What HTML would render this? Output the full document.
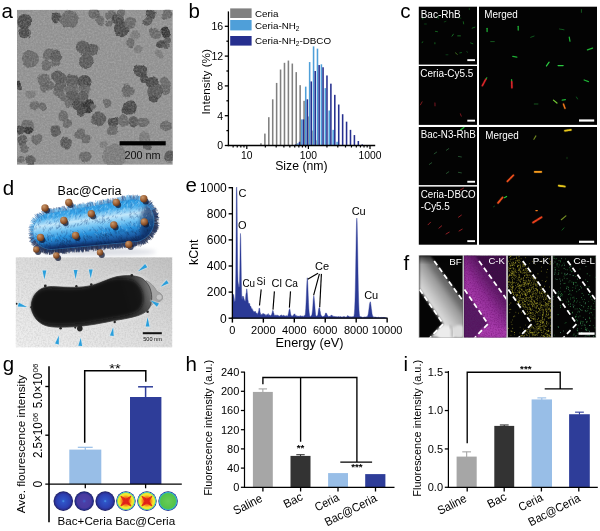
<!DOCTYPE html>
<html lang="en"><head><meta charset="utf-8"><title>Figure</title>
<style>html,body{margin:0;padding:0;background:#fff;overflow:hidden}svg{display:block}text{font-family:"Liberation Sans", Arial, Helvetica, sans-serif;}</style></head>
<body>
<svg width="600" height="531" viewBox="0 0 600 531">
<defs>
<clipPath id="clipA"><rect x="17.0" y="9.8" width="155.8" height="155.0"/></clipPath>
<filter id="blobA" x="-5%" y="-5%" width="110%" height="110%"><feTurbulence type="fractalNoise" baseFrequency="0.09" numOctaves="2" seed="4" result="t"/><feDisplacementMap in="SourceGraphic" in2="t" scale="5" xChannelSelector="R" yChannelSelector="G"/><feGaussianBlur stdDeviation="0.7"/></filter>
<filter id="noiseA" x="0" y="0" width="100%" height="100%"><feTurbulence type="fractalNoise" baseFrequency="0.55" numOctaves="2" seed="7"/><feColorMatrix type="matrix" values="0 0 0 0 0.5  0 0 0 0 0.5  0 0 0 0 0.5  1.6 0 0 0 -0.55"/></filter>
<filter id="noiseA2" x="0" y="0" width="100%" height="100%"><feTurbulence type="fractalNoise" baseFrequency="0.55" numOctaves="2" seed="11"/><feColorMatrix type="matrix" values="0 0 0 0 0.95  0 0 0 0 0.95  0 0 0 0 0.95  1.6 0 0 0 -0.6"/></filter>
<filter id="glowC" x="-20%" y="-20%" width="140%" height="140%"><feGaussianBlur stdDeviation="0.45"/></filter>
<linearGradient id="bodyD" gradientUnits="userSpaceOnUse" x1="89.2" y1="205" x2="94.8" y2="247"><stop offset="0" stop-color="#2a98e0"/><stop offset="0.16" stop-color="#3ea8ea"/><stop offset="0.34" stop-color="#c4e8fb"/><stop offset="0.5" stop-color="#74c4f3"/><stop offset="0.66" stop-color="#2a94de"/><stop offset="0.84" stop-color="#1c5fa8"/><stop offset="1" stop-color="#0c2050"/></linearGradient>
<radialGradient id="ballD" cx="0.35" cy="0.3" r="0.75"><stop offset="0" stop-color="#c9996c"/><stop offset="0.5" stop-color="#a2663a"/><stop offset="1" stop-color="#5e3218"/></radialGradient>
<filter id="softD" x="-10%" y="-10%" width="120%" height="120%"><feGaussianBlur stdDeviation="0.5"/></filter>
<filter id="shadD" x="-10%" y="-30%" width="120%" height="160%"><feGaussianBlur stdDeviation="2.2"/></filter>
<clipPath id="clipShad"><rect x="0" y="190" width="200" height="67.5"/></clipPath>
<clipPath id="clipBody"><path d="M153.80 220.60 L153.77 221.69 L153.69 222.77 L153.54 223.85 L153.35 224.92 L153.09 225.98 L152.78 227.03 L152.42 228.05 L152.00 229.06 L151.53 230.04 L151.01 231.00 L150.44 231.93 L149.83 232.83 L149.16 233.69 L148.46 234.52 L147.71 235.31 L146.92 236.06 L146.09 236.76 L145.23 237.43 L144.33 238.04 L143.40 238.61 L142.44 239.13 L141.46 239.60 L140.45 240.02 L139.43 240.38 L138.38 240.69 L137.32 240.95 L136.25 241.14 L135.17 241.29 L51.92 248.88 L51.00 248.90 L50.08 248.88 L49.16 248.80 L48.25 248.68 L47.34 248.52 L46.44 248.30 L45.56 248.04 L44.69 247.73 L43.84 247.38 L43.01 246.98 L42.20 246.54 L41.41 246.06 L40.65 245.54 L39.92 244.98 L39.22 244.38 L38.55 243.75 L37.92 243.08 L37.32 242.38 L36.76 241.65 L36.24 240.89 L35.76 240.10 L35.32 239.29 L34.92 238.46 L34.57 237.61 L34.26 236.74 L34.00 235.86 L33.78 234.96 L33.62 234.05 L33.50 233.14 L33.42 232.22 L33.40 231.30 L33.42 230.38 L33.50 229.46 L33.62 228.55 L33.78 227.64 L34.00 226.74 L34.26 225.86 L34.57 224.99 L34.92 224.14 L35.32 223.31 L35.76 222.50 L36.24 221.71 L36.76 220.95 L37.32 220.22 L37.92 219.52 L38.55 218.85 L39.22 218.22 L39.92 217.62 L40.65 217.06 L41.41 216.54 L42.20 216.06 L43.01 215.62 L43.84 215.22 L44.69 214.87 L45.56 214.56 L46.44 214.30 L47.34 214.08 L129.75 200.06 L130.83 199.91 L131.91 199.83 L133.00 199.80 L134.09 199.83 L135.17 199.91 L136.25 200.06 L137.32 200.25 L138.38 200.51 L139.43 200.82 L140.45 201.18 L141.46 201.60 L142.44 202.07 L143.40 202.59 L144.33 203.16 L145.23 203.77 L146.09 204.44 L146.92 205.14 L147.71 205.89 L148.46 206.68 L149.16 207.51 L149.83 208.37 L150.44 209.27 L151.01 210.20 L151.53 211.16 L152.00 212.14 L152.42 213.15 L152.78 214.17 L153.09 215.22 L153.35 216.28 L153.54 217.35 L153.69 218.43 L153.77 219.51 Z"/></clipPath>
<clipPath id="clipD2"><rect x="15.6" y="257.2" width="156.8" height="90.40000000000003"/></clipPath>
<linearGradient id="bgD2" x1="0" y1="1" x2="1" y2="0"><stop offset="0" stop-color="#f0f0f0"/><stop offset="0.5" stop-color="#dedede"/><stop offset="1" stop-color="#c2c2c2"/></linearGradient>
<filter id="blurD2" x="-5%" y="-10%" width="110%" height="120%"><feGaussianBlur stdDeviation="0.65"/></filter>
<filter id="blurD4" x="-5%" y="-10%" width="110%" height="120%"><feGaussianBlur stdDeviation="2.0"/></filter>
<filter id="blurD3" x="-20%" y="-20%" width="140%" height="140%"><feGaussianBlur stdDeviation="1.6"/></filter>
<filter id="noiseD" x="0" y="0" width="100%" height="100%"><feTurbulence type="fractalNoise" baseFrequency="0.6" numOctaves="2" seed="3"/><feColorMatrix type="matrix" values="0 0 0 0 0.3  0 0 0 0 0.3  0 0 0 0 0.3  1.5 0 0 0 -0.55"/></filter>
<radialGradient id="bacD2" cx="0.4" cy="0.5" r="0.7"><stop offset="0" stop-color="#131313"/><stop offset="0.7" stop-color="#1a1a1a"/><stop offset="1" stop-color="#242424"/></radialGradient>
<linearGradient id="bacD3" gradientUnits="userSpaceOnUse" x1="124" y1="300" x2="153" y2="292"><stop offset="0" stop-color="#2b2b2b"/><stop offset="0.45" stop-color="#383838"/><stop offset="0.75" stop-color="#5a5a5a"/><stop offset="1" stop-color="#808080"/></linearGradient>
<filter id="blurF" x="-10%" y="-10%" width="120%" height="120%"><feGaussianBlur stdDeviation="1.3"/></filter>
<filter id="blurF2" x="-10%" y="-10%" width="120%" height="120%"><feGaussianBlur stdDeviation="2.2"/></filter>
<filter id="noiseF" x="0" y="0" width="100%" height="100%"><feTurbulence type="fractalNoise" baseFrequency="0.7" numOctaves="2" seed="21"/><feColorMatrix type="matrix" values="0 0 0 0 0.1  0 0 0 0 0  0 0 0 0 0.1  1.8 0 0 0 -0.75"/></filter>
<linearGradient id="bandBF" gradientUnits="userSpaceOnUse" x1="427.5" y1="303" x2="448.5" y2="288"><stop offset="0" stop-color="#e2e2e2"/><stop offset="0.35" stop-color="#c4c4c4"/><stop offset="0.75" stop-color="#9a9a9a"/><stop offset="1" stop-color="#6a6a6a"/></linearGradient>
<linearGradient id="bandCK" gradientUnits="userSpaceOnUse" x1="472.3" y1="303" x2="493.3" y2="288"><stop offset="0" stop-color="#a83cac"/><stop offset="0.5" stop-color="#94309a"/><stop offset="1" stop-color="#641e6c"/></linearGradient>
<clipPath id="clipF0"><rect x="419.2" y="255.5" width="43.50" height="82.0"/></clipPath>
<clipPath id="clipF1"><rect x="464.0" y="255.5" width="42.30" height="82.0"/></clipPath>
<clipPath id="clipF2"><rect x="507.8" y="255.5" width="43.20" height="82.0"/></clipPath>
<clipPath id="clipF3"><rect x="552.6" y="255.5" width="43.20" height="82.0"/></clipPath>
<linearGradient id="vigF" x1="0" y1="0" x2="0" y2="1"><stop offset="0" stop-color="#000" stop-opacity="0.55"/><stop offset="1" stop-color="#000" stop-opacity="0"/></linearGradient>
<radialGradient id="wellB"><stop offset="0" stop-color="#4a9be8"/><stop offset="0.16" stop-color="#2f55c8"/><stop offset="0.7" stop-color="#2c3eb0"/><stop offset="0.86" stop-color="#2a2f90"/><stop offset="1" stop-color="#181c5a"/></radialGradient>
<radialGradient id="wellP"><stop offset="0" stop-color="#3f63c8"/><stop offset="0.2" stop-color="#4a3fa8"/><stop offset="0.7" stop-color="#4a3a9e"/><stop offset="0.86" stop-color="#2a2f90"/><stop offset="1" stop-color="#181c5a"/></radialGradient>
<radialGradient id="wellR"><stop offset="0" stop-color="#e8281a"/><stop offset="0.3" stop-color="#f0501c"/><stop offset="0.5" stop-color="#f7a81e"/><stop offset="0.64" stop-color="#f7e42a"/><stop offset="0.78" stop-color="#e8e83a"/><stop offset="0.86" stop-color="#7fd85a"/><stop offset="0.91" stop-color="#3fc0e0"/><stop offset="0.95" stop-color="#2444b0"/><stop offset="1" stop-color="#141a55"/></radialGradient>
<radialGradient id="wellG"><stop offset="0" stop-color="#66cc58"/><stop offset="0.74" stop-color="#55c248"/><stop offset="0.84" stop-color="#3fc088"/><stop offset="0.9" stop-color="#2fa8d8"/><stop offset="0.95" stop-color="#2444b0"/><stop offset="1" stop-color="#141a55"/></radialGradient>
</defs>
<g clip-path="url(#clipA)">
<rect x="17.00" y="9.80" width="155.80" height="155.00" fill="#8f8f8f" />
<g filter="url(#blobA)">
<circle cx="24.30" cy="21.10" r="7.00" fill="#404040" opacity="0.92"/>
<circle cx="24.30" cy="32.70" r="6.50" fill="#404040" opacity="0.92"/>
<circle cx="55.90" cy="18.00" r="5.40" fill="#404040" opacity="0.92"/>
<circle cx="69.00" cy="19.60" r="9.30" fill="#5e5e5e" opacity="0.85"/>
<circle cx="93.80" cy="13.40" r="5.40" fill="#5e5e5e" opacity="0.85"/>
<circle cx="82.90" cy="47.40" r="7.00" fill="#505050" opacity="0.9"/>
<circle cx="92.20" cy="48.90" r="6.20" fill="#505050" opacity="0.9"/>
<circle cx="86.80" cy="60.50" r="7.70" fill="#505050" opacity="0.9"/>
<circle cx="30.40" cy="59.00" r="8.50" fill="#5e5e5e" opacity="0.85"/>
<circle cx="48.20" cy="53.60" r="5.40" fill="#5e5e5e" opacity="0.85"/>
<circle cx="55.90" cy="55.90" r="5.40" fill="#505050" opacity="0.9"/>
<circle cx="46.70" cy="65.10" r="5.90" fill="#5e5e5e" opacity="0.85"/>
<circle cx="55.90" cy="62.00" r="4.60" fill="#5e5e5e" opacity="0.85"/>
<circle cx="43.60" cy="79.80" r="7.00" fill="#5e5e5e" opacity="0.85"/>
<circle cx="59.00" cy="77.50" r="7.00" fill="#505050" opacity="0.9"/>
<circle cx="72.10" cy="80.60" r="7.00" fill="#505050" opacity="0.9"/>
<circle cx="84.50" cy="82.10" r="7.00" fill="#404040" opacity="0.92"/>
<circle cx="18.90" cy="83.70" r="3.00" fill="#2c2c2c" opacity="0.95"/>
<circle cx="60.00" cy="86.00" r="6.00" fill="#505050" opacity="0.9"/>
<circle cx="49.00" cy="87.00" r="4.60" fill="#5e5e5e" opacity="0.85"/>
<circle cx="96.10" cy="14.20" r="3.90" fill="#5e5e5e" opacity="0.85"/>
<circle cx="100.70" cy="20.40" r="4.60" fill="#5e5e5e" opacity="0.85"/>
<circle cx="110.80" cy="14.90" r="4.60" fill="#5e5e5e" opacity="0.85"/>
<circle cx="109.20" cy="23.40" r="3.10" fill="#5e5e5e" opacity="0.85"/>
<circle cx="117.70" cy="19.60" r="6.20" fill="#404040" opacity="0.92"/>
<circle cx="121.60" cy="29.60" r="7.70" fill="#404040" opacity="0.92"/>
<circle cx="130.10" cy="23.40" r="5.40" fill="#5e5e5e" opacity="0.85"/>
<circle cx="120.80" cy="13.40" r="4.60" fill="#5e5e5e" opacity="0.85"/>
<circle cx="134.70" cy="35.00" r="4.60" fill="#727272" opacity="0.8"/>
<circle cx="130.10" cy="42.70" r="4.60" fill="#5e5e5e" opacity="0.85"/>
<circle cx="137.80" cy="48.90" r="3.90" fill="#727272" opacity="0.8"/>
<circle cx="150.10" cy="14.20" r="5.40" fill="#404040" opacity="0.92"/>
<circle cx="147.00" cy="21.10" r="4.60" fill="#505050" opacity="0.9"/>
<circle cx="167.10" cy="14.20" r="5.40" fill="#5e5e5e" opacity="0.85"/>
<circle cx="154.80" cy="33.50" r="5.40" fill="#5e5e5e" opacity="0.85"/>
<circle cx="165.60" cy="31.90" r="5.40" fill="#2c2c2c" opacity="0.95"/>
<circle cx="161.00" cy="43.50" r="4.60" fill="#404040" opacity="0.92"/>
<circle cx="167.10" cy="39.70" r="3.90" fill="#505050" opacity="0.9"/>
<circle cx="166.30" cy="46.60" r="3.40" fill="#505050" opacity="0.9"/>
<circle cx="159.40" cy="53.60" r="3.90" fill="#727272" opacity="0.8"/>
<circle cx="140.10" cy="71.30" r="7.00" fill="#404040" opacity="0.92"/>
<circle cx="144.00" cy="78.30" r="4.60" fill="#404040" opacity="0.92"/>
<circle cx="151.70" cy="82.10" r="6.20" fill="#404040" opacity="0.92"/>
<circle cx="165.60" cy="83.70" r="6.20" fill="#5e5e5e" opacity="0.85"/>
<circle cx="127.70" cy="87.50" r="3.90" fill="#5e5e5e" opacity="0.85"/>
<circle cx="18.90" cy="88.10" r="3.10" fill="#404040" opacity="0.92"/>
<circle cx="44.30" cy="87.30" r="5.40" fill="#5e5e5e" opacity="0.85"/>
<circle cx="59.80" cy="89.60" r="6.20" fill="#5e5e5e" opacity="0.85"/>
<circle cx="72.10" cy="88.90" r="6.20" fill="#5e5e5e" opacity="0.85"/>
<circle cx="84.50" cy="89.60" r="6.20" fill="#5e5e5e" opacity="0.85"/>
<circle cx="30.40" cy="94.30" r="4.30" fill="#727272" opacity="0.8"/>
<circle cx="35.10" cy="105.80" r="4.60" fill="#5e5e5e" opacity="0.85"/>
<circle cx="42.80" cy="106.60" r="4.30" fill="#5e5e5e" opacity="0.85"/>
<circle cx="68.30" cy="103.50" r="4.60" fill="#5e5e5e" opacity="0.85"/>
<circle cx="78.30" cy="104.30" r="6.20" fill="#404040" opacity="0.92"/>
<circle cx="87.60" cy="105.80" r="6.50" fill="#2c2c2c" opacity="0.95"/>
<circle cx="81.40" cy="111.30" r="4.60" fill="#404040" opacity="0.92"/>
<circle cx="62.90" cy="115.90" r="5.40" fill="#5e5e5e" opacity="0.85"/>
<circle cx="67.50" cy="123.60" r="4.60" fill="#5e5e5e" opacity="0.85"/>
<circle cx="55.90" cy="130.60" r="5.40" fill="#505050" opacity="0.9"/>
<circle cx="94.50" cy="120.50" r="3.90" fill="#5e5e5e" opacity="0.85"/>
<circle cx="27.40" cy="125.10" r="6.20" fill="#5e5e5e" opacity="0.85"/>
<circle cx="28.10" cy="130.60" r="4.60" fill="#2c2c2c" opacity="0.95"/>
<circle cx="21.20" cy="129.80" r="4.60" fill="#404040" opacity="0.92"/>
<circle cx="21.90" cy="140.60" r="5.40" fill="#505050" opacity="0.9"/>
<circle cx="36.60" cy="139.00" r="5.40" fill="#5e5e5e" opacity="0.85"/>
<circle cx="24.30" cy="148.30" r="4.60" fill="#5e5e5e" opacity="0.85"/>
<circle cx="79.90" cy="133.60" r="5.40" fill="#5e5e5e" opacity="0.85"/>
<circle cx="86.00" cy="139.00" r="4.60" fill="#5e5e5e" opacity="0.85"/>
<circle cx="66.00" cy="142.90" r="5.90" fill="#505050" opacity="0.9"/>
<circle cx="85.30" cy="156.80" r="6.20" fill="#5e5e5e" opacity="0.85"/>
<circle cx="30.40" cy="160.70" r="5.40" fill="#505050" opacity="0.9"/>
<circle cx="21.20" cy="159.10" r="3.00" fill="#5e5e5e" opacity="0.85"/>
<circle cx="72.00" cy="96.00" r="5.50" fill="#505050" opacity="0.9"/>
<circle cx="82.00" cy="96.50" r="5.50" fill="#505050" opacity="0.9"/>
<circle cx="63.00" cy="97.00" r="4.00" fill="#5e5e5e" opacity="0.85"/>
<circle cx="169.50" cy="157.00" r="5.50" fill="#505050" opacity="0.9"/>
<circle cx="127.70" cy="91.20" r="6.20" fill="#5e5e5e" opacity="0.85"/>
<circle cx="154.80" cy="92.00" r="7.70" fill="#505050" opacity="0.9"/>
<circle cx="153.20" cy="98.90" r="4.60" fill="#404040" opacity="0.92"/>
<circle cx="165.60" cy="89.60" r="4.60" fill="#5e5e5e" opacity="0.85"/>
<circle cx="106.90" cy="103.50" r="4.60" fill="#5e5e5e" opacity="0.85"/>
<circle cx="130.80" cy="107.40" r="7.00" fill="#404040" opacity="0.92"/>
<circle cx="126.20" cy="110.50" r="4.60" fill="#404040" opacity="0.92"/>
<circle cx="99.20" cy="118.20" r="7.00" fill="#505050" opacity="0.9"/>
<circle cx="113.10" cy="122.10" r="5.40" fill="#404040" opacity="0.92"/>
<circle cx="123.10" cy="120.50" r="5.40" fill="#5e5e5e" opacity="0.85"/>
<circle cx="133.90" cy="121.30" r="5.40" fill="#505050" opacity="0.9"/>
<circle cx="143.20" cy="122.80" r="5.40" fill="#5e5e5e" opacity="0.85"/>
<circle cx="113.10" cy="130.60" r="5.40" fill="#5e5e5e" opacity="0.85"/>
<circle cx="166.30" cy="125.90" r="5.40" fill="#5e5e5e" opacity="0.85"/>
<circle cx="144.00" cy="137.50" r="6.20" fill="#727272" opacity="0.8"/>
<circle cx="147.80" cy="146.00" r="3.90" fill="#505050" opacity="0.9"/>
<circle cx="103.80" cy="144.50" r="4.30" fill="#727272" opacity="0.8"/>
<circle cx="114.60" cy="156.00" r="11.60" fill="#727272" opacity="0.8"/>
<circle cx="169.40" cy="154.50" r="3.90" fill="#505050" opacity="0.9"/>
<circle cx="93.00" cy="107.40" r="2.30" fill="#5e5e5e" opacity="0.85"/>
</g>
<rect x="17.00" y="9.80" width="155.80" height="155.00" fill="#000" filter="url(#noiseA)" opacity="0.3"/>
<rect x="17.00" y="9.80" width="155.80" height="155.00" fill="#fff" filter="url(#noiseA2)" opacity="0.2"/>
</g>
<rect x="119.60" y="141.20" width="46.10" height="4.20" fill="#000" />
<text x="124.40" y="158.90" font-size="10.5" textLength="36.30" lengthAdjust="spacingAndGlyphs" fill="#111">200 nm</text>
<text x="1.60" y="18.00" font-size="20.5">a</text>
<rect x="260.18" y="143.26" width="1.55" height="2.24" fill="#808080" />
<rect x="264.10" y="133.58" width="1.55" height="11.92" fill="#808080" />
<rect x="268.02" y="117.19" width="1.55" height="28.31" fill="#808080" />
<rect x="271.94" y="99.31" width="1.55" height="46.19" fill="#808080" />
<rect x="275.86" y="82.92" width="1.55" height="62.58" fill="#808080" />
<rect x="279.78" y="69.51" width="1.55" height="75.99" fill="#808080" />
<rect x="283.70" y="62.81" width="1.55" height="82.69" fill="#808080" />
<rect x="287.62" y="60.57" width="1.55" height="84.93" fill="#808080" />
<rect x="291.54" y="63.55" width="1.55" height="81.95" fill="#808080" />
<rect x="295.46" y="72.12" width="1.55" height="73.38" fill="#808080" />
<rect x="299.38" y="85.16" width="1.55" height="60.34" fill="#808080" />
<rect x="303.30" y="100.80" width="1.55" height="44.70" fill="#808080" />
<rect x="307.22" y="116.44" width="1.55" height="29.06" fill="#808080" />
<rect x="311.14" y="130.60" width="1.55" height="14.90" fill="#808080" />
<rect x="315.05" y="140.28" width="1.55" height="5.22" fill="#808080" />
<rect x="297.11" y="143.26" width="1.55" height="2.24" fill="#4f9fd9" />
<rect x="301.03" y="119.42" width="1.55" height="26.08" fill="#4f9fd9" />
<rect x="304.95" y="86.64" width="1.55" height="58.86" fill="#4f9fd9" />
<rect x="308.87" y="62.06" width="1.55" height="83.44" fill="#4f9fd9" />
<rect x="312.79" y="46.41" width="1.55" height="99.09" fill="#4f9fd9" />
<rect x="316.70" y="48.65" width="1.55" height="96.85" fill="#4f9fd9" />
<rect x="320.62" y="64.30" width="1.55" height="81.20" fill="#4f9fd9" />
<rect x="324.54" y="88.13" width="1.55" height="57.37" fill="#4f9fd9" />
<rect x="328.46" y="110.48" width="1.55" height="35.02" fill="#4f9fd9" />
<rect x="332.38" y="129.85" width="1.55" height="15.65" fill="#4f9fd9" />
<rect x="336.30" y="141.78" width="1.55" height="3.72" fill="#4f9fd9" />
<rect x="294.84" y="144.38" width="1.55" height="1.12" fill="#262f8f" />
<rect x="298.76" y="141.78" width="1.55" height="3.72" fill="#262f8f" />
<rect x="302.68" y="119.42" width="1.55" height="26.08" fill="#262f8f" />
<rect x="306.60" y="99.31" width="1.55" height="46.19" fill="#262f8f" />
<rect x="310.52" y="81.43" width="1.55" height="64.07" fill="#262f8f" />
<rect x="314.44" y="71.00" width="1.55" height="74.50" fill="#262f8f" />
<rect x="318.35" y="65.04" width="1.55" height="80.46" fill="#262f8f" />
<rect x="322.27" y="67.27" width="1.55" height="78.23" fill="#262f8f" />
<rect x="326.19" y="75.47" width="1.55" height="70.03" fill="#262f8f" />
<rect x="330.11" y="83.66" width="1.55" height="61.84" fill="#262f8f" />
<rect x="334.03" y="94.84" width="1.55" height="50.66" fill="#262f8f" />
<rect x="337.95" y="104.53" width="1.55" height="40.97" fill="#262f8f" />
<rect x="341.87" y="114.21" width="1.55" height="31.29" fill="#262f8f" />
<rect x="345.79" y="121.66" width="1.55" height="23.84" fill="#262f8f" />
<rect x="349.71" y="129.85" width="1.55" height="15.65" fill="#262f8f" />
<rect x="353.63" y="135.07" width="1.55" height="10.43" fill="#262f8f" />
<rect x="357.55" y="141.03" width="1.55" height="4.47" fill="#262f8f" />
<rect x="361.47" y="144.38" width="1.55" height="1.12" fill="#262f8f" />
<line x1="228.40" y1="11.40" x2="228.40" y2="146.15" stroke="#000" stroke-width="1.3" />
<line x1="227.75" y1="145.50" x2="375.20" y2="145.50" stroke="#000" stroke-width="1.3" />
<line x1="224.80" y1="145.50" x2="228.40" y2="145.50" stroke="#000" stroke-width="1.3" />
<line x1="224.80" y1="115.70" x2="228.40" y2="115.70" stroke="#000" stroke-width="1.3" />
<line x1="224.80" y1="85.90" x2="228.40" y2="85.90" stroke="#000" stroke-width="1.3" />
<line x1="224.80" y1="56.10" x2="228.40" y2="56.10" stroke="#000" stroke-width="1.3" />
<line x1="224.80" y1="26.30" x2="228.40" y2="26.30" stroke="#000" stroke-width="1.3" />
<line x1="226.40" y1="130.60" x2="228.40" y2="130.60" stroke="#000" stroke-width="1.3" />
<line x1="226.40" y1="100.80" x2="228.40" y2="100.80" stroke="#000" stroke-width="1.3" />
<line x1="226.40" y1="71.00" x2="228.40" y2="71.00" stroke="#000" stroke-width="1.3" />
<line x1="226.40" y1="41.20" x2="228.40" y2="41.20" stroke="#000" stroke-width="1.3" />
<text x="223.20" y="149.30" font-size="10.5" text-anchor="end">0</text>
<text x="223.20" y="119.50" font-size="10.5" text-anchor="end">4</text>
<text x="223.20" y="89.70" font-size="10.5" text-anchor="end">8</text>
<text x="223.20" y="59.90" font-size="10.5" text-anchor="end">12</text>
<text x="223.20" y="30.10" font-size="10.5" text-anchor="end">16</text>
<line x1="233.13" y1="145.50" x2="233.13" y2="147.50" stroke="#000" stroke-width="1.2" />
<line x1="237.26" y1="145.50" x2="237.26" y2="147.50" stroke="#000" stroke-width="1.2" />
<line x1="240.83" y1="145.50" x2="240.83" y2="147.50" stroke="#000" stroke-width="1.2" />
<line x1="243.98" y1="145.50" x2="243.98" y2="147.50" stroke="#000" stroke-width="1.2" />
<line x1="246.80" y1="145.50" x2="246.80" y2="149.10" stroke="#000" stroke-width="1.2" />
<line x1="265.34" y1="145.50" x2="265.34" y2="147.50" stroke="#000" stroke-width="1.2" />
<line x1="276.19" y1="145.50" x2="276.19" y2="147.50" stroke="#000" stroke-width="1.2" />
<line x1="283.89" y1="145.50" x2="283.89" y2="147.50" stroke="#000" stroke-width="1.2" />
<line x1="289.86" y1="145.50" x2="289.86" y2="147.50" stroke="#000" stroke-width="1.2" />
<line x1="294.73" y1="145.50" x2="294.73" y2="147.50" stroke="#000" stroke-width="1.2" />
<line x1="298.86" y1="145.50" x2="298.86" y2="147.50" stroke="#000" stroke-width="1.2" />
<line x1="302.43" y1="145.50" x2="302.43" y2="147.50" stroke="#000" stroke-width="1.2" />
<line x1="305.58" y1="145.50" x2="305.58" y2="147.50" stroke="#000" stroke-width="1.2" />
<line x1="308.40" y1="145.50" x2="308.40" y2="149.10" stroke="#000" stroke-width="1.2" />
<line x1="326.94" y1="145.50" x2="326.94" y2="147.50" stroke="#000" stroke-width="1.2" />
<line x1="337.79" y1="145.50" x2="337.79" y2="147.50" stroke="#000" stroke-width="1.2" />
<line x1="345.49" y1="145.50" x2="345.49" y2="147.50" stroke="#000" stroke-width="1.2" />
<line x1="351.46" y1="145.50" x2="351.46" y2="147.50" stroke="#000" stroke-width="1.2" />
<line x1="356.33" y1="145.50" x2="356.33" y2="147.50" stroke="#000" stroke-width="1.2" />
<line x1="360.46" y1="145.50" x2="360.46" y2="147.50" stroke="#000" stroke-width="1.2" />
<line x1="364.03" y1="145.50" x2="364.03" y2="147.50" stroke="#000" stroke-width="1.2" />
<line x1="367.18" y1="145.50" x2="367.18" y2="147.50" stroke="#000" stroke-width="1.2" />
<line x1="370.00" y1="145.50" x2="370.00" y2="149.10" stroke="#000" stroke-width="1.2" />
<text x="246.80" y="159.20" font-size="10.3" text-anchor="middle">10</text>
<text x="308.40" y="159.20" font-size="10.3" text-anchor="middle">100</text>
<text x="370.00" y="159.20" font-size="10.3" text-anchor="middle">1000</text>
<text x="301.40" y="169.60" font-size="12" text-anchor="middle" textLength="52.40" lengthAdjust="spacingAndGlyphs">Size (nm)</text>
<text x="209.60" y="81.70" font-size="11.3" text-anchor="middle" textLength="65.40" lengthAdjust="spacingAndGlyphs" transform="rotate(-90 209.60 81.70)">Intensity (%)</text>
<rect x="230.20" y="8.40" width="21.40" height="9.60" fill="#808080" />
<rect x="230.20" y="20.00" width="21.40" height="10.40" fill="#4f9fd9" />
<rect x="230.20" y="36.00" width="21.40" height="9.60" fill="#262f8f" />
<text x="255.00" y="16.60" font-size="9.8">Ceria</text>
<text x="255.00" y="28.70" font-size="9.8">Ceria-NH<tspan font-size="6.6" dy="2.3">2</tspan></text>
<text x="255.00" y="43.80" font-size="9.8">Ceria-NH<tspan font-size="6.6" dy="2.3">2</tspan><tspan dy="-2.3">-DBCO</tspan></text>
<text x="188.60" y="18.00" font-size="20.5">b</text>
<rect x="418.80" y="6.70" width="58.20" height="57.90" fill="#030303" />
<rect x="418.80" y="66.00" width="58.20" height="58.90" fill="#030303" />
<rect x="418.80" y="127.00" width="58.20" height="58.10" fill="#030303" />
<rect x="418.80" y="186.60" width="58.20" height="58.10" fill="#030303" />
<rect x="479.00" y="6.70" width="118.00" height="118.20" fill="#030303" />
<rect x="479.00" y="127.00" width="118.00" height="117.70" fill="#030303" />
<g filter="url(#glowC)">
<line x1="487.10" y1="28.29" x2="487.10" y2="31.51" stroke="#22c43a" stroke-width="1.25" stroke-linecap="round" opacity="0.9"/>
<line x1="518.20" y1="26.36" x2="518.20" y2="30.04" stroke="#22c43a" stroke-width="1.25" stroke-linecap="round" opacity="0.9"/>
<line x1="490.66" y1="41.60" x2="494.34" y2="41.60" stroke="#1a7a2a" stroke-width="1.0" stroke-linecap="round" opacity="0.7"/>
<line x1="530.67" y1="37.33" x2="534.13" y2="36.07" stroke="#1a7a2a" stroke-width="1.0" stroke-linecap="round" opacity="0.7"/>
<line x1="559.53" y1="29.00" x2="564.07" y2="29.80" stroke="#1a7a2a" stroke-width="1.0" stroke-linecap="round" opacity="0.7"/>
<line x1="569.24" y1="37.16" x2="569.96" y2="41.24" stroke="#22c43a" stroke-width="1.25" stroke-linecap="round" opacity="0.9"/>
<line x1="581.40" y1="9.62" x2="581.40" y2="12.38" stroke="#1a7a2a" stroke-width="1.0" stroke-linecap="round" opacity="0.7"/>
<line x1="587.41" y1="49.94" x2="592.59" y2="48.06" stroke="#22c43a" stroke-width="1.25" stroke-linecap="round" opacity="0.9"/>
<line x1="512.76" y1="56.44" x2="516.84" y2="57.16" stroke="#22c43a" stroke-width="1.25" stroke-linecap="round" opacity="0.9"/>
<line x1="546.48" y1="65.98" x2="549.12" y2="62.22" stroke="#30e048" stroke-width="1.25" stroke-linecap="round" opacity="0.9"/>
<line x1="558.07" y1="65.60" x2="563.13" y2="65.60" stroke="#30e048" stroke-width="1.25" stroke-linecap="round" opacity="0.9"/>
<line x1="584.14" y1="80.01" x2="588.46" y2="81.59" stroke="#22c43a" stroke-width="1.25" stroke-linecap="round" opacity="0.9"/>
<line x1="534.26" y1="104.00" x2="537.94" y2="104.00" stroke="#1a7a2a" stroke-width="1.0" stroke-linecap="round" opacity="0.7"/>
<line x1="553.44" y1="100.12" x2="556.96" y2="103.08" stroke="#7fe03a" stroke-width="1.25" stroke-linecap="round" opacity="0.9"/>
<line x1="562.21" y1="100.18" x2="565.39" y2="99.62" stroke="#22c43a" stroke-width="1.25" stroke-linecap="round" opacity="0.9"/>
<line x1="576.42" y1="97.00" x2="577.58" y2="99.00" stroke="#1a7a2a" stroke-width="1.0" stroke-linecap="round" opacity="0.7"/>
<line x1="485.84" y1="79.40" x2="486.76" y2="77.80" stroke="#22c43a" stroke-width="1.25" stroke-linecap="round" opacity="0.9"/>
<line x1="511.60" y1="79.68" x2="511.60" y2="81.52" stroke="#22c43a" stroke-width="1.25" stroke-linecap="round" opacity="0.9"/>
<line x1="482.36" y1="85.69" x2="485.64" y2="79.51" stroke="#d8262a" stroke-width="2.70" stroke-linecap="round" opacity="0.20"/>
<line x1="482.36" y1="85.69" x2="483.77" y2="83.03" stroke="#d8262a" stroke-width="1.5" stroke-linecap="round" opacity="1.0"/>
<line x1="484.23" y1="82.17" x2="485.64" y2="79.51" stroke="#d8262a" stroke-width="1.5" stroke-linecap="round" opacity="1.0"/>
<line x1="482.36" y1="85.69" x2="485.64" y2="79.51" stroke="#d8262a" stroke-width="0.90" opacity="0.70"/>
<line x1="511.70" y1="81.80" x2="511.90" y2="87.80" stroke="#d8262a" stroke-width="2.70" stroke-linecap="round" opacity="0.20"/>
<line x1="511.70" y1="81.80" x2="511.79" y2="84.38" stroke="#d8262a" stroke-width="1.5" stroke-linecap="round" opacity="1.0"/>
<line x1="511.81" y1="85.22" x2="511.90" y2="87.80" stroke="#d8262a" stroke-width="1.5" stroke-linecap="round" opacity="1.0"/>
<line x1="511.70" y1="81.80" x2="511.90" y2="87.80" stroke="#d8262a" stroke-width="0.90" opacity="0.70"/>
<line x1="563.43" y1="104.09" x2="564.97" y2="108.31" stroke="#f0781e" stroke-width="2.50" stroke-linecap="round" opacity="0.20"/>
<line x1="563.43" y1="104.09" x2="564.09" y2="105.90" stroke="#f0781e" stroke-width="1.3" stroke-linecap="round" opacity="1.0"/>
<line x1="564.31" y1="106.50" x2="564.97" y2="108.31" stroke="#f0781e" stroke-width="1.3" stroke-linecap="round" opacity="1.0"/>
<line x1="563.43" y1="104.09" x2="564.97" y2="108.31" stroke="#f0781e" stroke-width="0.78" opacity="0.70"/>
<line x1="422.80" y1="17.38" x2="422.80" y2="19.11" stroke="#22c43a" stroke-width="0.85" stroke-linecap="round" opacity="0.55"/>
<line x1="438.13" y1="16.42" x2="438.13" y2="18.39" stroke="#22c43a" stroke-width="0.85" stroke-linecap="round" opacity="0.55"/>
<line x1="424.47" y1="24.01" x2="426.44" y2="24.01" stroke="#1a7a2a" stroke-width="0.85" stroke-linecap="round" opacity="0.55"/>
<line x1="444.21" y1="21.94" x2="446.06" y2="21.26" stroke="#1a7a2a" stroke-width="0.85" stroke-linecap="round" opacity="0.55"/>
<line x1="458.42" y1="17.78" x2="460.85" y2="18.21" stroke="#1a7a2a" stroke-width="0.85" stroke-linecap="round" opacity="0.55"/>
<line x1="463.29" y1="21.74" x2="463.68" y2="23.92" stroke="#22c43a" stroke-width="0.85" stroke-linecap="round" opacity="0.55"/>
<line x1="469.31" y1="8.18" x2="469.31" y2="9.66" stroke="#1a7a2a" stroke-width="0.85" stroke-linecap="round" opacity="0.55"/>
<line x1="472.16" y1="28.17" x2="474.94" y2="27.16" stroke="#22c43a" stroke-width="0.85" stroke-linecap="round" opacity="0.55"/>
<line x1="435.36" y1="31.32" x2="437.55" y2="31.70" stroke="#22c43a" stroke-width="0.85" stroke-linecap="round" opacity="0.55"/>
<line x1="452.03" y1="36.12" x2="453.44" y2="34.10" stroke="#30e048" stroke-width="0.85" stroke-linecap="round" opacity="0.55"/>
<line x1="457.69" y1="35.85" x2="460.40" y2="35.85" stroke="#30e048" stroke-width="0.85" stroke-linecap="round" opacity="0.55"/>
<line x1="470.56" y1="42.93" x2="472.88" y2="43.77" stroke="#22c43a" stroke-width="0.85" stroke-linecap="round" opacity="0.55"/>
<line x1="445.98" y1="54.79" x2="447.95" y2="54.79" stroke="#1a7a2a" stroke-width="0.85" stroke-linecap="round" opacity="0.55"/>
<line x1="455.44" y1="52.82" x2="457.33" y2="54.40" stroke="#7fe03a" stroke-width="0.85" stroke-linecap="round" opacity="0.55"/>
<line x1="459.78" y1="52.92" x2="461.48" y2="52.62" stroke="#22c43a" stroke-width="0.85" stroke-linecap="round" opacity="0.55"/>
<line x1="466.83" y1="51.30" x2="467.44" y2="52.37" stroke="#1a7a2a" stroke-width="0.85" stroke-linecap="round" opacity="0.55"/>
<line x1="422.10" y1="42.78" x2="422.70" y2="41.74" stroke="#22c43a" stroke-width="0.85" stroke-linecap="round" opacity="0.55"/>
<line x1="434.88" y1="42.65" x2="434.88" y2="43.85" stroke="#22c43a" stroke-width="0.85" stroke-linecap="round" opacity="0.55"/>
<line x1="420.44" y1="104.88" x2="422.09" y2="101.79" stroke="#8a1c22" stroke-width="0.9" stroke-linecap="round" opacity="1.0"/>
<line x1="434.93" y1="102.92" x2="435.03" y2="105.92" stroke="#8a1c22" stroke-width="0.9" stroke-linecap="round" opacity="1.0"/>
<line x1="460.39" y1="113.80" x2="461.25" y2="116.15" stroke="#8a1c22" stroke-width="0.9" stroke-linecap="round" opacity="1.0"/>
<line x1="564.93" y1="130.72" x2="570.87" y2="129.88" stroke="#e8c81e" stroke-width="2.90" stroke-linecap="round" opacity="0.20"/>
<line x1="564.93" y1="130.72" x2="567.48" y2="130.36" stroke="#e8c81e" stroke-width="1.7" stroke-linecap="round" opacity="1.0"/>
<line x1="568.32" y1="130.24" x2="570.87" y2="129.88" stroke="#e8c81e" stroke-width="1.7" stroke-linecap="round" opacity="1.0"/>
<line x1="564.93" y1="130.72" x2="570.87" y2="129.88" stroke="#e8c81e" stroke-width="1.02" opacity="0.70"/>
<line x1="533.90" y1="139.33" x2="535.90" y2="135.87" stroke="#8aa82a" stroke-width="1.1" stroke-linecap="round" opacity="0.8"/>
<line x1="534.75" y1="171.90" x2="541.25" y2="171.90" stroke="#f59a1e" stroke-width="2.80" stroke-linecap="round" opacity="0.20"/>
<line x1="534.75" y1="171.90" x2="537.54" y2="171.90" stroke="#f59a1e" stroke-width="1.6" stroke-linecap="round" opacity="1.0"/>
<line x1="538.46" y1="171.90" x2="541.25" y2="171.90" stroke="#f59a1e" stroke-width="1.6" stroke-linecap="round" opacity="1.0"/>
<line x1="534.75" y1="171.90" x2="541.25" y2="171.90" stroke="#f59a1e" stroke-width="0.96" opacity="0.70"/>
<line x1="507.39" y1="181.31" x2="513.41" y2="175.29" stroke="#f0501e" stroke-width="2.80" stroke-linecap="round" opacity="0.20"/>
<line x1="507.39" y1="181.31" x2="509.98" y2="178.72" stroke="#f0501e" stroke-width="1.6" stroke-linecap="round" opacity="1.0"/>
<line x1="510.82" y1="177.88" x2="513.41" y2="175.29" stroke="#f0501e" stroke-width="1.6" stroke-linecap="round" opacity="1.0"/>
<line x1="507.39" y1="181.31" x2="513.41" y2="175.29" stroke="#f0501e" stroke-width="0.96" opacity="0.70"/>
<line x1="558.83" y1="185.68" x2="564.77" y2="186.52" stroke="#e8c81e" stroke-width="2.90" stroke-linecap="round" opacity="0.20"/>
<line x1="558.83" y1="185.68" x2="561.38" y2="186.04" stroke="#e8c81e" stroke-width="1.7" stroke-linecap="round" opacity="1.0"/>
<line x1="562.22" y1="186.16" x2="564.77" y2="186.52" stroke="#e8c81e" stroke-width="1.7" stroke-linecap="round" opacity="1.0"/>
<line x1="558.83" y1="185.68" x2="564.77" y2="186.52" stroke="#e8c81e" stroke-width="1.02" opacity="0.70"/>
<line x1="498.05" y1="202.88" x2="502.55" y2="197.52" stroke="#f0501e" stroke-width="2.90" stroke-linecap="round" opacity="0.20"/>
<line x1="498.05" y1="202.88" x2="499.99" y2="200.58" stroke="#f0501e" stroke-width="1.7" stroke-linecap="round" opacity="1.0"/>
<line x1="500.61" y1="199.82" x2="502.55" y2="197.52" stroke="#f0501e" stroke-width="1.7" stroke-linecap="round" opacity="1.0"/>
<line x1="498.05" y1="202.88" x2="502.55" y2="197.52" stroke="#f0501e" stroke-width="1.02" opacity="0.70"/>
<line x1="504.42" y1="197.72" x2="506.58" y2="196.47" stroke="#22c43a" stroke-width="1.2" stroke-linecap="round" opacity="1.0"/>
<line x1="533.06" y1="222.55" x2="541.54" y2="217.25" stroke="#e8401e" stroke-width="2.90" stroke-linecap="round" opacity="0.20"/>
<line x1="533.06" y1="222.55" x2="536.71" y2="220.27" stroke="#e8401e" stroke-width="1.7" stroke-linecap="round" opacity="1.0"/>
<line x1="537.89" y1="219.53" x2="541.54" y2="217.25" stroke="#e8401e" stroke-width="1.7" stroke-linecap="round" opacity="1.0"/>
<line x1="533.06" y1="222.55" x2="541.54" y2="217.25" stroke="#e8401e" stroke-width="1.02" opacity="0.70"/>
<line x1="561.30" y1="219.73" x2="565.90" y2="215.87" stroke="#8aa82a" stroke-width="1.2" stroke-linecap="round" opacity="0.85"/>
<line x1="535.85" y1="210.60" x2="537.35" y2="210.60" stroke="#f0781e" stroke-width="1.1" stroke-linecap="round" opacity="1.0"/>
<line x1="562.04" y1="230.15" x2="563.96" y2="227.85" stroke="#1a7a2a" stroke-width="0.9" stroke-linecap="round" opacity="0.8"/>
<line x1="493.52" y1="207.07" x2="494.48" y2="205.93" stroke="#1a7a2a" stroke-width="0.9" stroke-linecap="round" opacity="0.8"/>
<line x1="567.00" y1="157.25" x2="567.00" y2="158.75" stroke="#1a7a2a" stroke-width="0.8" stroke-linecap="round" opacity="0.6"/>
<line x1="460.66" y1="129.75" x2="463.94" y2="127.45" stroke="#22c43a" stroke-width="1.1" stroke-linecap="round" opacity="1.0"/>
<line x1="434.17" y1="153.86" x2="436.63" y2="152.14" stroke="#3f8f52" stroke-width="0.85" stroke-linecap="round" opacity="0.65"/>
<line x1="446.37" y1="150.26" x2="448.83" y2="148.54" stroke="#3f8f52" stroke-width="0.85" stroke-linecap="round" opacity="0.65"/>
<line x1="458.42" y1="156.44" x2="461.38" y2="156.96" stroke="#3f8f52" stroke-width="0.85" stroke-linecap="round" opacity="0.65"/>
<line x1="429.27" y1="164.46" x2="431.73" y2="162.74" stroke="#3f8f52" stroke-width="0.85" stroke-linecap="round" opacity="0.65"/>
<line x1="446.37" y1="173.46" x2="448.83" y2="171.74" stroke="#3f8f52" stroke-width="0.85" stroke-linecap="round" opacity="0.65"/>
<line x1="458.42" y1="172.34" x2="461.38" y2="172.86" stroke="#3f8f52" stroke-width="0.85" stroke-linecap="round" opacity="0.65"/>
<line x1="458.43" y1="217.23" x2="461.37" y2="215.17" stroke="#c02830" stroke-width="1.0" stroke-linecap="round" opacity="0.75"/>
<line x1="428.03" y1="224.77" x2="430.57" y2="222.23" stroke="#c02830" stroke-width="1.0" stroke-linecap="round" opacity="0.75"/>
<line x1="438.92" y1="228.16" x2="441.68" y2="225.84" stroke="#c02830" stroke-width="1.0" stroke-linecap="round" opacity="0.75"/>
<line x1="446.04" y1="234.00" x2="449.16" y2="232.20" stroke="#c02830" stroke-width="1.0" stroke-linecap="round" opacity="0.75"/>
<line x1="459.04" y1="231.00" x2="462.16" y2="229.20" stroke="#c02830" stroke-width="1.0" stroke-linecap="round" opacity="0.75"/>
<line x1="460.44" y1="189.90" x2="463.56" y2="188.10" stroke="#c02830" stroke-width="1.0" stroke-linecap="round" opacity="0.75"/>
</g>
<rect x="467.30" y="59.20" width="7.70" height="1.90" fill="#fff" />
<rect x="467.30" y="119.70" width="7.70" height="1.90" fill="#fff" />
<rect x="467.30" y="180.80" width="7.70" height="1.90" fill="#fff" />
<rect x="467.30" y="240.20" width="7.70" height="1.90" fill="#fff" />
<rect x="579.00" y="119.40" width="15.20" height="2.20" fill="#fff" />
<rect x="579.00" y="240.70" width="15.20" height="2.20" fill="#fff" />
<text x="420.70" y="17.50" font-size="10.4" textLength="40.00" lengthAdjust="spacingAndGlyphs" fill="#fff">Bac-RhB</text>
<text x="420.30" y="76.70" font-size="10.4" textLength="53.00" lengthAdjust="spacingAndGlyphs" fill="#fff">Ceria-Cy5.5</text>
<text x="420.70" y="137.70" font-size="10.4" textLength="55.00" lengthAdjust="spacingAndGlyphs" fill="#fff">Bac-N3-RhB</text>
<text x="420.70" y="197.70" font-size="10.4" textLength="54.90" lengthAdjust="spacingAndGlyphs" fill="#fff">Ceria-DBCO</text>
<text x="420.70" y="210.00" font-size="10.4" textLength="29.20" lengthAdjust="spacingAndGlyphs" fill="#fff">-Cy5.5</text>
<text x="484.20" y="17.70" font-size="10.4" textLength="33.50" lengthAdjust="spacingAndGlyphs" fill="#fff">Merged</text>
<text x="485.20" y="139.20" font-size="10.4" textLength="33.50" lengthAdjust="spacingAndGlyphs" fill="#fff">Merged</text>
<text x="400.20" y="17.70" font-size="20.5">c</text>
<g clip-path="url(#clipD2)">
<rect x="15.60" y="257.20" width="156.80" height="90.40" fill="url(#bgD2)" />
<rect x="15.60" y="257.20" width="156.80" height="90.40" fill="#000" filter="url(#noiseD)" opacity="0.32"/>
<path d="M31.3 307 C31.3 303 32.3 299 34 296 C36 292.5 39 290 42 288.5 C45 287.2 48.5 286.6 52.5 286.6 C60 286.9 68 287.6 75.2 287.4 C81 287.2 87 286.6 92.2 285.4 C97 284.2 102 282 106.3 280.3 C111 278.3 116 276.6 120.5 276.1 C125 275.5 130 275.4 134.6 276.1 C139 276.8 142.5 278 144.6 280.3 C147.5 283.5 149.4 286 150.2 288.8 C151.5 292.5 152 296.5 151.6 300.2 C151.2 304 149.8 307.5 147.4 310.1 C145 312.8 141.5 314.5 137.5 315.7 C131 317.7 124 319 117.6 320 C110 321.3 102 323 95 324.2 C86 325.7 76 326.8 66.7 327.1 C60 327.3 53 327.3 48 326.2 C43.5 325.2 40 323 37.5 320.5 C35 318 33.2 314.5 32.2 311.5 C31.6 309.8 31.3 308.5 31.3 307 Z" fill="#e4e4e4" stroke="#e4e4e4" stroke-width="5" filter="url(#blurD3)" opacity="0.6"/>
<path d="M146 280.5 C151 282.5 155 287.5 157 291.5 C160 292.3 163 295 162.6 298 C162.2 301.2 158 302.2 154 303.2 C151.5 304.2 149.5 308 147 312 Z" fill="#a4a4a4" stroke="#8a8a8a" stroke-width="0.7" filter="url(#softD)"/>
<circle cx="159.2" cy="297.2" r="3.1" fill="#c4c4c4" stroke="#8e8e8e" stroke-width="0.6" filter="url(#softD)"/>
<path d="M31.3 307 C31.3 303 32.3 299 34 296 C36 292.5 39 290 42 288.5 C45 287.2 48.5 286.6 52.5 286.6 C60 286.9 68 287.6 75.2 287.4 C81 287.2 87 286.6 92.2 285.4 C97 284.2 102 282 106.3 280.3 C111 278.3 116 276.6 120.5 276.1 C125 275.5 130 275.4 134.6 276.1 C139 276.8 142.5 278 144.6 280.3 C147.5 283.5 149.4 286 150.2 288.8 C151.5 292.5 152 296.5 151.6 300.2 C151.2 304 149.8 307.5 147.4 310.1 C145 312.8 141.5 314.5 137.5 315.7 C131 317.7 124 319 117.6 320 C110 321.3 102 323 95 324.2 C86 325.7 76 326.8 66.7 327.1 C60 327.3 53 327.3 48 326.2 C43.5 325.2 40 323 37.5 320.5 C35 318 33.2 314.5 32.2 311.5 C31.6 309.8 31.3 308.5 31.3 307 Z" fill="url(#bacD3)" stroke="#3c3c3c" stroke-width="0.8" filter="url(#blurD2)"/>
<path d="M31.3 307 C31.3 303 32.3 299 34 296 C36 292.5 39 290 42 288.5 C45 287.2 48.5 286.6 52.5 286.6 C60 286.9 68 287.6 75.2 287.4 C81 287.2 87 286.6 92.2 285.4 C97 284.2 102 282 106.3 280.3 C111 278.3 116 276.6 120.5 276.1 C125 275.5 130 275.4 134.6 276.1 C139 276.8 142.5 278 144.6 280.3 C147.5 283.5 149.4 286 150.2 288.8 C151.5 292.5 152 296.5 151.6 300.2 C151.2 304 149.8 307.5 147.4 310.1 C145 312.8 141.5 314.5 137.5 315.7 C131 317.7 124 319 117.6 320 C110 321.3 102 323 95 324.2 C86 325.7 76 326.8 66.7 327.1 C60 327.3 53 327.3 48 326.2 C43.5 325.2 40 323 37.5 320.5 C35 318 33.2 314.5 32.2 311.5 C31.6 309.8 31.3 308.5 31.3 307 Z" fill="#101010" opacity="0.8" filter="url(#blurD4)" transform="translate(91 302) scale(0.93 0.88) translate(-95.5 -302)"/>
<circle cx="45.30" cy="286.00" r="1.40" fill="#262626" filter="url(#softD)"/>
<circle cx="76.40" cy="286.30" r="1.20" fill="#262626" filter="url(#softD)"/>
<circle cx="91.30" cy="284.60" r="1.30" fill="#262626" filter="url(#softD)"/>
<circle cx="131.80" cy="275.40" r="1.40" fill="#262626" filter="url(#softD)"/>
<circle cx="79.80" cy="328.60" r="2.80" fill="#262626" filter="url(#softD)"/>
<circle cx="60.60" cy="328.20" r="1.30" fill="#262626" filter="url(#softD)"/>
<circle cx="75.30" cy="327.60" r="1.10" fill="#262626" filter="url(#softD)"/>
<circle cx="114.70" cy="322.00" r="1.20" fill="#262626" filter="url(#softD)"/>
<circle cx="147.60" cy="311.80" r="1.30" fill="#262626" filter="url(#softD)"/>
<circle cx="16.60" cy="303.80" r="1.00" fill="#262626" filter="url(#softD)"/>
<circle cx="31.60" cy="307.20" r="1.20" fill="#262626" filter="url(#softD)"/>
<circle cx="80.50" cy="325.80" r="1.60" fill="#262626" filter="url(#softD)"/>
</g>
<path d="M4.40 0 L-4.40 -1.90 L-4.40 1.90 Z" fill="#d8ecf6" stroke="#d8ecf6" stroke-width="1.6" opacity="0.55" filter="url(#softD)" transform="translate(44.4 274.9) rotate(90)"/>
<path d="M4.40 0 L-4.40 -1.90 L-4.40 1.90 Z" fill="#2a9fdc" transform="translate(44.4 274.9) rotate(90)"/>
<path d="M4.40 0 L-4.40 -1.90 L-4.40 1.90 Z" fill="#d8ecf6" stroke="#d8ecf6" stroke-width="1.6" opacity="0.55" filter="url(#softD)" transform="translate(75.6 274.5) rotate(90)"/>
<path d="M4.40 0 L-4.40 -1.90 L-4.40 1.90 Z" fill="#2a9fdc" transform="translate(75.6 274.5) rotate(90)"/>
<path d="M4.40 0 L-4.40 -1.90 L-4.40 1.90 Z" fill="#d8ecf6" stroke="#d8ecf6" stroke-width="1.6" opacity="0.55" filter="url(#softD)" transform="translate(90.7 273.8) rotate(90)"/>
<path d="M4.40 0 L-4.40 -1.90 L-4.40 1.90 Z" fill="#2a9fdc" transform="translate(90.7 273.8) rotate(90)"/>
<path d="M4.95 0 L-4.95 -1.90 L-4.95 1.90 Z" fill="#d8ecf6" stroke="#d8ecf6" stroke-width="1.6" opacity="0.55" filter="url(#softD)" transform="translate(142.1 268.4) rotate(145.5)"/>
<path d="M4.95 0 L-4.95 -1.90 L-4.95 1.90 Z" fill="#2a9fdc" transform="translate(142.1 268.4) rotate(145.5)"/>
<path d="M4.35 0 L-4.35 -1.90 L-4.35 1.90 Z" fill="#d8ecf6" stroke="#d8ecf6" stroke-width="1.6" opacity="0.55" filter="url(#softD)" transform="translate(164.1 284.2) rotate(144.5)"/>
<path d="M4.35 0 L-4.35 -1.90 L-4.35 1.90 Z" fill="#2a9fdc" transform="translate(164.1 284.2) rotate(144.5)"/>
<path d="M4.35 0 L-4.35 -1.90 L-4.35 1.90 Z" fill="#d8ecf6" stroke="#d8ecf6" stroke-width="1.6" opacity="0.55" filter="url(#softD)" transform="translate(154.3 302.8) rotate(213)"/>
<path d="M4.35 0 L-4.35 -1.90 L-4.35 1.90 Z" fill="#2a9fdc" transform="translate(154.3 302.8) rotate(213)"/>
<path d="M4.50 0 L-4.50 -1.90 L-4.50 1.90 Z" fill="#d8ecf6" stroke="#d8ecf6" stroke-width="1.6" opacity="0.55" filter="url(#softD)" transform="translate(147.6 322.1) rotate(-90)"/>
<path d="M4.50 0 L-4.50 -1.90 L-4.50 1.90 Z" fill="#2a9fdc" transform="translate(147.6 322.1) rotate(-90)"/>
<path d="M4.15 0 L-4.15 -1.90 L-4.15 1.90 Z" fill="#d8ecf6" stroke="#d8ecf6" stroke-width="1.6" opacity="0.55" filter="url(#softD)" transform="translate(112.5 331.7) rotate(-81)"/>
<path d="M4.15 0 L-4.15 -1.90 L-4.15 1.90 Z" fill="#2a9fdc" transform="translate(112.5 331.7) rotate(-81)"/>
<path d="M4.00 0 L-4.00 -1.90 L-4.00 1.90 Z" fill="#d8ecf6" stroke="#d8ecf6" stroke-width="1.6" opacity="0.55" filter="url(#softD)" transform="translate(80.5 341.9) rotate(-86)"/>
<path d="M4.00 0 L-4.00 -1.90 L-4.00 1.90 Z" fill="#2a9fdc" transform="translate(80.5 341.9) rotate(-86)"/>
<path d="M4.20 0 L-4.20 -1.90 L-4.20 1.90 Z" fill="#d8ecf6" stroke="#d8ecf6" stroke-width="1.6" opacity="0.55" filter="url(#softD)" transform="translate(57.9 339.9) rotate(-77.5)"/>
<path d="M4.20 0 L-4.20 -1.90 L-4.20 1.90 Z" fill="#2a9fdc" transform="translate(57.9 339.9) rotate(-77.5)"/>
<path d="M4.50 0 L-4.50 -1.90 L-4.50 1.90 Z" fill="#d8ecf6" stroke="#d8ecf6" stroke-width="1.6" opacity="0.55" filter="url(#softD)" transform="translate(22.7 305.9) rotate(15.5)"/>
<path d="M4.50 0 L-4.50 -1.90 L-4.50 1.90 Z" fill="#2a9fdc" transform="translate(22.7 305.9) rotate(15.5)"/>
<rect x="142.80" y="332.20" width="19.00" height="2.00" fill="#111" />
<text x="143.20" y="341.10" font-size="5.6" textLength="18.60" lengthAdjust="spacingAndGlyphs" fill="#111">500 nm</text>
<g clip-path="url(#clipShad)"><ellipse cx="98" cy="252" rx="58" ry="4" fill="#8a93a8" opacity="0.3" filter="url(#shadD)"/></g>
<g opacity="0.92" fill="none" stroke-width="0.5">
<path stroke="#0c1430" d="M103.6 242.7L102.7 247.0M47.6 247.0L47.6 253.9M63.5 246.3L63.8 251.3M134.6 239.8L133.7 245.9M149.9 229.9L156.6 230.9M97.8 243.2L96.8 248.7M117.3 241.4L119.3 245.7M66.3 246.1L65.7 251.8M84.8 244.4L84.7 248.1M81.3 244.7L79.9 249.7M125.3 240.7L124.0 246.2M44.1 245.8L41.1 252.2M93.9 243.6L93.2 247.0M95.4 243.4L96.9 247.5M43.5 245.6L41.1 249.5M90.4 243.9L91.9 249.1M82.8 244.6L82.2 251.4M57.6 246.9L58.9 252.8M121.3 241.0L122.0 245.0M150.3 229.1L156.7 231.2M75.3 245.2L76.8 248.5M142.2 237.6L142.8 242.3M147.8 232.9L152.3 234.6M132.4 240.0L134.2 244.2M148.2 232.4L151.9 234.5M147.8 233.0L151.1 235.2M86.5 244.2L86.7 248.4M75.0 245.3L75.8 248.8M106.5 242.4L108.4 246.4M98.6 243.1L99.8 246.4M97.3 243.2L97.6 250.2M142.2 237.6L147.4 241.9M79.3 244.9L79.3 249.4M152.3 221.0L157.9 219.3M122.1 241.0L124.4 246.1M61.3 246.5L63.5 252.5M58.5 246.8L58.6 250.7M127.6 240.5L128.2 243.9M109.7 242.1L111.4 246.5M43.3 245.5L40.2 248.2M46.0 246.6L44.7 250.9M152.3 221.2L157.8 222.7M142.5 237.4L147.0 241.1M133.8 239.9L134.9 245.6M132.1 240.1L133.4 246.6M130.0 240.3L131.8 244.1M54.7 247.1L56.3 252.6M48.5 247.2L47.7 252.1M131.1 240.2L132.8 246.1M139.8 238.7L142.7 242.3M125.9 240.6L125.6 245.9M45.0 246.2L42.5 252.3M55.9 247.0L55.4 252.7M136.8 239.5L135.9 246.0M145.2 235.6L149.4 240.0M140.9 238.2L143.5 244.8M132.7 240.0L133.2 244.6M56.6 247.0L55.2 252.4M147.3 233.6L152.5 238.0M84.4 244.4L86.2 250.3M152.3 220.9L159.1 219.9M55.7 247.0L57.5 252.5M116.3 241.5L114.7 247.9M89.4 244.0L90.4 247.6M110.7 242.0L109.7 247.3M74.0 245.4L73.1 251.8M149.4 230.8L153.9 233.6M143.8 236.6L148.0 240.7M82.2 244.6L83.0 248.4M135.7 239.7L135.2 244.3M138.4 239.1L138.3 244.4M134.6 239.8L135.6 243.1M144.6 236.1L146.6 239.3M43.4 245.5L41.6 249.4M124.2 240.8L124.6 247.2M51.0 247.4L50.6 251.8M107.0 242.4L104.8 248.6M103.2 242.7L105.6 248.0M88.5 244.0L89.1 248.1M96.1 243.3L94.6 248.7M152.2 222.5L157.2 224.0M137.0 239.5L139.8 243.9M91.7 243.8L92.1 248.0M143.6 236.7L145.8 241.4M52.8 247.3L53.8 252.7M71.9 245.6L72.3 249.4M83.5 244.5L83.0 250.2M98.7 243.1L99.9 246.5M47.5 247.0L45.4 253.7M123.8 240.8L122.9 244.8M143.3 237.0L145.5 242.0M124.6 240.7L126.6 247.2M59.4 246.7L58.8 252.9M60.6 246.6L60.0 253.2M59.9 246.7L62.4 251.4M46.3 246.7L43.8 253.0M110.5 242.0L111.8 247.8M43.9 245.8L42.1 250.7M43.6 245.6L42.4 251.9M58.3 246.8L59.4 253.0M116.4 241.5L117.9 244.9M79.1 244.9L78.7 249.7M145.7 235.2L151.1 238.8M152.3 219.3L158.5 219.5M118.9 241.3L118.5 247.0M122.1 241.0L121.9 247.4M152.1 223.2L156.4 224.5M123.8 240.8L121.6 247.2M141.4 238.0L144.6 243.0M131.8 240.1L131.0 244.3M97.9 243.2L98.2 250.3M100.8 242.9L100.9 246.8M146.7 234.2L148.5 237.5M106.4 242.4L108.4 248.0M91.2 243.8L92.3 250.0M111.0 242.0L112.8 246.1M113.7 241.7L113.9 247.4M103.0 242.7L104.8 249.0M71.3 245.6L70.3 250.2M72.8 245.5L72.4 249.5M116.1 241.5L118.0 248.3M151.0 227.5L154.1 230.0M151.5 226.2L155.0 227.3M152.2 222.5L155.7 224.0M63.5 246.3L62.4 250.8M145.3 235.5L146.9 239.8M52.5 247.3L52.4 251.1M148.5 232.1L154.7 234.5M151.9 224.4L157.5 225.4M114.2 241.7L115.7 247.9M128.7 240.4L128.6 244.9M150.6 228.5L156.1 231.9M47.7 247.0L45.3 251.5M94.6 243.5L94.1 247.0M110.7 242.0L109.9 245.5M88.8 244.0L90.7 248.6M79.8 244.8L82.4 250.1M45.8 246.5L45.1 251.8M105.1 242.5L104.1 249.3M131.0 240.2L130.8 244.7M52.4 247.3L52.0 251.7M106.3 242.4L105.4 247.6M134.5 239.8L134.6 246.6M125.5 240.7L126.9 244.3M41.9 244.6L37.5 249.6M148.4 232.2L152.2 237.4M108.8 242.2L110.0 245.7M125.6 240.7L126.0 247.2M53.6 247.2L53.8 251.8M134.2 239.9L134.7 244.4M42.0 244.7L39.2 249.8M105.5 242.5L107.2 246.4M87.9 244.1L87.4 247.7M55.4 247.1L55.4 252.9M97.0 243.3L99.2 249.6M57.3 246.9L59.0 250.9M141.4 238.0L144.8 242.0M78.2 245.0L77.9 249.1M92.3 243.7L90.9 250.1M147.3 233.5L152.1 235.9M48.7 247.2L45.7 252.8M121.6 241.0L120.5 245.0M76.9 245.1L76.1 250.4M152.2 218.9L155.9 218.4M115.4 241.6L116.5 246.0M151.0 227.5L154.4 229.1M52.6 247.3L53.0 254.0M152.0 223.8L158.0 225.0M136.6 239.6L135.3 245.5M152.3 219.6L157.0 217.5M135.4 239.8L136.2 245.3M49.7 247.4L47.6 253.5M129.0 240.3L130.2 243.9M146.0 234.9L151.4 239.3M145.5 235.3L149.7 239.8M118.0 241.3L119.4 244.6M147.6 233.3L150.0 238.0M75.8 245.2L75.9 248.8M133.6 239.9L132.3 245.1M132.7 240.0L132.1 244.5M49.2 247.3L48.6 251.2M56.1 247.0L57.1 251.3M152.2 223.0L156.8 223.8M49.5 247.3L47.1 252.2M124.2 240.8L125.1 244.7M65.3 246.2L63.7 252.4M112.9 241.8L114.6 247.9M146.6 234.3L151.5 239.2M50.8 247.4L50.2 254.3M149.1 231.3L151.5 233.8M65.4 246.2L67.1 251.6M140.1 238.6L140.9 242.4M148.1 232.6L151.4 234.2M87.2 244.2L85.8 249.1M110.8 242.0L112.0 246.3M152.3 219.5L157.4 217.4M46.5 246.8L46.7 253.5M114.8 241.6L117.8 247.9M47.2 246.9L45.5 252.3M131.8 240.1L134.3 245.0M47.6 247.0L46.0 250.8M73.0 245.5L71.9 249.8M146.4 234.5L148.6 239.6M113.1 241.8L112.6 245.9M59.4 246.7L59.1 252.1M56.6 247.0L56.4 253.5M136.1 239.6L137.1 243.0M126.4 240.6L127.7 243.8M92.1 243.7L91.5 248.7M105.6 242.5L105.7 248.1M55.3 247.1L54.6 251.6M62.1 246.5L62.3 253.5M50.0 247.4L50.8 250.9M56.3 246.0L59.5 253.9M150.3 226.6L157.6 229.4M75.2 244.3L74.7 252.7M148.5 210.9L154.0 209.0M37.1 237.2L29.7 238.6M133.2 239.0L134.6 244.2M150.6 215.6L155.6 212.6M135.7 238.7L136.8 245.4M91.6 242.8L92.7 249.7M149.7 213.0L155.3 208.5M84.1 243.4L82.9 250.7M67.7 244.9L69.0 252.9M148.3 230.6L153.3 235.4M132.1 239.1L133.1 245.5M60.5 245.6L58.9 252.7M49.1 246.3L45.8 253.1M150.9 216.9L157.8 216.7M93.6 242.6L96.3 250.9M72.1 244.5L73.7 250.5M108.2 241.2L109.0 247.1M134.7 238.8L134.3 245.2M75.6 244.2L76.9 252.0M110.6 241.0L111.0 250.0M57.8 245.8L58.5 252.6M64.5 245.2L66.2 251.3M63.1 245.4L63.1 252.0M132.4 239.0L134.3 246.0M150.8 224.9L158.2 225.9M138.8 237.9L141.7 243.1M151.3 220.5L156.8 220.2M60.3 245.6L62.8 251.7M108.7 241.2L107.9 247.1M151.2 218.4L158.3 215.8M147.0 232.4L152.8 238.0M42.2 243.6L37.1 250.1M150.8 216.4L156.8 212.9M150.1 214.0L157.8 210.1M135.1 238.8L135.7 246.8M108.6 241.2L109.4 247.5M56.0 246.0L55.9 251.7M47.7 246.0L43.8 253.4M62.0 245.5L62.1 252.5M83.0 243.5L81.9 249.5M151.0 217.5L157.5 216.0M150.1 227.0L157.0 230.3M90.3 242.9L88.9 250.6M57.3 245.9L57.4 253.3M143.0 236.0L147.0 242.9M104.3 241.6L104.3 248.0M116.8 240.5L115.4 247.3M148.8 211.4L153.8 207.3M129.1 239.3L128.7 248.2M135.3 238.8L136.7 246.0M43.9 244.6L39.9 249.4M151.0 223.8L159.6 223.3M82.4 243.6L81.2 250.1M77.4 244.0L79.0 251.9M150.1 227.0L158.8 228.9M90.5 242.9L92.1 248.8M90.4 242.9L92.3 249.3M145.9 233.5L149.5 239.6M50.8 246.4L52.2 254.2M80.7 243.7L79.4 250.8M119.6 240.2L118.8 248.2M128.1 239.4L129.5 247.2M65.0 245.2L65.2 251.4M49.9 246.4L49.5 254.8M118.6 240.3L119.2 246.2M93.5 242.6L91.8 249.6M150.8 224.6L156.8 226.3M79.4 243.9L77.9 250.7M148.2 210.5L153.0 205.5M146.6 208.4L152.5 201.8M51.8 246.4L51.9 253.9M48.4 246.2L48.9 252.2M58.3 245.8L58.0 251.8M46.2 245.6L45.4 251.9M61.4 245.5L62.5 251.2M98.8 242.1L100.0 248.9M52.1 246.4L52.1 254.3M123.3 239.9L126.7 247.4M117.3 240.4L115.8 247.3M64.6 245.2L66.0 253.9M40.0 241.7L34.3 247.4M88.0 243.1L88.8 251.8M124.5 239.8L126.9 246.2M37.1 237.1L28.5 237.8M66.4 245.1L65.0 252.7M96.4 242.3L98.3 248.2M83.8 243.5L85.1 250.0M111.7 240.9L112.8 249.4M55.6 246.0L58.5 252.6M119.3 240.2L120.4 245.8M149.6 228.3L157.1 230.2M84.9 243.4L83.0 251.3M108.2 241.2L110.2 246.8M142.6 236.2L148.1 243.2M108.5 241.2L107.6 249.1M54.1 246.2L55.7 253.1M51.7 246.4L54.4 253.6M150.9 217.0L156.5 216.4M95.5 242.4L96.9 248.1M150.7 215.9L157.8 216.3M140.3 237.4L143.8 243.7M73.4 244.4L72.9 250.4M141.8 236.6L146.0 243.6M137.7 238.3L138.7 245.2M151.0 224.1L157.8 223.8M107.6 241.3L108.8 247.1M140.4 237.4L145.6 243.9M117.2 240.4L118.7 247.7M79.9 243.8L82.6 251.7M149.2 229.1L156.3 230.8M147.2 209.0L153.2 205.5M128.2 239.4L129.9 246.2M102.1 241.8L102.8 248.7M116.0 240.5L117.6 247.2M146.4 233.1L149.5 237.7M150.3 226.7L158.9 227.3M86.5 243.2L87.7 248.9M150.2 226.9L155.6 228.3M146.0 207.7L152.0 202.5"/>
<path stroke="#101a3a" d="M150.8 228.1L154.5 231.5M56.9 246.9L57.9 250.6M119.9 241.2L122.3 247.0M83.0 244.5L83.4 251.5M79.5 244.9L82.1 249.7M146.7 234.2L153.1 236.7M78.2 245.0L78.1 251.4M151.3 214.3L156.1 212.6M62.4 246.4L61.6 252.6M65.7 246.1L64.2 252.4M116.4 241.5L116.6 247.8M56.6 247.0L55.6 251.4M81.9 244.6L82.5 250.3M102.9 242.7L101.4 248.2M144.6 236.0L147.1 239.5M57.3 246.9L58.7 250.3M109.7 242.1L108.4 247.1M150.3 229.2L155.5 232.2M115.4 241.6L117.0 245.4M138.8 239.0L139.7 244.1M63.5 246.3L62.9 251.3M70.4 245.7L71.9 250.5M151.7 216.0L158.0 216.7M62.0 246.5L61.7 252.1M78.0 245.0L79.9 251.5M150.6 212.6L155.7 209.7M55.2 247.1L55.1 251.0M104.8 242.6L106.0 247.0M112.1 241.9L113.2 245.2M58.7 246.8L58.4 251.9M151.8 224.8L156.9 228.5M81.1 244.7L80.3 249.3M42.8 245.2L38.6 248.8M112.7 241.8L114.1 246.7M59.1 246.7L61.5 252.5M152.2 222.8L158.4 223.0M126.1 240.6L126.5 245.4M90.4 243.9L89.9 248.3M144.7 235.9L147.3 240.4M80.2 244.8L81.8 251.2M37.7 240.4L34.7 242.6M50.5 247.4L52.2 253.1M40.6 243.6L38.4 247.3M139.4 238.8L140.6 243.8M118.9 241.3L121.3 246.7M68.6 245.9L69.1 252.0M101.9 242.8L102.1 246.7M107.2 242.3L108.0 248.1M152.3 221.5L157.3 220.9M38.7 241.6L33.3 244.8M60.1 246.6L62.0 253.0M39.4 242.5L34.1 246.8M78.8 244.9L78.8 249.9M139.8 238.7L142.4 242.6M78.2 245.0L78.3 249.8M119.3 241.2L119.1 245.9M86.2 244.3L86.8 248.3M148.7 231.9L153.4 234.2M131.3 240.1L131.2 246.9M89.1 244.0L88.4 248.1M81.3 244.7L82.9 248.2M100.3 243.0L100.2 247.2M131.5 240.1L131.1 245.7M79.3 244.9L79.3 250.4M141.9 237.7L143.4 242.2M71.1 245.6L72.3 251.5M130.4 240.2L131.0 245.3M70.3 245.7L70.7 252.0M150.7 213.0L155.6 210.9M135.6 239.7L137.4 244.9M75.0 245.3L78.2 251.3M45.3 246.4L44.6 249.8M75.9 245.2L78.0 250.2M134.1 239.9L134.0 245.5M151.3 226.8L156.8 228.3M144.3 236.2L145.6 239.7M101.9 242.8L99.8 249.2M68.0 245.9L67.7 249.5M44.5 246.0L41.0 250.0M139.4 238.8L141.2 242.4M42.0 244.6L36.9 248.2M102.9 242.7L105.4 249.3M90.7 243.8L92.0 247.3M149.9 229.9L155.2 231.9M65.8 246.1L65.3 250.0M131.2 240.1L129.5 245.9M40.3 243.3L38.0 246.6M129.9 240.3L132.4 245.5M42.3 244.8L39.3 250.6M60.4 246.6L62.8 253.1M115.9 241.5L118.8 247.1M62.2 246.4L60.3 252.5M94.3 243.5L95.8 247.9M37.4 239.8L33.4 243.6M122.9 240.9L124.9 247.2M95.0 243.4L97.6 249.7M114.6 241.7L114.5 246.7M92.9 243.6L91.3 249.9M143.0 237.1L143.9 240.9M150.8 228.0L157.2 229.3M101.5 242.9L101.7 246.7M53.8 247.2L53.3 251.3M150.2 211.9L154.9 208.2M69.3 245.8L70.7 250.5M107.6 242.3L108.1 248.6M108.1 242.3L107.8 246.2M50.3 247.4L50.8 250.9M119.0 241.3L118.1 247.0M49.8 247.4L50.6 250.9M104.0 242.6L105.1 246.1M46.4 246.7L45.5 250.5M85.0 244.4L85.0 249.0M151.4 214.9L157.7 214.0M60.0 246.6L60.9 250.2M43.1 245.3L41.0 250.7M61.6 246.5L60.6 252.2M109.7 242.1L112.7 248.2M50.3 247.4L49.9 251.3M150.4 212.2L156.1 211.2M44.2 245.9L40.9 249.9M56.6 247.0L56.9 250.7M82.1 244.6L83.3 248.9M78.5 245.0L76.6 251.3M64.5 246.2L63.9 250.9M49.6 247.3L49.9 251.3M80.0 244.8L81.8 251.2M117.6 241.4L117.1 244.9M99.4 243.1L101.0 247.3M75.3 245.2L75.9 249.4M116.2 241.5L116.3 246.1M111.5 241.9L109.9 247.7M52.8 247.3L55.3 252.7M151.8 225.1L157.6 227.6M98.5 243.1L99.2 248.8M131.5 240.1L132.4 246.7M149.8 230.2L156.2 232.9M137.5 239.4L138.2 246.4M151.6 215.6L157.4 211.9M152.3 220.1L156.6 221.1M92.4 243.7L93.5 250.6M63.3 246.3L65.1 250.7M98.0 243.2L97.6 247.8M99.0 243.1L100.3 250.0M137.4 239.4L137.2 244.4M151.7 216.0L158.1 214.7M150.5 228.6L156.9 230.9M90.8 243.8L92.9 248.2M48.0 247.1L48.9 251.8M152.2 218.7L157.9 216.6M123.7 240.8L126.0 246.9M113.4 241.8L114.8 245.5M115.9 241.5L116.1 245.8M132.6 240.0L131.2 245.6M87.6 244.1L85.6 250.6M151.6 225.7L157.5 226.0M70.4 245.7L70.1 250.4M139.2 238.9L143.7 243.9M45.2 246.3L42.8 249.5M152.0 217.0L156.5 214.9M152.3 219.9L156.0 220.8M145.0 235.7L147.7 240.6M98.9 243.1L101.5 248.2M111.6 241.9L112.3 247.6M151.9 216.9L158.3 217.7M149.3 230.9L155.1 234.4M152.0 217.0L157.0 215.7M120.3 241.1L120.7 244.9M138.9 239.0L141.9 244.5M72.3 245.5L72.5 249.3M75.4 245.2L75.3 249.4M38.8 241.8L33.5 246.2M124.1 240.8L125.8 247.4M117.8 241.4L117.5 246.0M39.5 242.6L33.5 245.0M152.3 222.0L158.0 224.5M45.0 246.3L44.4 250.2M71.7 245.6L71.0 249.1M74.0 245.4L73.2 250.5M59.9 246.7L60.8 252.8M39.8 242.9L35.6 246.0M118.4 241.3L119.8 245.9M46.3 246.7L44.7 250.3M72.5 245.5L74.4 249.3M62.5 246.4L61.9 249.8M76.6 245.1L75.9 252.1M150.6 212.6L154.7 212.1M52.8 247.3L51.7 253.3M101.9 242.8L100.5 248.6M137.0 239.5L139.0 243.3M128.9 240.4L130.7 245.6M125.4 240.7L127.2 245.8M84.4 244.4L83.5 248.9M46.8 246.8L44.6 250.4M43.4 245.5L41.8 251.0M56.1 247.0L57.1 251.5M110.3 242.1L109.6 248.1M151.6 215.6L158.1 216.6M53.4 247.3L53.4 251.6M135.4 239.7L136.7 243.4M64.5 246.2L65.8 250.9M47.1 246.9L47.0 252.4M149.0 231.4L151.5 234.6M151.1 227.2L154.7 229.9M102.6 242.8L104.3 247.5M94.4 243.5L94.4 247.7M50.2 247.4L50.5 252.1M149.3 230.9L152.6 233.5M99.0 243.1L100.4 248.8M46.5 246.8L44.1 253.2M145.0 235.7L146.5 239.8M37.7 240.4L33.5 245.5M87.2 244.2L88.5 247.8M40.3 243.3L35.2 247.4M95.8 243.4L96.2 248.8M94.4 242.5L93.9 248.0M63.5 245.3L64.3 253.5M66.2 245.1L67.4 251.2M37.2 237.5L29.7 241.5M106.5 241.4L109.3 248.5M66.2 245.1L66.7 253.6M57.3 245.9L56.0 254.6M38.5 239.7L34.2 243.4M143.9 235.3L148.2 239.5M132.2 239.1L133.5 245.6M134.9 238.8L135.1 246.1M147.0 208.9L150.9 204.5M134.8 238.8L136.0 244.7M145.3 207.0L151.1 201.3M44.9 245.1L42.2 253.1M135.2 238.8L135.9 244.3M63.6 245.3L64.2 254.1M105.3 241.5L106.6 248.0M86.5 243.2L86.3 251.2M142.2 236.4L144.8 243.5M38.5 239.7L32.1 245.4M132.2 239.0L132.6 246.5M78.1 244.0L78.6 252.5M51.4 246.4L53.3 252.6M68.9 244.8L68.3 250.7M41.9 243.4L35.1 248.5M121.7 240.0L124.5 247.8M149.8 227.9L156.0 231.3M130.2 239.2L131.0 245.0M134.5 238.8L135.5 244.8M74.8 244.3L74.0 251.1M72.6 244.5L71.5 251.5M129.0 239.3L129.3 245.5M150.4 226.3L158.1 227.3M50.5 246.4L51.3 254.5M77.5 244.0L79.3 251.6M116.2 240.5L115.8 247.8M46.5 245.7L44.9 254.1M137.4 238.4L140.4 246.8M67.1 245.0L67.5 252.2M69.5 244.8L69.5 250.6M80.5 243.8L83.4 251.4M67.9 244.9L70.0 250.6M127.9 239.4L128.2 245.6M100.7 241.9L100.6 248.6M78.1 244.0L80.5 249.9M149.8 227.8L155.4 228.8M105.5 241.5L104.6 247.5M134.4 238.8L133.8 245.3M148.5 210.8L155.5 207.2M50.6 246.4L48.9 252.1M95.5 242.4L97.6 250.0M38.5 239.8L31.4 242.7M94.8 242.5L98.2 250.5M94.7 242.5L97.3 250.3M123.4 239.9L126.6 247.6M147.2 232.2L151.4 236.0M87.1 243.2L86.7 250.9M150.9 216.9L156.1 214.6M100.0 242.0L97.9 250.0M83.8 243.5L86.1 251.0M119.4 240.2L119.9 248.8M71.2 244.6L71.6 250.7M105.8 241.5L105.4 248.0M144.7 206.5L147.9 202.0M46.2 245.6L45.1 251.1M130.8 239.2L131.6 244.7M92.5 242.7L94.2 250.4M83.2 243.5L84.0 249.3M113.2 240.8L112.7 249.2M140.4 237.3L141.7 244.2M142.3 236.4L145.2 243.3M105.9 241.4L107.4 247.6M125.9 239.6L126.9 246.2M68.5 244.9L68.8 252.2M150.7 215.8L157.5 214.3M144.6 206.5L150.7 200.7M47.3 245.9L47.1 251.7M48.1 246.1L46.0 254.6M151.1 223.2L157.0 223.3M149.3 212.3L155.2 210.4M60.4 245.6L61.4 252.3M85.5 243.3L85.8 252.1M47.3 245.9L43.7 251.9M37.4 237.9L33.2 241.4M64.6 245.2L63.1 253.4M146.4 208.1L152.3 202.9M141.1 237.0L145.3 241.8M147.6 209.5L151.3 205.3M149.0 229.6L153.7 234.5M86.7 243.2L88.8 248.6M37.6 238.3L31.3 241.5M120.4 240.1L119.8 248.6M92.5 242.7L94.4 247.7M128.6 239.4L130.4 245.9M49.0 246.3L49.4 254.7M147.7 231.5L151.9 237.1M102.9 241.7L105.0 248.4M101.3 241.9L103.2 248.0M151.3 221.1L156.9 221.4M133.8 238.9L135.7 244.3M146.1 233.3L153.6 236.7M125.4 239.7L128.6 247.1M84.2 243.4L85.6 249.0M37.8 238.6L31.7 242.5M119.2 240.2L121.2 246.1M94.7 242.5L96.5 249.7M148.3 210.5L156.6 208.4M112.9 240.8L113.2 246.5M88.8 243.0L90.4 249.0M69.8 244.7L70.0 252.1M36.5 235.3L30.6 237.7M61.2 245.5L63.8 253.6M45.9 245.5L42.1 252.2M96.6 242.3L95.3 250.9M137.4 238.4L140.0 243.7M114.5 240.7L116.8 246.5"/>
<path stroke="#16264f" d="M147.6 233.2L150.9 235.6M105.7 242.5L104.7 246.5M150.3 212.0L155.7 208.1M61.1 246.5L63.6 251.3M141.5 237.9L142.1 243.4M81.4 244.7L79.9 249.4M74.9 245.3L75.4 249.7M133.3 239.9L133.7 246.4M35.0 233.0L29.7 233.4M37.5 240.1L31.8 242.9M118.2 241.3L120.9 247.4M57.0 246.9L57.1 252.6M58.9 246.7L58.9 250.4M149.2 210.1L154.4 206.3M56.3 247.0L58.0 251.9M62.5 246.4L62.6 252.6M152.3 221.4L157.7 222.4M144.4 236.2L146.0 240.1M152.3 220.2L157.7 217.9M122.7 240.9L123.6 246.5M131.7 240.1L131.7 245.0M64.7 246.2L63.3 251.8M82.7 244.6L83.0 251.5M150.7 228.2L156.7 228.4M140.8 238.2L143.6 244.4M125.6 240.7L126.8 246.3M149.9 229.9L156.7 231.6M52.7 247.3L54.2 250.7M86.3 244.2L87.3 248.2M82.5 244.6L81.9 250.5M43.8 245.7L43.5 252.5M111.8 241.9L110.9 246.0M140.1 238.6L144.4 244.0M36.4 238.1L30.6 239.3M90.6 243.9L92.1 249.5M129.7 240.3L130.5 244.4M89.0 244.0L88.9 249.7M43.0 245.2L39.6 249.0M129.2 240.3L128.8 246.8M151.4 214.8L154.9 213.9M47.1 246.9L45.8 251.8M145.8 235.0L148.1 239.7M74.7 245.3L74.4 251.8M142.4 237.5L144.3 241.9M97.4 243.2L96.1 249.0M147.0 233.9L149.8 237.1M34.9 232.4L29.1 235.3M42.1 244.7L39.6 249.5M89.1 244.0L89.4 249.3M145.5 235.3L149.2 237.9M116.9 241.4L116.9 245.8M149.6 230.5L153.4 235.8M107.6 242.3L107.1 248.2M127.6 240.5L128.3 245.4M82.8 244.6L81.9 248.5M146.7 234.2L148.7 237.1M35.9 236.9L32.0 240.4M108.0 242.3L108.8 245.9M107.7 242.3L107.2 247.8M35.1 234.1L30.6 233.2M48.3 247.2L47.2 252.0M100.0 243.0L99.3 247.4M76.0 245.2L76.7 248.9M71.9 245.6L72.7 251.5M130.1 240.2L130.8 243.9M149.3 231.0L152.1 233.6M59.8 246.7L58.1 252.6M54.2 247.2L52.1 253.2M150.0 229.7L155.3 233.4M69.4 245.8L68.6 250.4M92.7 243.7L93.8 247.6M53.9 247.2L52.9 251.3M149.9 229.9L153.9 231.9M108.8 242.2L109.0 249.0M103.4 242.7L105.9 248.6M41.2 244.1L38.6 247.6M151.5 215.1L156.4 215.2M73.1 245.4L71.5 251.1M74.6 245.3L76.8 250.0M91.6 243.8L93.7 247.9M136.5 239.6L138.4 243.7M98.6 243.1L98.9 246.8M59.2 246.7L59.9 251.1M110.3 242.1L112.0 246.7M135.7 239.7L135.8 244.7M87.5 244.1L87.6 247.6M48.5 247.2L48.5 251.0M73.9 245.4L74.0 249.3M107.7 242.3L110.2 247.3M145.5 235.3L148.1 237.8M129.9 240.3L129.8 245.9M151.9 224.5L155.2 225.8M146.9 234.0L149.4 238.3M44.3 245.9L40.9 249.1M136.6 239.6L138.5 243.4M150.9 213.4L153.8 211.1M42.5 245.0L38.6 250.0M128.7 240.4L130.1 247.2M97.3 243.2L96.4 247.1M109.8 242.1L107.9 247.9M145.6 235.3L151.0 238.3M77.7 245.0L79.6 248.8M78.3 245.0L80.3 249.8M122.2 241.0L124.3 246.9M85.0 244.4L85.6 248.9M151.6 225.6L155.7 227.0M101.1 242.9L101.2 249.5M111.6 241.9L110.2 248.4M115.5 241.6L117.2 245.9M67.8 245.9L67.6 251.7M80.3 244.8L79.1 250.7M120.8 241.1L122.4 245.8M35.3 234.9L31.9 236.0M126.0 240.6L128.2 247.0M71.1 245.6L71.5 249.3M150.1 229.5L153.4 231.1M142.3 237.5L144.1 243.0M115.6 241.6L113.9 247.5M127.5 240.5L126.7 244.1M150.6 228.6L154.6 231.7M147.9 208.3L152.3 206.3M125.5 240.7L127.4 245.5M150.9 227.7L155.5 230.1M46.4 246.7L44.9 252.9M130.6 240.2L129.5 244.9M115.1 241.6L117.4 246.7M109.3 242.1L107.8 247.2M152.0 223.8L157.7 227.5M81.7 244.7L81.1 250.3M151.4 226.3L155.7 227.7M68.2 245.9L66.2 251.9M150.2 229.4L155.0 231.5M121.6 241.0L123.5 247.3M136.5 239.6L136.2 245.8M116.4 241.5L117.9 247.0M150.1 229.5L155.0 230.3M84.5 244.4L85.1 249.1M57.4 246.9L58.2 250.9M151.6 225.8L158.3 226.8M58.8 246.8L60.6 252.2M151.8 216.3L156.0 215.9M63.5 246.3L63.0 251.7M133.5 239.9L132.8 244.9M61.0 246.6L63.4 251.2M91.9 243.7L90.9 249.4M137.6 239.3L139.8 242.6M151.7 216.0L155.5 214.3M39.7 242.8L36.4 247.0M135.2 239.8L135.8 244.5M54.5 247.1L54.7 250.7M41.7 244.4L38.6 248.6M48.2 247.2L49.5 252.9M115.2 241.6L116.5 245.2M133.2 240.0L132.3 245.1M59.5 246.7L60.9 251.8M79.0 244.9L78.8 249.4M151.2 226.9L156.8 228.3M106.1 242.4L105.1 248.4M152.2 219.1L156.1 219.7M141.5 237.9L142.8 244.2M133.4 239.9L136.1 245.6M91.6 243.8L93.1 247.5M152.3 221.8L156.9 221.8M97.7 243.2L98.6 247.1M144.1 204.8L147.5 198.9M120.0 241.2L121.1 246.1M125.5 240.7L124.9 247.3M118.5 241.3L121.5 247.3M45.1 246.3L44.3 250.1M150.7 212.8L156.0 212.4M105.4 242.5L107.0 248.3M47.8 247.1L48.9 252.5M127.3 240.5L128.2 244.5M78.1 245.0L79.0 249.5M59.8 246.7L60.0 252.6M64.4 246.2L65.4 250.3M133.5 239.9L133.6 246.2M115.5 241.6L114.8 248.0M78.8 244.9L79.8 248.3M118.2 241.3L117.9 247.2M43.5 245.5L39.8 249.8M84.3 244.4L86.5 250.8M141.0 238.1L143.3 244.2M131.7 240.1L132.2 245.9M69.3 245.8L71.1 251.4M35.6 235.9L31.0 239.8M147.9 232.8L151.9 236.6M151.6 225.9L158.0 228.3M75.7 245.2L78.6 251.4M103.1 242.7L103.0 247.1M130.3 240.2L129.5 243.6M42.0 244.6L38.6 249.9M38.1 240.9L31.8 244.1M53.9 247.2L56.4 252.8M91.2 243.8L89.2 249.6M151.7 225.5L156.5 226.3M94.9 243.5L94.4 249.4M102.4 242.8L104.0 248.3M117.1 241.4L119.1 247.1M35.8 236.6L31.5 238.6M151.2 227.2L156.1 231.6M35.0 233.3L30.9 234.5M83.7 244.5L85.5 248.3M152.1 217.6L156.1 216.6M87.4 244.1L87.7 251.1M151.3 226.8L157.7 228.2M151.6 225.6L155.0 227.1M152.1 223.7L158.0 226.6M151.6 225.7L157.2 229.5M67.8 245.9L68.6 249.8M102.4 242.8L101.6 247.3M36.1 237.4L32.7 239.4M47.6 247.0L46.0 253.2M35.8 236.6L31.6 239.6M131.3 240.1L129.7 245.1M98.2 243.2L99.0 247.2M144.2 235.1L147.8 239.9M49.9 246.4L48.8 251.9M38.3 239.4L31.5 244.6M85.4 243.3L84.4 249.9M129.5 239.3L128.5 246.6M50.3 246.4L51.4 253.5M71.2 244.6L71.7 250.1M150.1 227.2L156.0 229.8M77.1 244.1L76.6 251.7M140.4 237.3L141.6 245.7M147.5 209.4L154.1 205.6M45.4 245.3L40.1 251.8M146.7 232.7L153.4 236.1M40.8 242.4L35.7 249.2M138.7 238.0L139.3 243.6M99.9 242.0L98.3 250.7M56.7 245.9L57.5 252.0M70.9 244.6L71.7 250.6M146.5 208.3L151.9 203.6M115.9 240.5L115.0 247.8M148.0 231.1L153.0 235.6M94.9 242.5L96.0 248.0M132.3 239.0L133.3 247.0M62.1 245.5L64.4 253.3M88.1 243.1L89.7 249.7M113.6 240.7L115.8 248.7M47.6 246.0L47.3 254.7M44.6 245.0L40.1 250.1M41.7 243.2L39.4 248.8M38.4 239.6L32.1 242.9M37.1 237.2L30.7 239.9M63.8 245.3L62.6 254.1M98.7 242.1L97.8 248.0M87.5 243.1L87.9 248.8M42.9 244.0L39.9 250.3M73.3 244.4L72.6 250.4M65.9 245.1L64.1 252.7M126.3 239.6L128.8 247.0M43.4 244.3L41.1 252.3M89.5 242.9L88.8 248.6M103.7 241.6L104.6 250.2M117.4 240.4L118.1 249.1M123.1 239.9L120.9 248.0M73.7 244.4L74.1 250.0M151.3 219.9L157.1 220.2M101.8 241.8L101.1 247.4M113.0 240.8L114.7 246.6M67.5 245.0L69.7 251.0M118.0 240.3L117.3 248.5M40.1 241.8L35.4 247.3M99.8 242.0L98.8 249.8M64.6 245.2L65.8 253.2M150.0 227.5L157.5 229.6M142.9 236.0L147.6 241.7M150.5 225.9L157.4 227.7M37.7 238.5L33.0 241.3M150.3 226.7L156.8 231.3M66.3 245.1L66.5 251.6M139.0 237.9L140.4 245.2M62.4 245.4L65.0 253.6M88.8 243.0L86.8 251.5M46.0 245.6L41.5 252.5M47.6 246.0L44.4 252.7M81.4 243.7L82.6 252.5M41.4 243.0L35.1 248.0M85.7 243.3L87.1 251.3M64.5 245.2L66.9 251.9M149.0 229.5L154.3 232.7M134.8 238.8L133.0 246.9M93.1 242.6L93.3 251.5M123.2 239.9L123.7 245.7M120.4 240.1L120.6 248.1M116.2 240.5L118.3 246.2M146.7 232.7L152.9 236.4M101.8 241.8L103.5 250.2M39.9 241.6L35.6 245.9M75.9 244.2L77.3 252.0M122.8 239.9L122.4 248.7M60.7 245.6L60.9 252.3M80.5 243.8L80.4 249.9M132.9 239.0L135.2 245.8M112.4 240.9L112.8 247.5M140.9 237.1L144.3 242.5M75.8 244.2L76.9 252.8M139.7 237.6L142.7 242.8M40.2 241.9L35.9 247.1M82.6 243.6L83.1 252.5M48.5 246.2L49.8 254.7M64.8 245.2L67.4 252.2M51.1 246.4L49.7 254.2M149.9 227.6L155.4 232.1M46.5 245.7L43.5 250.5M44.5 244.9L40.8 250.7M119.2 240.2L122.7 248.2M117.4 240.4L118.5 247.4M37.1 237.1L30.4 242.1M150.3 214.7L158.3 214.0M73.3 244.4L72.9 252.4M145.4 207.1L150.9 200.5M116.1 240.5L114.5 247.5M79.0 243.9L79.2 250.1M135.5 238.7L137.6 244.0"/>
<path stroke="#1a3568" d="M59.0 213.6L59.5 207.5M40.7 243.6L37.4 245.7M109.5 205.0L107.7 200.7M49.1 215.3L48.0 211.9M39.7 242.8L36.8 246.6M124.8 202.4L124.7 195.8M64.5 212.7L62.5 208.4M150.9 213.5L155.7 213.3M103.8 206.0L100.4 200.7M80.0 210.0L79.7 206.0M39.1 242.1L36.5 246.2M130.7 201.4L129.3 196.4M110.3 204.9L110.8 199.9M97.8 207.0L97.2 203.6M39.1 242.2L36.0 247.1M146.0 206.3L149.0 201.1M147.9 208.4L151.5 206.2M125.0 202.4L123.0 198.8M77.6 210.4L79.3 204.1M147.8 208.2L151.2 203.7M40.4 243.4L34.7 247.2M109.1 205.1L106.7 201.1M136.0 201.5L138.5 196.2M99.6 206.7L97.6 203.0M91.0 208.2L91.6 201.8M151.1 213.9L155.8 212.1M148.9 209.6L154.2 207.8M35.1 228.9L31.4 228.6M150.1 211.7L152.8 208.8M85.4 209.1L84.1 205.0M142.9 204.0L145.4 199.9M42.6 217.6L40.0 215.3M146.7 207.0L150.3 204.1M145.2 205.6L146.6 201.2M121.5 203.0L118.7 198.3M132.8 201.3L133.6 195.6M46.5 215.9L46.4 210.7M77.7 210.4L74.4 205.2M34.9 232.3L31.5 231.9M150.8 213.2L155.6 209.4M59.2 213.6L58.8 207.1M107.0 205.4L106.8 200.5M147.6 208.0L152.9 204.8M102.4 206.2L99.9 201.7M115.2 204.0L113.7 199.0M89.1 208.5L90.2 202.6M105.2 205.7L105.7 201.0M54.2 214.4L52.4 210.1M145.8 206.2L149.0 204.4M96.1 207.3L95.4 203.0M41.4 244.2L40.0 248.1M135.1 201.4L136.5 197.0M112.4 204.5L112.2 200.2M138.8 202.2L141.1 199.1M127.6 201.9L126.7 197.5M36.8 238.9L31.5 239.8M145.4 205.8L147.2 200.3M35.1 234.1L29.3 235.3M137.3 201.8L138.7 198.5M77.1 210.5L74.0 204.7M151.8 216.1L156.4 215.7M45.9 216.0L45.8 212.2M105.7 205.7L103.3 200.5M39.9 219.6L37.6 214.6M125.5 202.3L122.7 196.3M138.0 202.0L138.3 196.4M150.6 212.6L155.7 210.6M152.0 217.0L158.2 213.9M151.0 213.6L157.6 213.8M90.3 208.3L88.6 203.0M58.2 213.7L58.4 209.8M114.0 204.2L113.7 198.3M136.4 201.6L136.9 196.0M101.5 206.4L101.1 201.7M127.7 201.9L127.9 197.8M123.1 202.7L122.7 195.7M152.1 218.2L159.0 218.2M144.5 205.1L149.1 200.4M146.2 206.5L148.9 204.0M124.6 202.5L121.8 196.3M73.5 211.2L71.3 204.5M151.5 215.0L156.2 212.2M68.3 212.0L68.8 206.2M36.5 224.2L33.5 222.4M42.1 217.9L37.6 214.7M35.3 227.8L30.9 227.0M56.8 214.0L56.8 207.0M35.2 228.4L30.4 227.6M99.2 206.8L100.0 200.5M150.3 212.1L153.5 209.4M47.0 215.7L45.9 210.4M150.5 212.4L155.4 211.2M101.2 206.4L99.7 203.1M152.0 217.3L156.2 215.3M37.1 239.4L33.3 240.9M88.4 208.6L87.8 203.1M149.7 210.9L155.7 208.3M148.7 209.4L152.4 204.0M65.9 212.4L63.7 206.4M75.4 210.8L74.0 204.6M130.4 201.5L130.0 197.2M42.1 217.9L41.0 214.5M37.1 239.5L31.8 242.8M151.3 214.6L156.4 213.5M40.5 243.5L35.8 247.1M77.4 210.5L77.5 205.6M152.1 217.9L158.9 217.8M80.4 210.0L78.7 206.1M38.7 241.7L34.3 243.8M44.6 216.5L44.2 212.4M49.8 215.2L48.6 210.8M138.7 202.1L138.8 195.7M108.0 205.3L107.3 200.6M89.8 208.4L89.1 202.7M104.6 205.9L102.9 199.8M85.3 209.1L84.8 205.3M43.7 217.0L39.7 212.6M44.1 216.8L43.0 211.2M91.5 208.1L89.5 201.8M66.7 212.3L64.1 205.8M96.0 207.3L94.6 203.7M93.7 207.7L91.9 203.1M150.2 211.9L155.9 208.9M37.6 222.4L32.9 217.6M34.9 232.2L31.0 231.5M36.3 224.8L33.7 222.5M135.5 201.5L137.4 197.3M40.4 219.1L36.2 213.9M146.1 206.5L149.0 203.7M129.1 201.7L127.7 197.3M50.4 215.1L49.5 208.5M76.8 210.6L74.6 205.0M41.5 244.3L37.8 247.0M41.6 218.2L39.2 212.8M35.0 233.5L30.4 235.9M78.8 210.2L79.8 204.2M150.1 211.7L155.8 208.3M37.8 240.4L33.1 242.5M90.3 208.3L91.0 203.2M54.3 214.4L53.7 207.7M147.6 208.0L152.7 206.0M93.8 207.7L91.8 202.5M112.2 204.6L112.8 197.8M35.1 228.6L31.8 226.9M132.9 201.3L133.1 194.6M120.1 203.2L117.0 197.7M79.6 210.1L78.2 205.3M126.8 202.1L123.5 195.9M109.5 205.0L108.2 198.7M40.9 243.8L38.6 247.3M147.0 207.3L149.8 204.3M150.7 212.9L156.0 211.7M77.9 210.4L75.2 204.3M63.7 212.8L63.1 209.0M37.9 221.9L34.2 219.5M57.2 213.9L56.4 210.1M54.1 214.4L54.6 211.0M35.0 229.7L28.5 229.9M103.7 206.0L101.1 199.9M93.8 207.7L93.0 203.5M53.1 214.6L50.4 209.9M50.8 215.0L51.2 208.4M38.7 241.7L33.0 245.4M66.6 212.3L67.3 206.3M148.6 209.3L151.9 208.1M151.7 216.0L157.1 214.0M149.1 210.0L153.0 206.4M145.7 206.1L147.2 202.6M116.4 203.9L115.1 200.5M67.0 212.2L66.0 208.7M38.8 241.8L34.5 246.8M129.0 201.7L130.0 196.4M107.7 205.3L104.9 200.3M105.4 205.7L103.4 202.0M85.8 209.0L85.2 204.1M38.1 239.2L32.7 244.6M105.4 241.5L104.7 247.5M116.5 240.5L116.4 248.9M151.1 223.0L158.3 225.1M87.8 243.1L87.3 248.9M133.9 238.9L135.6 244.9M140.4 237.3L141.0 244.0M132.2 239.0L134.8 247.5M128.9 239.4L131.1 244.9M119.7 240.2L120.0 247.2M71.7 244.6L72.8 250.9M37.0 236.9L30.8 238.9M63.0 245.4L62.2 253.1M148.3 230.6L154.9 232.6M149.5 212.7L157.0 209.1M140.0 237.5L143.0 242.1M88.2 243.1L88.4 251.3M136.4 238.6L136.2 244.6M119.6 240.2L118.2 246.9M68.2 244.9L68.1 250.5M124.2 239.8L125.1 247.7M75.8 244.2L77.9 249.5M141.4 236.8L144.8 244.3M151.3 221.6L158.8 222.0M54.9 246.1L57.2 251.9M79.2 243.9L81.9 252.3M47.4 246.0L47.8 253.1M82.9 243.6L82.3 250.6M113.2 240.8L113.4 249.3M47.9 246.1L46.9 252.2M129.1 239.3L129.6 246.5M52.2 246.4L50.5 254.7M109.2 241.2L108.5 247.2M103.4 241.7L101.7 249.4M80.3 243.8L80.3 249.5M138.8 237.9L141.6 244.4M100.9 241.9L101.8 249.9M151.0 224.1L158.8 225.8M98.3 242.1L99.3 249.1M147.9 231.3L153.8 234.2M57.1 245.9L57.1 254.7M124.6 239.7L124.7 246.0M142.2 236.4L147.7 242.3M144.2 206.1L149.5 202.3M64.2 245.3L66.3 251.7M149.5 228.6L155.3 232.9M42.4 243.7L37.1 249.9M145.7 233.8L150.5 240.2M139.9 237.6L141.6 244.2M86.3 243.2L87.6 248.6M60.3 245.6L60.9 251.5M150.8 216.2L158.9 212.8M91.5 242.8L90.7 248.3M98.9 242.1L99.3 250.6M44.4 244.9L41.3 251.8M128.9 239.3L130.8 245.6M80.3 243.8L79.4 252.4M146.0 233.5L150.3 237.7M150.9 216.6L156.9 216.1M74.2 244.3L72.9 252.6M108.0 241.3L108.1 248.8M151.1 223.2L159.4 225.8M74.4 244.3L73.7 251.7M150.4 226.3L155.8 230.0M116.4 240.5L115.6 249.4M68.0 244.9L69.1 253.4M100.4 242.0L98.6 250.3M90.5 242.9L89.7 249.9M37.3 237.6L29.1 241.4M148.2 230.8L153.3 237.8M142.1 236.5L145.8 242.8M131.7 239.1L133.3 247.9M71.3 244.6L72.3 251.0M132.5 239.0L131.2 245.4M120.2 240.1L120.3 247.7M147.9 231.2L153.3 233.6M79.4 243.9L81.2 250.7M55.4 246.1L56.4 252.7M135.6 238.7L135.2 244.3M145.8 207.5L151.4 202.8M111.7 240.9L112.6 248.2M149.6 228.4L157.3 231.0M114.7 240.6L113.4 249.2M50.6 246.4L51.1 252.4M150.3 214.7L158.2 213.7M91.9 242.7L93.8 248.9M148.1 231.0L153.5 234.5M88.5 243.0L91.2 250.5M85.1 243.3L84.9 249.0M144.8 206.6L151.4 202.4M43.3 244.3L40.7 250.1M148.4 230.5L153.9 232.4M150.7 216.0L157.5 215.0M112.2 240.9L110.0 249.0M151.0 217.4L159.4 217.4M145.6 207.4L149.1 200.8M125.2 239.7L126.1 246.8M76.3 244.2L76.3 251.4M99.3 242.1L100.3 250.9M69.9 244.7L69.6 252.6M117.6 240.4L116.9 246.3M78.1 244.0L77.8 250.6M87.0 243.2L87.7 251.5M134.9 238.8L136.2 244.8M80.5 243.8L83.1 249.9M40.5 242.2L33.5 247.6M123.1 239.9L125.3 248.3M106.4 241.4L108.4 247.6M48.3 246.2L46.3 252.6"/>
<path stroke="#1f4f8f" d="M35.3 227.7L28.6 227.6M36.1 237.5L30.8 240.7M36.9 223.6L33.9 220.9M145.4 205.8L148.5 202.4M86.6 208.9L85.2 205.6M35.4 235.4L30.3 237.2M51.4 214.9L52.2 210.7M133.6 201.3L131.7 196.3M51.1 214.9L52.3 209.2M35.8 236.5L30.6 238.2M135.4 201.4L137.5 194.7M126.9 202.1L125.8 196.9M36.4 238.1L31.5 242.8M132.9 201.3L133.6 197.6M88.7 208.6L86.6 203.0M34.9 230.6L29.6 229.6M41.7 218.1L39.0 215.7M55.6 214.2L56.9 207.9M60.1 213.4L59.3 207.7M99.2 206.8L99.9 202.5M147.0 207.4L150.1 205.3M40.9 218.8L36.9 215.8M112.0 204.6L111.5 201.0M57.7 213.8L55.6 208.7M100.4 206.6L101.0 201.7M134.6 201.4L135.7 197.5M118.7 203.5L117.7 199.8M132.9 201.3L131.5 197.5M145.5 205.9L151.7 203.1M122.2 202.9L122.1 197.3M142.8 204.0L145.3 200.1M69.9 211.8L70.3 206.8M119.5 203.3L118.9 199.7M134.6 201.4L133.0 196.4M37.5 222.5L31.2 220.6M135.3 201.4L134.6 195.6M60.3 213.4L59.7 209.3M117.9 203.6L115.2 198.8M51.2 214.9L49.0 208.6M68.6 212.0L67.2 206.4M43.2 217.2L40.7 213.0M139.6 202.5L139.8 197.2M78.2 210.3L76.8 206.9M111.3 204.7L108.8 199.4M123.2 202.7L123.4 198.6M106.1 205.6L103.1 199.8M109.8 205.0L106.6 199.5M34.9 231.9L28.4 233.7M146.5 206.8L149.1 202.8M58.6 213.7L58.4 208.3M39.8 219.7L34.7 214.9M104.9 205.8L103.2 199.5M147.9 208.4L151.4 205.1M132.6 201.3L129.9 195.2M122.4 202.8L121.7 196.3M55.4 214.2L52.7 208.9M124.0 202.6L122.8 195.6M49.3 215.3L46.6 208.8M121.5 203.0L120.1 199.8M114.4 204.2L115.2 199.2M132.2 201.3L130.9 195.6M74.1 211.0L73.1 204.8M77.0 210.5L78.3 205.2M52.1 214.8L51.9 210.2M148.0 208.5L150.1 205.6M61.9 213.1L60.7 209.4M79.0 210.2L77.9 206.6M132.0 201.3L130.3 197.2M64.3 212.7L62.6 208.4M40.8 218.9L37.8 215.4M57.0 214.0L53.6 208.8M38.5 221.2L32.8 218.4M61.3 213.2L58.8 207.1M142.8 204.0L146.8 200.2M37.2 222.9L33.3 221.2M62.4 213.0L61.2 208.2M133.9 201.3L135.3 194.9M81.0 209.9L79.4 204.0M120.9 203.1L120.4 197.7M93.1 207.8L92.4 201.9M40.8 218.8L38.7 214.9M36.5 238.2L31.4 242.7M135.0 201.4L134.5 196.9M83.9 209.4L83.0 202.4M108.1 205.3L107.4 198.7M43.7 217.0L42.8 210.7M91.2 208.1L91.6 204.6M144.8 205.3L148.5 201.1M86.7 208.9L87.2 203.6M59.2 213.6L59.7 207.8M132.1 201.3L132.3 197.4M142.0 203.5L143.8 197.3M51.5 214.9L50.2 208.0M124.9 202.4L121.9 197.6M63.2 212.9L61.5 208.5M62.0 213.1L62.1 206.1M110.5 204.9L109.1 201.7M122.1 202.9L121.5 199.4M39.2 220.3L37.3 217.4M62.4 213.0L60.6 208.1M62.9 212.9L62.9 205.9M54.8 214.3L53.4 210.7M34.9 230.1L31.5 229.3M60.9 213.3L59.8 208.2M38.6 221.1L35.6 218.6M82.4 209.6L79.6 205.2M50.3 215.1L49.1 208.3M55.6 214.2L54.5 208.1M141.0 203.1L142.8 198.9M113.7 204.3L112.3 201.1M90.1 208.3L91.1 202.1M35.0 229.3L31.2 228.1M138.7 202.2L140.8 196.0M139.5 202.4L142.6 196.2M91.2 208.1L88.8 202.5M34.9 232.3L28.8 231.7M37.9 222.0L32.6 219.6M80.8 209.9L80.2 203.3M35.5 235.6L29.5 238.1M43.8 216.9L40.3 213.6M86.9 208.9L87.7 204.8M72.3 211.4L72.6 205.9M129.6 201.6L128.4 197.5M145.1 205.6L148.7 202.4M67.4 212.2L65.3 207.8M129.8 201.6L129.8 195.0M63.8 212.8L63.8 207.1M56.2 214.1L54.4 210.1"/>
<path stroke="#2a6fb5" d="M83.0 209.5L82.0 205.9M35.6 235.9L31.1 237.3M96.5 207.2L97.9 200.7M35.3 227.6L30.6 227.7M142.7 203.9L144.7 198.9M82.1 209.7L81.3 205.2M85.9 209.0L84.5 204.4M97.8 207.0L97.2 202.5M56.4 214.0L53.2 209.0M136.5 201.6L138.4 196.8M119.2 203.4L117.9 197.5M35.6 226.5L31.7 226.1M39.9 219.6L35.1 214.4M59.7 213.5L60.7 207.6M95.9 207.3L96.5 203.0M36.8 223.8L33.3 221.4M41.2 218.5L37.6 214.3M112.0 204.6L112.0 201.1M149.6 210.7L153.3 206.6M135.8 201.5L137.1 194.9M50.9 215.0L51.7 209.6M86.7 208.9L86.4 205.2M41.3 218.5L37.4 214.0M119.1 203.4L117.2 199.4M77.9 210.4L76.3 207.0M38.6 221.0L34.7 216.7M131.8 201.3L129.5 195.9M40.8 218.9L37.3 213.5M86.6 208.9L86.7 205.0M141.6 203.3L143.1 199.1M93.0 207.8L91.9 202.6M136.8 201.7L138.7 198.3M122.4 202.8L121.6 198.8M123.0 202.7L122.2 199.0M137.0 201.7L137.3 195.4M80.4 210.0L77.5 204.6M48.2 215.4L46.2 208.9M50.4 215.1L49.3 210.6M51.5 214.9L50.6 210.7M109.2 205.1L109.0 199.3M56.2 214.1L55.6 210.5M43.7 217.0L41.5 211.0M146.0 206.3L149.6 202.8M35.7 226.4L29.1 226.4M35.0 233.0L29.3 235.6M127.5 202.0L128.2 196.9M35.5 226.9L29.7 225.9M75.4 210.8L74.5 207.3M85.9 209.0L83.6 205.1M68.4 212.0L68.8 206.8M83.6 209.4L81.9 204.6M147.5 207.8L152.5 206.2M36.1 225.2L32.5 222.7M147.1 207.4L149.4 204.6M116.1 203.9L115.2 199.7M130.9 201.4L131.4 195.4M35.0 229.9L30.6 230.6M72.4 211.3L72.5 206.9M51.7 214.8L51.0 209.8M146.7 207.0L152.9 204.8M59.9 213.5L58.9 208.3M147.9 208.3L151.7 206.5M142.3 203.7L144.9 199.7M75.9 210.7L75.9 205.7M118.4 203.5L118.3 197.4M127.5 202.0L127.6 195.1M127.7 201.9L124.4 196.2M60.0 213.4L60.8 207.9M41.8 218.1L37.8 213.3M78.1 210.4L78.9 204.9M36.1 225.3L32.6 222.0M110.3 204.9L111.1 199.7M66.3 212.4L66.4 208.9M42.0 218.0L37.3 214.3M53.4 214.6L52.2 210.6M88.9 208.5L87.8 201.9M84.2 209.3L82.5 204.8M81.0 209.9L81.3 205.3M73.0 211.2L73.2 205.6M58.9 213.6L56.9 209.6M73.6 211.1L72.8 205.9M115.2 204.1L115.4 199.7M35.4 235.4L32.0 236.8M101.6 206.4L99.6 202.6M80.7 209.9L81.3 203.8M35.4 235.5L31.1 235.8M80.2 210.0L79.6 205.5M125.6 202.3L124.8 197.0M46.7 215.8L43.5 209.9M35.0 233.0L30.8 233.2M96.8 207.2L94.2 202.4M129.6 201.6L130.3 196.5M110.6 204.8L110.8 198.2M34.9 230.8L31.0 230.3M74.7 210.9L75.1 205.3M35.1 233.5L30.9 233.1M40.3 219.3L37.4 215.5M36.0 237.2L30.8 241.0M121.5 203.0L119.9 199.9M116.9 203.8L115.0 197.8M65.5 212.5L65.5 209.0M125.2 202.3L125.6 198.7M35.9 225.6L32.6 223.0M140.5 202.8L144.4 198.9M141.0 203.0L141.9 197.4M39.3 220.2L35.7 217.8M84.3 209.3L85.0 204.4M48.8 215.3L49.2 208.6M35.2 228.3L29.9 227.7M93.3 207.8L92.4 202.4M64.1 212.7L65.2 207.7M80.2 210.0L78.3 206.5M59.2 213.6L59.1 209.3M142.5 203.8L146.3 199.3M55.5 214.2L55.9 210.7M35.6 226.6L31.4 226.0M91.6 208.1L90.3 202.8M74.0 211.1L73.8 207.2M40.3 219.3L36.9 216.3M87.1 208.8L87.0 204.1"/>
<path stroke="#3a8fd2" d="M147.9 208.3L153.0 205.8M149.0 209.8L152.1 206.4M35.0 233.1L30.5 233.6M147.0 207.3L151.3 204.7M35.1 233.5L31.7 234.7M35.9 236.8L30.9 238.4M149.0 209.8L154.5 208.6M144.7 205.3L148.7 199.6M149.1 210.0L154.0 205.7M149.0 209.9L153.9 208.2M36.2 237.6L31.7 242.2M148.4 209.0L152.2 203.3M35.4 235.2L31.5 237.1M36.1 237.4L31.2 241.7M147.4 207.7L151.2 204.5M144.7 205.3L147.1 202.0M149.5 210.5L154.9 208.2M146.5 206.8L150.4 202.7M35.7 236.2L29.4 237.1M36.1 237.4L31.1 240.9"/>
<path stroke="#4aa6e2" d="M59.8 213.5L60.5 209.5M59.4 213.5L59.4 209.4M61.3 213.2L60.6 209.6M125.6 202.3L124.3 195.9M66.2 212.4L64.6 207.5M142.1 203.6L144.2 199.4M89.9 208.3L87.3 202.9M71.3 211.5L70.5 207.1M95.6 207.4L96.4 202.1M42.7 217.5L39.8 213.9M82.2 209.7L81.3 205.0M99.0 206.8L97.3 200.7M57.7 213.8L55.6 209.4M124.7 202.4L123.8 198.2M128.2 201.8L128.8 198.2M140.6 202.9L144.0 199.6M138.4 202.1L139.7 196.8M50.3 215.1L51.5 208.7M137.3 201.8L137.0 196.7M132.2 201.3L131.7 195.3M62.0 213.1L60.6 207.2M92.5 207.9L90.3 201.5M140.1 202.7L141.8 198.9M83.0 209.5L83.0 203.5M35.9 225.8L29.8 224.5M39.9 219.6L38.2 215.7M106.5 205.5L105.2 201.4M87.0 208.8L85.1 204.3M120.0 203.2L118.6 198.8M68.8 211.9L68.2 206.8M35.0 229.9L29.9 231.0M76.3 210.7L75.8 206.2M37.9 221.9L32.5 219.4M69.2 211.9L69.7 205.3M76.0 210.7L75.1 205.8M131.1 201.4L130.3 198.0M130.1 201.5L128.5 194.6M81.5 209.8L79.7 203.9M35.6 226.5L31.6 223.8M111.9 204.6L112.4 200.2M45.1 216.3L43.8 210.4M106.1 205.6L106.1 200.3M104.0 206.0L104.1 199.9M37.0 223.3L30.9 220.0M76.2 210.7L76.1 205.2M107.3 205.4L107.9 198.6M128.5 201.8L127.7 196.6M102.1 206.3L103.0 200.9M37.1 223.2L30.3 221.9M137.9 201.9L139.7 195.5M80.8 209.9L80.4 205.2M81.2 209.8L81.4 203.9M103.2 206.1L101.1 201.6M72.4 211.3L71.8 207.6M87.3 208.8L86.1 204.8M35.0 229.8L31.1 229.1M96.6 207.2L95.5 200.3M45.8 216.1L45.6 211.5M72.2 211.4L72.0 205.4M121.2 203.0L119.1 199.0M134.0 201.3L134.1 197.6M57.0 213.9L58.2 208.4M104.0 205.9L104.1 200.4M127.0 202.0L126.8 196.7M134.6 201.4L135.8 195.6M38.6 221.1L35.8 217.6M142.5 203.8L146.4 199.8M105.3 205.7L103.1 200.7M48.2 215.4L47.8 208.7M80.4 210.0L79.9 206.4M35.3 227.8L29.8 228.7M141.5 203.3L145.0 198.9M119.8 203.3L119.2 197.0M35.4 227.3L31.7 225.7M75.4 210.8L74.5 204.4M121.1 203.1L119.6 199.9M118.4 203.5L118.7 199.2M139.5 202.4L139.5 196.5M47.8 215.5L45.5 209.4M50.0 215.1L49.6 211.6M79.4 210.1L78.8 205.5M80.7 209.9L79.4 203.9M106.0 205.6L106.6 200.6M35.1 228.9L29.4 228.9M75.8 210.8L75.5 206.2M115.5 204.0L115.0 199.6M41.0 218.7L39.5 214.2M92.7 207.9L93.0 201.7M140.6 202.9L145.1 198.7M81.6 209.8L82.2 205.7M56.6 214.0L56.1 209.1M81.6 209.8L79.5 205.8M34.9 231.2L29.8 230.1M40.0 219.6L34.8 216.5M105.5 205.7L103.8 201.1M130.0 201.5L127.4 196.1M138.1 202.0L138.3 196.1M34.9 232.1L30.0 232.5M140.7 202.9L141.8 196.3"/>
<path stroke="#6fbfee" d="M83.0 209.5L84.1 204.0M77.7 210.4L74.6 204.2M67.0 212.3L67.6 208.4M60.2 213.4L58.7 208.4M55.0 214.3L55.6 209.7M69.5 211.8L66.9 205.4M42.4 217.7L40.0 214.1M126.9 202.1L128.0 195.6M38.1 221.7L34.2 218.5M70.5 211.6L70.4 208.1M68.1 212.1L67.9 208.3M128.4 201.8L127.8 196.7M75.3 210.8L74.2 206.8M118.4 203.5L118.1 198.4M114.5 204.2L112.5 200.1M45.8 216.1L45.3 211.1M38.8 220.8L33.1 218.9M48.2 215.4L48.3 209.0M37.3 222.8L31.7 218.7M113.0 204.4L114.0 198.7M54.1 214.4L54.6 208.8M55.7 214.2L55.0 210.0M77.5 210.5L74.9 204.0M51.0 215.0L51.0 209.2M135.0 201.4L137.0 196.1M64.6 212.7L61.6 207.3M71.3 211.5L70.1 208.0M89.7 208.4L89.0 204.5M41.8 218.1L37.8 215.1M43.3 217.1L39.2 213.6M56.0 214.1L56.6 210.0M82.4 209.6L81.9 203.6M60.9 213.3L62.0 207.7M106.3 205.6L105.2 198.9M123.9 202.6L124.2 198.3M141.8 203.4L143.0 199.4M97.1 207.1L96.9 202.1M129.2 201.7L129.4 196.8M60.9 213.3L62.1 207.2M99.0 206.8L98.9 200.2M78.3 210.3L78.2 203.7M105.6 205.7L104.8 201.5M99.7 206.7L97.8 201.9M44.0 216.8L43.9 210.1M42.4 217.7L39.3 215.0M80.2 210.0L77.6 204.8M36.2 224.9L31.9 224.2M85.4 209.1L86.0 203.1M36.0 225.5L31.3 225.0M119.5 203.3L119.7 196.5M51.7 214.9L52.8 208.9M82.8 209.6L82.8 204.0M83.6 209.4L84.3 204.3M97.6 207.0L97.4 202.8M61.2 213.2L59.4 209.8M115.6 204.0L116.4 198.9M38.0 221.8L34.4 219.4M81.1 209.8L79.0 205.6M82.5 209.6L82.7 204.8M35.2 228.3L31.7 227.6M35.1 228.9L30.2 227.5M35.3 227.6L30.6 226.8M56.8 214.0L57.6 208.9M98.0 207.0L98.0 202.4M119.8 203.3L120.7 197.0M36.6 224.1L31.7 220.9M35.0 229.3L30.6 227.7M58.2 213.7L55.5 208.8M89.9 208.3L89.5 204.5M43.7 217.0L41.3 213.1M38.9 220.7L32.9 217.8M91.0 208.2L91.4 203.1M39.4 220.1L36.0 216.9M80.5 210.0L78.4 205.2M119.9 203.3L117.6 197.3M116.3 203.9L115.9 199.2M34.9 232.1L31.6 231.2M88.8 208.5L89.8 202.0M143.1 204.1L145.8 199.8M140.7 202.9L143.4 198.7M121.3 203.0L120.5 196.5M35.6 226.6L31.2 224.3M138.7 202.2L140.8 196.8M142.0 203.5L147.2 199.2M72.3 211.3L70.9 205.3M90.9 208.2L88.4 204.0M127.5 202.0L126.2 195.3M132.3 201.3L131.9 195.2M127.4 202.0L126.7 195.8M83.9 209.4L84.4 202.8M54.3 214.4L53.5 209.6M106.0 205.6L104.8 201.2M119.2 203.4L118.8 198.6M93.6 207.7L93.8 203.4M60.2 213.4L57.5 208.3M77.7 210.4L77.2 206.0M100.5 206.5L100.0 200.2M55.9 214.1L55.9 207.8M138.2 202.0L140.1 198.0M142.9 204.0L144.5 198.6M93.0 207.8L90.8 201.4M139.5 202.4L139.7 196.3M36.8 223.7L33.4 222.5M81.6 209.8L79.5 205.3M127.0 202.0L127.0 195.2M45.1 216.3L45.0 212.1M36.6 224.1L31.9 220.7M57.8 213.8L55.8 209.8M34.9 232.0L30.5 232.5M129.1 201.7L128.8 197.7M62.6 213.0L62.3 208.3M63.4 212.9L64.1 208.5M56.3 214.1L56.4 210.4M110.8 204.8L111.3 200.7M57.1 213.9L55.9 208.9"/>
</g>
<path d="M153.80 220.60 L153.77 221.69 L153.69 222.77 L153.54 223.85 L153.35 224.92 L153.09 225.98 L152.78 227.03 L152.42 228.05 L152.00 229.06 L151.53 230.04 L151.01 231.00 L150.44 231.93 L149.83 232.83 L149.16 233.69 L148.46 234.52 L147.71 235.31 L146.92 236.06 L146.09 236.76 L145.23 237.43 L144.33 238.04 L143.40 238.61 L142.44 239.13 L141.46 239.60 L140.45 240.02 L139.43 240.38 L138.38 240.69 L137.32 240.95 L136.25 241.14 L135.17 241.29 L51.92 248.88 L51.00 248.90 L50.08 248.88 L49.16 248.80 L48.25 248.68 L47.34 248.52 L46.44 248.30 L45.56 248.04 L44.69 247.73 L43.84 247.38 L43.01 246.98 L42.20 246.54 L41.41 246.06 L40.65 245.54 L39.92 244.98 L39.22 244.38 L38.55 243.75 L37.92 243.08 L37.32 242.38 L36.76 241.65 L36.24 240.89 L35.76 240.10 L35.32 239.29 L34.92 238.46 L34.57 237.61 L34.26 236.74 L34.00 235.86 L33.78 234.96 L33.62 234.05 L33.50 233.14 L33.42 232.22 L33.40 231.30 L33.42 230.38 L33.50 229.46 L33.62 228.55 L33.78 227.64 L34.00 226.74 L34.26 225.86 L34.57 224.99 L34.92 224.14 L35.32 223.31 L35.76 222.50 L36.24 221.71 L36.76 220.95 L37.32 220.22 L37.92 219.52 L38.55 218.85 L39.22 218.22 L39.92 217.62 L40.65 217.06 L41.41 216.54 L42.20 216.06 L43.01 215.62 L43.84 215.22 L44.69 214.87 L45.56 214.56 L46.44 214.30 L47.34 214.08 L129.75 200.06 L130.83 199.91 L131.91 199.83 L133.00 199.80 L134.09 199.83 L135.17 199.91 L136.25 200.06 L137.32 200.25 L138.38 200.51 L139.43 200.82 L140.45 201.18 L141.46 201.60 L142.44 202.07 L143.40 202.59 L144.33 203.16 L145.23 203.77 L146.09 204.44 L146.92 205.14 L147.71 205.89 L148.46 206.68 L149.16 207.51 L149.83 208.37 L150.44 209.27 L151.01 210.20 L151.53 211.16 L152.00 212.14 L152.42 213.15 L152.78 214.17 L153.09 215.22 L153.35 216.28 L153.54 217.35 L153.69 218.43 L153.77 219.51 Z" fill="#2a8fd6" stroke="#2a8fd6" stroke-width="1.5" opacity="0.5" filter="url(#softD)"/>
<g clip-path="url(#clipBody)">
<rect x="25.00" y="193.00" width="140.00" height="75.00" fill="url(#bodyD)" />
<ellipse cx="154" cy="226" rx="14" ry="26" fill="#0e2a60" opacity="0.7" filter="url(#shadD)"/>
<ellipse cx="90" cy="251" rx="54" ry="7" fill="#0c2456" opacity="0.78" filter="url(#shadD)"/>
<g opacity="0.6" fill="none" stroke-width="0.45">
<path stroke="#0a1838" d="M58.1 246.3l0.8 2.6M134.0 231.5l2.3 2.3M40.2 249.4l1.4 1.3M65.9 237.9l1.3 2.8M97.0 241.7l-1.0 3.3M100.8 236.1l1.3 1.3M89.3 235.6l1.3 3.0M130.9 241.2l-0.5 2.8M67.6 243.8l1.2 1.4M62.3 242.8l-0.3 3.3M80.5 237.9l-0.5 1.5M135.4 240.4l1.2 1.0M66.6 241.7l0.2 1.7M43.7 239.6l-0.3 2.7M122.2 241.6l2.1 1.5M39.6 241.9l-0.3 2.9M142.8 239.4l0.2 2.1M63.5 237.6l1.7 1.5M107.9 241.0l1.6 2.7M147.2 229.5l1.4 1.6M62.7 239.7l1.8 1.9M139.1 235.4l-0.6 2.8M103.7 234.2l-0.3 1.8M121.6 242.2l1.0 2.2M101.8 243.6l-0.7 3.1M104.7 242.0l1.1 1.4M154.9 232.0l0.8 1.3M105.3 234.8l-0.6 2.8M100.5 241.2l-0.2 1.9M146.9 229.9l1.0 1.4M73.5 236.3l1.3 1.7M50.0 244.6l-0.0 2.3M78.6 239.2l0.8 2.8M56.2 238.9l-1.2 3.3M84.5 234.9l-1.2 2.9M108.7 233.5l0.8 1.6M105.3 233.6l0.5 3.1M71.3 236.8l-0.3 1.5M147.6 232.7l2.1 1.6M119.4 241.5l1.4 1.0M103.5 240.9l2.6 1.7M142.3 234.5l-0.6 2.1M48.9 242.4l1.2 2.0M124.6 232.1l2.1 2.0M134.8 232.1l1.1 1.1M108.0 238.3l1.0 2.5M39.1 243.8l0.8 3.0M49.8 249.2l-0.1 2.0M101.4 241.6l0.1 2.6M121.8 236.6l-0.5 2.6M46.7 243.7l-0.3 2.0M110.8 234.2l1.3 1.0M60.8 242.2l0.7 1.4M67.9 240.6l2.3 2.2M40.8 247.7l1.1 2.0M147.8 228.8l-0.2 3.3M135.9 236.1l-0.6 2.2M127.4 240.5l1.1 1.8M107.5 235.1l1.4 1.8M111.3 234.5l-0.3 1.6M118.4 230.9l0.8 2.9M138.7 230.8l1.5 1.3M59.5 244.3l0.7 1.5M115.9 231.6l0.1 2.6M137.0 236.1l-0.6 3.1M75.3 236.7l3.0 1.7M149.9 229.5l-0.5 1.8M131.6 230.6l-0.7 1.7M143.4 235.4l-0.3 1.6M111.2 240.3l0.8 1.5M135.0 233.3l1.6 1.5M149.3 227.4l1.3 1.1M126.1 237.6l1.7 1.4M127.9 234.2l1.6 1.0M116.1 235.6l0.8 2.3M154.3 232.9l2.1 1.6M62.5 240.0l0.3 3.4M146.7 236.7l-0.6 2.6M93.1 244.9l1.4 3.2M78.7 245.6l2.7 2.1M132.7 236.5l1.4 3.2M84.1 238.0l1.4 1.9M62.5 243.6l2.9 1.7M134.2 238.4l1.8 1.6M103.2 237.0l-0.6 2.3M60.7 242.4l-0.1 2.4M86.5 234.5l1.7 2.5M38.5 246.2l1.4 2.5M114.7 242.1l0.7 1.5M104.9 243.1l-1.2 3.0M69.5 244.9l1.4 3.1M38.1 240.4l-0.9 2.9M87.0 236.7l1.6 1.0M100.3 233.2l1.2 1.2M110.4 233.4l1.6 2.2M65.3 245.0l0.7 1.5M35.0 241.5l-0.5 1.8"/>
<path stroke="#0e2350" d="M153.7 238.3l-0.9 2.0M115.0 241.5l1.1 2.5M41.8 244.8l-0.7 1.7M126.4 232.2l2.1 1.2M64.2 240.9l0.7 1.6M110.1 233.8l1.0 2.4M39.2 245.3l0.2 1.7M132.1 238.9l1.6 2.0M128.1 232.0l-0.1 3.3M44.4 244.0l2.1 1.9M120.2 234.7l2.2 1.4M147.7 238.5l0.7 3.0M130.6 237.2l2.0 2.5M46.7 243.9l1.9 2.7M138.6 236.3l-0.5 1.6M118.1 238.6l2.1 2.3M48.3 239.0l0.4 2.0M114.8 241.1l2.3 1.4M120.2 236.1l0.3 2.5M62.1 245.6l2.7 1.7M66.4 238.9l1.2 3.1M121.9 239.0l1.3 2.5M79.2 235.8l-0.5 1.9M108.5 236.2l-0.5 1.6M126.8 231.6l1.1 2.6M76.1 241.0l-0.0 1.7M124.0 239.9l-0.3 1.8M44.9 240.4l2.4 1.3M91.8 244.7l-0.5 3.3M133.1 229.4l-0.4 3.2M152.2 226.7l-0.5 2.8M145.9 238.3l2.2 1.3M153.0 226.9l1.5 1.3M135.2 234.9l1.0 2.8M106.1 237.0l1.3 1.3M109.7 231.8l1.6 1.5M85.8 235.6l0.8 1.7M127.5 240.4l-0.6 2.3M71.9 245.2l0.5 1.7M112.3 235.6l1.6 2.4M85.3 239.7l0.3 3.6M151.3 238.5l-0.9 1.9M102.1 236.5l1.0 1.3M107.9 242.3l1.9 2.6M38.9 244.0l1.9 1.5M146.4 235.2l2.2 1.4M146.2 231.5l-0.2 2.5M64.4 241.6l-0.5 1.9M116.9 242.6l2.8 2.1M38.9 240.9l2.1 1.9M121.3 239.7l0.8 2.8M136.9 240.5l0.1 1.8M152.1 226.6l2.2 2.8M97.9 233.6l0.9 1.3M46.2 245.4l-0.9 3.0M63.3 244.4l-0.3 2.2M78.9 239.5l-0.1 2.1M41.8 241.4l1.4 1.0M137.7 236.2l1.6 1.8M152.5 237.1l-0.5 3.4M135.8 232.8l0.6 1.9M118.8 230.6l1.6 1.1M40.2 243.7l1.6 2.2M67.0 240.3l1.5 1.4M124.4 239.0l1.4 1.5M131.5 239.5l1.6 1.4M60.2 243.9l-0.6 2.4M106.9 237.8l-0.7 2.3M96.4 236.6l0.9 1.5M103.1 244.2l0.7 3.3M106.3 232.8l-1.1 2.7M67.4 240.7l-1.3 2.9M145.6 237.6l-0.4 3.3M119.4 235.8l-0.7 3.2M99.3 236.9l0.9 2.3M70.8 236.6l1.5 2.8M106.2 233.2l0.4 2.9M96.5 236.3l1.0 1.4M102.2 234.6l1.3 0.8M97.0 239.1l1.4 2.0M54.9 247.8l1.0 1.4M86.9 238.2l0.6 1.9M155.2 235.9l0.1 1.9M97.9 241.2l2.3 1.5M68.9 240.6l2.4 1.3M84.6 239.1l1.9 2.8M56.4 239.8l1.9 1.4M99.5 235.4l0.8 2.8M58.0 240.0l-0.2 2.1M43.5 243.2l0.8 3.0M136.7 230.1l0.1 2.2M57.6 248.2l-0.3 2.4"/>
<path stroke="#0f2f68" d="M151.2 221.7l1.8 1.0M47.4 237.0l0.6 2.5M118.1 224.8l-0.7 3.2M86.3 221.1l1.3 -1.8M45.4 238.9l0.1 3.0M67.2 227.8l2.3 -2.3M57.2 232.7l0.4 2.6M124.3 221.6l0.1 -1.6M133.4 224.2l2.0 2.8M57.6 226.1l1.2 -1.4M115.4 230.2l1.1 3.1M77.8 225.5l0.0 -2.2M146.3 218.4l-0.2 -2.3M56.8 229.3l1.3 -1.9M92.0 227.0l1.4 0.8M64.4 224.9l-0.2 -2.0M121.5 220.1l0.4 -2.9M130.0 216.7l-0.5 -2.5M109.9 228.6l-0.6 2.6M146.8 222.0l0.0 3.0M65.4 227.0l0.9 -1.7M66.5 232.5l-0.4 2.6M62.4 224.5l2.5 -2.5M60.2 234.7l1.0 1.6M95.4 221.4l0.5 -1.8M108.2 219.4l0.6 -2.7M73.8 227.4l1.1 -2.8M121.5 228.7l-0.3 2.2M114.5 228.4l1.3 1.7M120.3 226.2l1.4 1.9M104.2 221.7l-0.2 -1.6M97.8 222.3l-0.7 -2.7M97.4 223.5l1.9 -2.1M34.9 239.5l2.2 2.0M94.6 228.9l1.4 2.4M58.5 227.7l1.4 -2.7M39.8 228.3l0.4 -2.2M109.5 222.8l1.6 -1.6M35.8 239.1l0.9 1.5M145.5 218.3l1.7 -2.5M113.1 222.9l1.1 -1.2M84.8 221.6l1.5 -1.5M110.4 221.2l1.1 -1.3M38.5 235.6l1.8 2.1M35.2 233.5l2.1 1.3M36.1 229.4l-0.1 -2.8M102.0 227.6l1.5 1.1M56.4 227.9l-0.5 -3.2M149.9 219.2l-0.8 1.9M147.9 214.3l1.2 -1.5M140.4 227.9l-1.1 2.5M129.9 227.0l2.4 1.9M150.6 216.3l0.7 -2.0M123.3 228.6l-0.4 3.4M115.5 226.2l0.4 3.1M49.0 237.5l-0.9 2.9M90.9 229.0l-0.7 2.2M47.1 235.0l1.7 2.6M70.5 234.2l0.5 3.4M49.1 231.8l-0.2 1.6M61.9 230.3l-0.2 2.2M104.4 221.2l0.1 -2.1M120.2 229.4l1.3 2.9M107.8 223.5l1.3 -2.1M141.8 213.4l0.1 -2.2M77.3 230.3l1.4 1.1M67.4 224.9l0.1 -1.5M130.3 221.0l0.4 1.9M51.4 234.6l1.1 2.3M116.4 226.9l0.6 1.6M43.2 230.1l0.1 -2.7M115.3 224.9l0.6 1.7M85.2 223.4l-0.6 -2.7M58.5 236.2l1.3 2.5M143.6 220.5l1.9 1.4M82.4 223.2l0.9 -1.9"/>
<path stroke="#123a78" d="M70.7 227.8l0.7 -3.1M137.6 217.2l-0.8 -3.2M104.3 222.9l1.2 -1.9M61.5 230.9l1.5 1.5M80.8 222.1l1.4 -1.8M102.3 220.3l0.1 -2.6M61.6 231.7l0.8 2.4M130.7 218.0l0.5 -2.0M99.5 227.4l1.0 2.6M106.0 229.5l0.1 2.0M72.1 231.2l2.4 2.0M43.4 231.9l1.1 -3.0M94.5 220.9l-0.0 -1.5M107.4 219.2l0.4 -1.8M80.8 225.3l1.3 -1.7M34.9 230.0l-0.3 -2.3M51.3 235.2l1.7 1.2M79.4 225.5l2.5 -2.3M34.2 235.1l2.6 1.8M37.7 238.4l2.3 1.6M100.2 223.9l2.1 -2.6M64.1 230.8l0.2 2.1M64.1 226.9l1.3 -2.6M87.8 222.8l-0.3 -2.6M95.4 220.4l1.4 -3.0M151.7 219.0l1.1 3.4M65.4 225.4l-0.8 -3.3M45.6 235.8l2.5 1.6M135.5 225.5l2.7 2.1M113.0 217.3l0.2 -2.0M130.2 227.1l1.3 2.0M98.2 222.0l1.3 -1.3M114.5 223.6l1.4 2.3M86.9 224.0l-1.0 -3.3M39.6 238.6l0.3 2.1M140.1 225.4l1.9 1.3M70.7 229.8l0.5 2.3M59.6 226.9l-0.5 -2.5M140.6 218.7l-0.8 -3.0M134.2 214.5l-0.1 -3.5M125.8 223.6l1.8 2.3M102.1 231.6l-0.7 2.4M89.6 229.4l-0.6 1.9M103.1 220.2l0.8 -1.9M146.8 225.4l-0.7 3.3M73.2 235.4l0.4 1.5M107.4 227.5l1.9 2.7M54.1 225.7l1.4 -2.2M57.1 229.0l-0.3 -1.8M65.2 228.6l1.5 -2.9M114.2 230.8l1.1 1.7M129.5 218.2l1.8 -2.5M94.3 232.7l0.1 1.8M96.5 230.2l-1.1 2.7M96.1 221.2l1.3 -1.3M131.5 218.8l1.1 -3.1M84.0 230.9l2.2 2.6M130.6 214.9l1.6 -2.5M135.2 217.7l2.4 -2.0M130.4 215.5l-0.3 -3.2M99.7 223.2l0.4 -1.7M68.3 228.1l-0.8 -2.8M58.4 228.3l1.8 -2.4M109.6 221.0l-0.2 -2.0M92.5 222.4l0.3 -1.5M116.1 218.3l1.6 -1.5M134.0 222.9l0.2 1.7M152.4 214.1l1.2 -2.1M62.6 225.1l1.6 -1.4M134.0 219.8l-0.3 -3.2M101.0 226.1l0.8 1.5M72.9 231.0l1.2 1.6M141.3 222.8l1.0 2.7M135.9 215.4l-0.3 -1.8M121.9 221.0l0.6 -1.8M73.8 235.6l1.2 2.8"/>
<path stroke="#15305f" d="M150.1 237.6l0.9 2.7M62.9 246.5l1.5 3.0M41.9 241.4l-1.4 3.2M41.7 244.1l1.2 3.4M137.1 238.4l-0.5 2.1M150.5 232.7l-0.8 2.7M98.4 243.9l1.0 2.2M70.1 238.6l0.3 2.5M83.8 240.6l-1.0 2.8M79.1 235.8l-0.7 1.9M132.3 230.9l0.7 2.0M96.0 241.5l2.1 2.3M82.4 242.6l1.7 2.6M110.4 242.8l1.4 1.3M71.3 243.9l1.1 2.2M95.5 242.8l-0.0 2.5M60.4 239.1l1.3 3.2M70.1 240.4l1.2 2.3M119.2 240.1l0.0 2.5M40.5 250.1l0.3 1.6M124.9 240.5l2.1 1.9M76.4 241.5l0.7 1.9M146.4 239.8l0.4 2.5M59.4 246.2l0.4 2.1M153.1 232.2l0.2 2.0M57.5 242.7l-0.8 2.9M103.8 238.7l0.1 2.9M45.4 247.4l1.5 3.1M69.4 240.1l0.0 2.3M106.9 235.3l-0.3 2.8M56.8 239.1l1.9 2.2M62.5 237.5l2.3 1.9M127.1 234.9l-0.2 2.7M144.2 230.0l0.3 2.4M47.8 245.2l0.8 1.6M150.1 238.7l-0.2 3.0M100.7 234.3l-0.3 1.7M41.6 248.9l1.0 2.2M47.6 249.0l2.0 2.3M39.8 241.6l-0.7 1.6M91.4 236.2l0.5 1.9M53.7 248.2l1.4 1.3M50.9 240.6l0.9 1.3M84.4 237.3l-0.4 2.0M73.8 245.2l0.1 3.4M83.7 238.4l1.5 1.8M91.9 238.8l0.5 3.2M87.4 244.2l1.2 1.9M95.3 234.1l2.0 2.3M49.9 246.5l0.5 1.6M64.3 244.9l-0.5 1.6M35.2 246.0l0.2 2.2M124.4 240.8l1.7 0.9M107.7 242.2l2.4 1.5M90.5 236.3l1.4 1.7M63.7 243.1l-0.1 2.6M96.6 244.1l1.4 1.4M51.2 238.9l0.3 2.6M41.9 245.2l0.5 2.1M61.3 246.8l1.1 1.8M85.3 244.7l1.7 1.2M153.1 229.9l1.2 2.7M149.4 228.5l-0.5 1.5M55.9 240.5l1.1 1.4M140.6 235.3l2.3 1.5M83.4 243.6l-0.6 2.3M54.9 245.6l0.9 3.0M70.0 240.9l-0.4 2.5M75.9 246.1l1.9 1.3M88.3 237.7l1.5 1.0M146.4 231.3l-0.3 2.9M140.5 236.6l-0.4 1.9M70.4 245.9l0.5 2.1M46.1 240.7l1.0 1.8M37.5 246.3l0.2 1.8"/>
<path stroke="#15488a" d="M50.4 230.5l-0.1 -3.4M68.4 235.7l1.8 1.0M132.5 223.9l-0.7 2.4M142.1 220.6l1.1 1.7M96.5 229.6l1.5 1.4M83.7 225.3l1.2 -2.1M116.7 224.2l0.2 1.6M77.6 232.9l1.6 2.2M42.6 236.1l1.7 2.2M142.8 224.7l0.8 2.2M133.8 222.7l1.3 1.4M49.5 235.1l-0.6 1.8M104.7 227.7l1.6 1.5M47.2 233.9l1.5 3.2M64.9 235.5l-1.3 3.0M67.2 224.8l1.3 -1.4M86.6 224.8l-0.1 -3.0M82.0 223.6l0.7 -1.4M45.8 228.8l-0.3 -1.5M102.5 224.5l1.2 -1.5M82.3 232.4l2.2 2.7M94.6 223.3l2.1 -2.3M153.9 223.9l0.5 1.8M102.1 223.2l0.7 -3.1M56.3 228.9l2.5 -2.4M67.0 229.4l-0.4 3.1M106.9 231.0l0.9 2.6M127.4 226.8l2.6 2.4M68.3 225.9l0.4 -1.7M50.4 230.2l1.8 -3.1M60.9 227.2l0.0 -1.5M84.8 222.6l1.2 -2.3M102.3 222.9l0.7 -2.0M101.2 228.0l0.8 3.2M49.3 229.6l0.5 -1.6M144.6 222.0l2.1 1.3M123.0 229.1l2.4 2.1M74.6 225.9l1.3 -2.8M70.3 235.3l-0.5 1.7M136.8 221.1l-0.6 3.0M128.0 222.3l0.9 1.5M115.4 218.1l0.3 -2.4M122.6 229.6l2.0 2.9M97.8 226.2l2.4 2.1M53.1 234.1l1.0 2.7M52.7 228.7l-0.4 -2.1M135.0 214.2l1.9 -1.9M48.2 231.6l0.5 -2.0M108.7 227.6l1.1 3.0M129.4 222.5l0.7 3.5M44.7 227.2l0.3 -2.0M50.1 235.1l0.2 1.5M93.5 228.5l0.8 2.4M107.6 221.6l2.0 -2.2M59.6 230.2l1.8 -2.7M107.0 219.9l-0.4 -1.7M130.6 221.6l1.3 3.0M51.0 236.4l-0.9 2.3M50.4 232.7l-0.0 1.8M59.5 237.0l0.4 3.5M35.9 235.8l0.2 2.1M73.3 226.9l-0.3 -1.9M97.0 229.2l0.5 3.3M114.2 229.3l-0.1 2.8M115.8 230.8l-1.0 2.5M149.6 220.6l1.6 1.5M65.8 234.6l-0.7 2.1M106.2 228.1l-0.4 1.9M81.8 228.6l1.9 1.5M60.3 235.2l0.7 1.8M105.6 228.0l0.8 2.2M151.4 225.5l-0.6 2.0M99.7 220.0l0.2 -1.6M67.2 232.2l0.0 1.5M120.4 226.5l0.1 2.9M138.3 218.1l-0.3 -1.9M88.3 224.6l0.9 -2.0M77.4 226.3l1.1 -3.1M143.4 215.7l1.3 -2.8"/>
<path stroke="#1a4f98" d="M89.5 219.2l0.1 -3.1M138.4 211.4l1.6 -3.2M37.3 219.0l0.5 -1.9M94.7 206.1l1.9 -2.0M133.8 205.0l1.1 -1.6M84.6 220.8l1.6 -2.1M55.8 222.6l1.4 -2.3M38.2 217.3l0.8 -2.5M135.2 201.9l0.0 -2.2M45.0 219.1l-0.3 -2.6M118.1 213.1l2.0 -2.0M84.4 213.1l1.3 -1.3M112.1 217.2l1.5 -1.7M39.0 226.7l-0.7 -3.3M114.0 203.2l0.7 -3.4M38.1 224.9l1.4 -1.4M76.8 214.8l-0.5 -3.1M48.7 214.0l1.1 -3.4M80.1 211.8l2.1 -1.9M85.1 209.9l1.2 -3.3M126.9 203.8l-0.5 -2.4M146.6 201.5l0.9 -1.9M47.1 218.5l-0.3 -2.0M35.9 218.3l1.4 -1.3M42.1 217.6l0.6 -3.4M102.8 218.5l-0.4 -2.2M117.0 209.7l1.7 -1.5M93.7 213.5l-0.1 -2.1M76.1 219.8l-0.3 -1.5M58.5 222.2l0.3 -1.9M107.3 209.8l0.5 -1.5M79.4 216.6l1.0 -1.2M124.6 213.0l0.5 -1.6M65.6 221.8l-0.5 -1.8M89.3 220.4l0.6 -1.8M139.0 207.4l-0.1 -2.0M130.6 212.9l-0.5 -2.4M80.5 216.8l0.2 -2.7M99.4 207.5l-0.2 -3.0M128.0 202.1l0.4 -2.8M120.5 203.5l1.3 -1.6M49.3 224.0l1.1 -2.8M59.7 224.6l0.8 -3.5M79.2 216.8l1.7 -1.6M40.3 222.6l0.2 -2.8M98.9 211.2l-0.1 -2.6M79.3 212.8l0.9 -2.6M139.0 201.1l0.1 -1.6M131.7 204.9l-0.3 -2.2M47.2 222.5l-0.2 -2.2M46.0 223.8l1.5 -2.5M69.3 221.2l0.5 -1.9M55.0 215.3l0.7 -1.4M50.7 224.6l-0.5 -1.8M116.8 214.1l1.0 -2.4M69.4 214.2l1.6 -1.5M101.5 216.3l1.5 -1.5M51.0 224.1l0.6 -1.4M41.4 220.2l0.4 -2.8M75.4 217.7l0.4 -3.1M66.5 221.9l-0.5 -2.9M67.3 223.5l0.1 -1.7M139.1 211.7l-0.4 -3.2M120.0 215.1l2.1 -2.0M152.0 211.6l-0.7 -3.0M99.2 213.1l1.0 -2.0M96.2 218.9l0.4 -2.3M96.3 217.5l-0.0 -1.6M63.9 224.0l2.0 -1.8M129.9 208.2l1.8 -2.9M89.4 209.5l1.4 -2.1M134.6 199.7l-0.4 -2.1M104.0 217.6l-0.8 -2.8M120.8 205.8l0.4 -1.8M117.0 211.3l1.5 -1.7M44.0 217.7l-0.6 -3.1M59.2 220.1l-0.5 -1.6M36.7 217.9l1.2 -3.3M39.8 221.1l0.5 -3.3M49.6 224.7l0.1 -2.3M130.9 209.5l1.7 -2.9M138.2 204.5l-0.4 -2.6M54.0 218.7l2.2 -2.2M142.7 202.7l1.2 -2.6M40.1 222.2l-0.9 -2.7M84.7 210.7l1.1 -2.0M131.0 205.9l-0.1 -3.6M32.7 217.5l1.5 -3.1M97.5 208.2l1.5 -2.1M103.2 216.8l2.2 -1.9"/>
<path stroke="#1f6fb8" d="M56.3 214.6l0.9 -2.0M81.2 212.2l-0.9 -3.1M88.1 208.2l-0.1 -2.1M32.7 225.9l0.7 -1.4M122.9 209.9l-0.4 -2.4M96.7 217.8l2.3 -2.4M93.7 218.4l-0.9 -3.1M78.7 213.3l-0.2 -2.6M124.9 207.4l1.2 -1.9M103.4 211.2l-0.1 -2.5M129.6 210.4l0.9 -3.0M78.3 219.7l1.2 -3.1M33.5 225.0l2.1 -1.9M106.9 213.4l0.1 -1.6M38.3 215.7l0.2 -1.9M56.8 221.2l0.7 -1.9M101.4 208.8l-0.5 -1.9M75.4 219.5l2.0 -2.9M103.4 208.8l-0.8 -2.5M70.6 212.1l1.5 -2.6M120.3 207.0l0.6 -1.5M132.0 207.6l1.3 -3.1M91.2 217.7l1.1 -1.8M99.9 211.1l0.2 -2.2M99.0 210.9l-0.4 -1.6M69.7 217.5l0.7 -2.6M52.2 219.6l-0.8 -2.8M34.6 221.6l-0.1 -2.0M60.0 214.6l1.3 -2.5M37.8 223.6l0.7 -1.5M148.4 208.7l0.2 -1.9M40.3 221.5l2.2 -2.3M54.3 222.9l0.5 -2.4M109.8 215.5l0.8 -2.5M141.9 198.5l0.6 -2.6M112.0 204.4l0.6 -3.4M95.4 211.0l-0.5 -1.6M124.3 205.0l0.4 -1.7M65.0 214.8l-0.3 -1.5M118.2 204.8l1.2 -2.4M134.1 204.2l0.4 -1.7M110.1 207.3l1.8 -1.5M131.9 207.1l0.4 -2.7M142.5 209.4l-0.2 -2.4M48.1 218.5l0.2 -1.7M120.2 206.8l0.8 -2.0M121.2 210.1l-1.1 -3.4M136.5 209.8l0.8 -2.0M144.8 202.9l1.0 -2.2M55.2 222.0l-0.5 -1.8M57.9 218.6l-0.1 -2.6M59.2 223.8l1.9 -2.9M108.5 205.4l0.7 -3.3M67.1 220.5l2.2 -2.2M100.5 212.3l0.8 -1.5M95.5 216.4l1.0 -3.4M145.8 201.1l1.4 -1.9M98.5 211.5l1.0 -2.0M66.3 218.2l1.1 -1.2M84.0 218.2l1.1 -3.0M52.9 216.5l0.6 -2.2M51.5 216.9l-0.6 -2.5M54.6 224.7l2.7 -2.3M81.2 220.4l0.1 -1.6M45.4 219.7l2.2 -2.0M35.2 217.9l1.6 -1.5M88.4 208.4l0.5 -3.3M129.7 207.4l0.6 -1.4M141.0 209.0l0.9 -2.7M112.7 210.5l0.9 -2.1M49.4 224.0l1.0 -1.8M35.4 226.8l1.9 -2.1M121.5 202.9l2.5 -2.5M149.7 198.3l0.1 -2.7M47.3 225.3l1.9 -2.3M37.5 222.8l1.5 -1.8M126.5 204.0l0.6 -1.9M70.0 217.5l1.9 -2.9M52.8 218.8l-0.8 -2.9M86.5 210.2l0.6 -3.5M133.9 199.8l0.3 -2.5M73.7 211.2l1.2 -2.0M105.3 215.0l1.5 -2.9M74.4 213.3l0.2 -2.1M128.3 208.2l-0.2 -2.1M68.1 212.1l0.1 -2.0"/>
<path stroke="#bfe4fb" d="M51.4 237.8l0.3 3.0M140.2 223.9l0.7 2.8M133.8 217.0l2.2 -2.1M50.6 233.5l-0.7 1.8M104.3 232.0l0.7 1.8M131.8 223.7l0.1 2.9M81.4 228.0l2.4 1.5M124.7 216.4l-0.5 -2.7M138.8 227.3l0.3 1.7M60.9 230.1l1.9 2.0M126.7 229.3l-0.6 1.8M136.5 223.6l-0.5 3.3M149.0 223.3l1.4 2.8M112.2 223.4l0.4 3.2M71.3 230.9l0.2 1.9M53.2 226.9l1.1 -1.2M83.6 231.8l-0.5 1.4M67.5 224.3l2.1 -1.7M113.9 223.8l0.8 2.0M76.3 227.2l-0.4 -1.7M94.3 233.2l2.8 2.0M144.5 221.7l-0.9 3.3M95.9 228.9l1.7 2.9M94.5 222.4l0.3 -2.9M84.6 223.6l1.8 -3.0M82.0 223.6l0.9 -1.8M102.2 231.0l0.7 2.8M112.5 218.7l1.9 -2.4M106.9 223.7l1.8 -2.3M122.7 222.3l1.7 1.8M88.8 226.9l-0.0 3.4M70.9 225.3l0.5 -2.2M56.0 227.4l1.0 -2.5M145.8 217.2l1.0 -2.0M85.2 226.8l1.4 -1.6M84.0 225.6l-0.1 -1.9M53.7 227.7l1.5 -3.2M125.6 228.2l2.1 2.0M145.0 225.5l1.0 1.2M140.3 224.0l-0.1 3.0M142.8 217.6l-0.1 -2.0M116.2 228.8l1.9 1.3M57.6 225.7l1.2 -2.8M120.5 223.0l0.3 2.3M53.6 227.1l1.0 -2.5M106.9 231.4l0.1 1.6M60.2 227.9l0.9 -1.3M56.2 234.9l-0.8 3.2M64.4 224.7l1.0 -2.0M103.6 225.4l0.9 3.5M46.9 235.4l-0.7 1.6M115.9 217.7l1.6 -2.2M121.2 227.3l2.7 2.0M131.8 222.4l0.9 3.1M152.1 215.8l-0.4 -3.3M34.2 234.8l-0.8 2.6M55.2 227.1l0.2 -2.4M54.4 229.7l-0.7 -2.8M35.5 231.2l-0.2 -2.7M83.6 233.8l1.9 1.9"/>
<path stroke="#c8e8ff" d="M152.0 210.3l-0.5 -1.6M132.8 205.8l0.0 -3.2M74.3 222.1l1.4 -2.6M101.2 208.2l1.6 -2.4M113.6 214.1l1.0 -2.5M75.8 212.8l-0.0 -3.2M144.3 201.7l1.0 -1.2M47.2 221.4l-0.5 -3.1M48.8 225.2l-0.2 -1.8M131.8 213.4l1.2 -1.2M139.0 203.8l-0.4 -2.4M115.5 205.1l0.8 -1.3M95.2 207.1l0.6 -2.9M134.7 207.1l0.5 -1.7M116.7 216.2l-0.2 -1.5M145.4 202.5l0.2 -1.9M50.0 214.9l0.6 -1.9M61.9 218.6l0.7 -2.5M75.7 210.6l0.4 -3.4M59.1 219.6l-0.8 -3.0M53.4 216.2l0.2 -1.7M68.1 215.0l-0.8 -2.5M143.7 199.7l0.3 -1.5M99.0 217.1l-0.1 -2.2M78.5 221.4l1.7 -2.4M114.3 216.8l-0.4 -3.0M105.4 214.3l0.3 -1.9M107.8 208.5l-0.9 -3.0M39.2 216.3l-0.2 -1.9M105.0 215.8l0.8 -1.8M104.4 207.4l1.8 -1.8M87.7 215.6l0.1 -2.2M127.6 200.5l-0.1 -1.5M48.7 215.7l0.7 -1.9M115.4 207.6l-0.5 -2.7M109.4 211.8l1.4 -3.1M90.8 207.8l1.0 -1.9M38.2 219.5l2.7 -2.3M132.6 211.2l2.0 -2.0M129.8 204.7l1.3 -1.5M37.1 218.0l1.0 -2.4M89.8 207.6l-0.4 -2.7M138.3 212.7l-0.1 -3.0M138.7 201.8l1.7 -1.8M83.5 215.6l0.2 -2.2M127.4 206.0l0.1 -2.7M147.9 198.9l1.1 -3.1M61.6 221.3l2.3 -2.4M79.4 215.6l0.1 -1.6M140.6 212.6l1.0 -2.3M144.2 199.7l0.5 -3.1M132.2 206.9l2.0 -2.9M99.0 206.4l1.0 -3.0M73.9 216.3l1.5 -1.6M115.0 206.2l0.2 -2.6M78.5 217.2l-0.1 -2.1M48.1 217.6l-0.2 -3.3M113.9 212.8l-0.3 -1.6M146.8 201.5l-0.1 -1.7M60.7 213.6l0.0 -3.3M83.0 219.2l2.6 -2.4M129.8 214.7l0.2 -1.9M45.1 225.8l-0.1 -3.6M91.6 214.8l-0.0 -3.4M123.1 210.5l-0.0 -1.7M120.6 206.9l0.9 -3.5M95.6 211.2l1.0 -1.9M84.0 216.5l2.1 -2.3M124.1 203.7l1.9 -2.5M123.9 201.7l0.5 -2.5M146.0 198.1l0.2 -3.0M46.1 223.2l-0.6 -2.9M49.1 225.3l2.1 -2.9M47.3 224.1l-0.0 -3.3M81.0 209.0l0.4 -2.0M132.2 203.7l-0.6 -2.7"/>
<path stroke="#e0f4ff" d="M132.9 206.1l1.2 -2.5M91.5 210.4l0.9 -1.9M119.8 214.5l2.2 -2.0M150.2 206.7l0.8 -1.5M73.2 219.8l1.1 -1.7M86.9 215.1l1.2 -2.1M127.5 207.3l-0.5 -3.2M141.2 200.1l1.2 -1.1M127.4 214.9l1.1 -1.1M100.7 217.6l0.2 -3.2M121.1 213.3l0.2 -3.3M60.2 214.0l0.5 -2.9M85.8 212.8l0.2 -2.4M55.9 220.4l2.2 -2.4M69.2 212.3l-0.4 -2.6M88.5 210.7l0.4 -2.3M40.9 222.1l-0.3 -3.6M48.6 222.0l-0.1 -1.7M51.1 221.1l-0.0 -2.0M123.5 211.1l-0.1 -2.5M78.0 218.4l-0.3 -2.6M114.5 213.4l1.7 -2.9M142.6 203.3l1.5 -1.7M35.3 223.4l0.2 -2.9M138.6 205.6l0.8 -3.5M109.1 203.8l1.0 -1.7M100.4 214.5l1.0 -2.8M37.4 225.8l-0.3 -2.2M84.7 216.6l0.6 -2.8M119.2 205.5l0.2 -2.1M40.0 215.3l0.4 -2.7M85.4 211.6l0.2 -3.3M113.0 204.7l-0.3 -1.5M72.4 215.7l-0.0 -1.7M108.8 212.8l-0.7 -2.9M59.8 220.6l1.2 -1.5M46.2 222.0l1.2 -2.1M69.0 211.0l0.7 -2.2M53.8 216.8l0.4 -3.0M125.2 210.4l-0.8 -2.5M148.3 208.0l-0.8 -2.9M93.2 210.4l-0.8 -2.3M57.5 216.0l0.7 -2.0M122.9 204.8l2.3 -2.2M35.6 224.4l1.5 -1.9M47.5 216.6l1.3 -2.8M50.0 221.1l0.5 -2.0M60.3 222.4l1.1 -3.4M64.0 213.7l0.5 -1.8M112.2 205.5l-0.5 -2.8M145.8 210.0l-0.5 -1.7M141.4 209.5l0.1 -2.3M37.1 218.3l0.9 -2.6M118.9 203.8l1.9 -2.5M92.3 217.1l0.6 -3.2M98.2 217.6l1.7 -1.5M67.3 213.9l1.9 -1.7M35.4 217.7l1.6 -2.7M127.9 209.4l0.0 -1.9M130.0 210.8l-0.6 -2.6M48.1 219.0l-0.4 -2.2M143.1 211.5l0.7 -2.8M71.5 217.7l0.3 -2.8M65.0 220.4l1.3 -2.7M136.5 204.5l2.3 -2.3M52.1 215.9l1.7 -2.8M125.2 210.5l-1.0 -3.3M52.2 219.2l0.0 -2.8M135.0 202.2l1.6 -1.6M54.2 224.8l0.8 -2.4M137.7 199.1l1.2 -1.9M89.7 213.6l1.3 -1.5M108.3 211.5l1.8 -2.0M64.9 221.1l0.6 -3.5M70.5 216.0l2.4 -2.7M73.5 219.5l0.9 -3.2M105.9 213.9l-0.4 -1.7M48.5 225.9l1.4 -1.8M71.0 220.3l1.0 -1.2M52.2 220.8l-0.8 -2.7M99.4 210.2l1.9 -2.6M108.1 215.4l-0.5 -2.2M145.6 199.1l0.4 -1.5M112.6 210.9l1.6 -3.0M43.1 218.7l-0.6 -2.5M146.2 199.3l1.9 -3.0M109.3 210.2l0.3 -1.8M86.9 219.5l2.4 -2.6M34.1 216.4l-0.6 -3.0M105.8 207.7l-0.7 -3.0M85.3 215.6l1.4 -1.9M64.4 216.1l2.1 -1.9M104.9 217.9l1.2 -2.6"/>
</g>
</g>
<ellipse cx="46.8" cy="210.6" rx="3.0" ry="3.0" fill="#0a1430" opacity="0.75" filter="url(#softD)"/>
<ellipse cx="70.6" cy="205.1" rx="3.0" ry="3.0" fill="#0a1430" opacity="0.75" filter="url(#softD)"/>
<ellipse cx="118.1" cy="205.1" rx="3.0" ry="3.0" fill="#0a1430" opacity="0.75" filter="url(#softD)"/>
<ellipse cx="145.6" cy="201.4" rx="3.0" ry="3.0" fill="#0a1430" opacity="0.75" filter="url(#softD)"/>
<ellipse cx="93.1" cy="216.4" rx="3.0" ry="3.0" fill="#0a1430" opacity="0.75" filter="url(#softD)"/>
<ellipse cx="65.6" cy="223.1" rx="3.0" ry="3.0" fill="#0a1430" opacity="0.75" filter="url(#softD)"/>
<ellipse cx="115.6" cy="227.6" rx="3.0" ry="3.0" fill="#0a1430" opacity="0.75" filter="url(#softD)"/>
<ellipse cx="146.1" cy="224.6" rx="3.0" ry="3.0" fill="#0a1430" opacity="0.75" filter="url(#softD)"/>
<ellipse cx="42.3" cy="240.1" rx="3.0" ry="3.0" fill="#0a1430" opacity="0.75" filter="url(#softD)"/>
<ellipse cx="77.3" cy="238.1" rx="3.0" ry="3.0" fill="#0a1430" opacity="0.75" filter="url(#softD)"/>
<ellipse cx="130.6" cy="247.1" rx="3.0" ry="3.0" fill="#0a1430" opacity="0.75" filter="url(#softD)"/>
<ellipse cx="58.1" cy="258.1" rx="3.0" ry="3.0" fill="#0a1430" opacity="0.75" filter="url(#softD)"/>
<ellipse cx="101.8" cy="255.1" rx="3.0" ry="3.0" fill="#0a1430" opacity="0.75" filter="url(#softD)"/>
<ellipse cx="38.1" cy="252.1" rx="3.0" ry="3.0" fill="#0a1430" opacity="0.75" filter="url(#softD)"/>
<circle cx="45.00" cy="208.00" r="3.70" fill="url(#ballD)" />
<circle cx="68.80" cy="202.50" r="3.70" fill="url(#ballD)" />
<circle cx="116.30" cy="202.50" r="3.70" fill="url(#ballD)" />
<circle cx="143.80" cy="198.80" r="3.70" fill="url(#ballD)" />
<circle cx="91.30" cy="213.80" r="3.70" fill="url(#ballD)" />
<circle cx="63.80" cy="220.50" r="3.70" fill="url(#ballD)" />
<circle cx="113.80" cy="225.00" r="3.70" fill="url(#ballD)" />
<circle cx="144.30" cy="222.00" r="3.70" fill="url(#ballD)" />
<circle cx="40.50" cy="237.50" r="3.70" fill="url(#ballD)" />
<circle cx="75.50" cy="235.50" r="3.70" fill="url(#ballD)" />
<circle cx="128.80" cy="244.50" r="3.70" fill="url(#ballD)" />
<circle cx="56.30" cy="255.50" r="3.20" fill="url(#ballD)" />
<circle cx="100.00" cy="252.50" r="3.20" fill="url(#ballD)" />
<circle cx="36.30" cy="249.50" r="3.20" fill="url(#ballD)" />
<text x="57.60" y="195.40" font-size="12.5" textLength="63.90" lengthAdjust="spacingAndGlyphs">Bac@Ceria</text>
<text x="2.70" y="194.60" font-size="20.5">d</text>
<path d="M232.40 318.20 L232.40 297.60 L232.71 294.46 L233.02 294.20 L233.33 294.57 L233.64 294.62 L233.95 296.85 L234.26 298.98 L234.57 301.55 L234.88 301.40 L235.19 300.47 L235.50 293.05 L235.80 273.00 L236.11 231.49 L236.42 188.14 L236.73 187.05 L237.04 194.36 L237.35 236.68 L237.66 269.04 L237.97 281.02 L238.28 283.27 L238.59 284.81 L238.90 287.22 L239.21 286.89 L239.52 283.11 L239.83 268.15 L240.14 245.01 L240.45 233.42 L240.76 238.49 L241.07 260.09 L241.38 282.26 L241.69 293.91 L241.99 299.82 L242.30 298.85 L242.61 296.00 L242.92 296.88 L243.23 298.99 L243.54 296.27 L243.85 297.75 L244.16 299.31 L244.47 299.70 L244.78 301.01 L245.09 300.80 L245.40 301.44 L245.71 296.47 L246.02 293.25 L246.33 293.11 L246.64 288.80 L246.95 289.23 L247.26 292.68 L247.57 296.13 L247.88 299.85 L248.18 300.88 L248.49 303.65 L248.80 303.02 L249.11 304.70 L249.42 303.26 L249.73 303.76 L250.04 305.86 L250.35 306.37 L250.66 306.03 L250.97 306.99 L251.28 307.84 L251.59 308.74 L251.90 308.88 L252.21 308.60 L252.52 310.72 L252.83 309.74 L253.14 311.89 L253.45 310.89 L253.76 312.54 L254.06 311.27 L254.37 311.79 L254.68 311.99 L254.99 311.67 L255.30 311.28 L255.61 311.63 L255.92 312.69 L256.23 313.47 L256.54 313.37 L256.85 312.88 L257.16 313.63 L257.47 314.70 L257.78 313.30 L258.09 313.03 L258.40 311.59 L258.71 310.95 L259.02 308.06 L259.33 308.40 L259.64 308.34 L259.95 311.03 L260.25 313.10 L260.56 313.30 L260.87 315.12 L261.18 314.64 L261.49 314.17 L261.80 315.13 L262.11 315.08 L262.42 313.79 L262.73 314.16 L263.04 313.32 L263.35 314.14 L263.66 313.64 L263.97 314.23 L264.28 313.88 L264.59 315.19 L264.90 314.12 L265.21 315.70 L265.52 314.69 L265.83 315.80 L266.14 315.44 L266.44 314.57 L266.75 315.48 L267.06 315.27 L267.37 314.25 L267.68 314.46 L267.99 314.83 L268.30 313.44 L268.61 314.92 L268.92 315.38 L269.23 315.17 L269.54 314.93 L269.85 314.83 L270.16 315.81 L270.47 315.49 L270.78 315.94 L271.09 315.28 L271.40 314.63 L271.71 314.21 L272.02 313.07 L272.33 312.02 L272.63 310.64 L272.94 310.33 L273.25 311.14 L273.56 312.70 L273.87 313.37 L274.18 314.84 L274.49 315.67 L274.80 315.38 L275.11 314.83 L275.42 315.95 L275.73 315.29 L276.04 315.58 L276.35 315.41 L276.66 315.96 L276.97 314.79 L277.28 315.81 L277.59 315.32 L277.90 315.60 L278.21 316.18 L278.52 315.42 L278.82 316.02 L279.13 316.15 L279.44 316.19 L279.75 316.02 L280.06 316.12 L280.37 315.36 L280.68 315.55 L280.99 314.89 L281.30 314.97 L281.61 314.89 L281.92 315.97 L282.23 315.68 L282.54 315.96 L282.85 315.50 L283.16 315.46 L283.47 315.22 L283.78 315.36 L284.09 316.00 L284.40 315.77 L284.71 315.64 L285.01 316.37 L285.32 316.33 L285.63 315.83 L285.94 316.24 L286.25 315.41 L286.56 316.08 L286.87 316.27 L287.18 316.13 L287.49 315.94 L287.80 315.65 L288.11 314.57 L288.42 313.48 L288.73 312.10 L289.04 310.01 L289.35 309.55 L289.66 308.61 L289.97 309.60 L290.28 311.57 L290.59 313.58 L290.90 314.65 L291.20 315.24 L291.51 316.28 L291.82 315.92 L292.13 315.81 L292.44 316.27 L292.75 316.34 L293.06 315.24 L293.37 315.53 L293.68 314.90 L293.99 313.89 L294.30 313.99 L294.61 314.43 L294.92 313.83 L295.23 315.13 L295.54 316.04 L295.85 315.47 L296.16 316.40 L296.47 316.20 L296.78 315.53 L297.09 315.76 L297.39 316.63 L297.70 316.07 L298.01 316.13 L298.32 316.04 L298.63 316.41 L298.94 315.92 L299.25 316.59 L299.56 316.33 L299.87 316.22 L300.18 315.50 L300.49 316.62 L300.80 315.75 L301.11 316.48 L301.42 316.00 L301.73 316.24 L302.04 316.15 L302.35 315.79 L302.66 316.25 L302.97 316.61 L303.28 316.62 L303.59 316.67 L303.89 315.69 L304.20 315.92 L304.51 315.39 L304.82 315.37 L305.13 315.28 L305.44 312.45 L305.75 308.54 L306.06 302.68 L306.37 295.19 L306.68 287.14 L306.99 280.60 L307.30 277.74 L307.61 280.85 L307.92 286.95 L308.23 295.25 L308.54 302.45 L308.85 308.57 L309.16 312.19 L309.47 314.35 L309.77 315.97 L310.08 316.43 L310.39 316.24 L310.70 316.55 L311.01 316.30 L311.32 315.81 L311.63 315.06 L311.94 314.45 L312.25 312.24 L312.56 310.04 L312.87 305.59 L313.18 300.33 L313.49 297.75 L313.80 295.85 L314.11 297.35 L314.42 300.63 L314.73 304.06 L315.04 308.24 L315.35 311.99 L315.66 314.78 L315.97 315.75 L316.27 316.38 L316.58 316.03 L316.89 315.97 L317.20 316.00 L317.51 315.29 L317.82 314.71 L318.13 312.60 L318.44 310.16 L318.75 308.51 L319.06 308.06 L319.37 307.38 L319.68 308.11 L319.99 310.42 L320.30 311.66 L320.61 313.92 L320.92 314.87 L321.23 315.97 L321.54 315.65 L321.85 316.08 L322.15 316.40 L322.46 316.93 L322.77 316.58 L323.08 317.07 L323.39 316.37 L323.70 315.95 L324.01 316.62 L324.32 315.95 L324.63 315.53 L324.94 315.02 L325.25 313.99 L325.56 313.12 L325.87 313.01 L326.18 313.25 L326.49 313.01 L326.80 314.33 L327.11 314.53 L327.42 315.26 L327.73 315.63 L328.04 315.86 L328.35 316.78 L328.65 316.42 L328.96 316.71 L329.27 316.41 L329.58 316.01 L329.89 316.31 L330.20 316.85 L330.51 316.06 L330.82 315.47 L331.13 315.02 L331.44 315.20 L331.75 315.11 L332.06 316.29 L332.37 315.55 L332.68 316.07 L332.99 316.40 L333.30 316.17 L333.61 316.24 L333.92 317.16 L334.23 316.36 L334.53 316.42 L334.84 317.07 L335.15 316.46 L335.46 316.64 L335.77 317.09 L336.08 316.40 L336.39 317.16 L336.70 316.63 L337.01 316.84 L337.32 317.04 L337.63 316.70 L337.94 316.81 L338.25 317.11 L338.56 316.26 L338.87 317.27 L339.18 317.35 L339.49 316.82 L339.80 316.43 L340.11 316.63 L340.42 316.53 L340.73 316.84 L341.03 316.63 L341.34 317.01 L341.65 317.09 L341.96 316.83 L342.27 317.37 L342.58 317.31 L342.89 316.57 L343.20 317.22 L343.51 316.58 L343.82 316.55 L344.13 316.97 L344.44 316.68 L344.75 316.56 L345.06 316.48 L345.37 317.28 L345.68 317.25 L345.99 316.99 L346.30 316.84 L346.61 316.92 L346.92 317.05 L347.22 316.22 L347.53 315.53 L347.84 316.04 L348.15 315.86 L348.46 316.18 L348.77 316.36 L349.08 316.14 L349.39 316.94 L349.70 316.69 L350.01 316.93 L350.32 316.90 L350.63 316.51 L350.94 317.42 L351.25 316.62 L351.56 317.18 L351.87 316.82 L352.18 316.66 L352.49 316.81 L352.80 317.09 L353.11 316.57 L353.41 317.25 L353.72 316.31 L354.03 315.65 L354.34 313.42 L354.65 308.89 L354.96 301.46 L355.27 289.87 L355.58 274.09 L355.89 255.22 L356.20 236.53 L356.51 223.17 L356.82 218.09 L357.13 222.40 L357.44 236.91 L357.75 254.62 L358.06 274.04 L358.37 290.19 L358.68 302.01 L358.99 309.76 L359.30 313.56 L359.60 315.96 L359.91 316.59 L360.22 317.12 L360.53 316.61 L360.84 316.63 L361.15 317.15 L361.46 316.95 L361.77 316.65 L362.08 317.28 L362.39 317.52 L362.70 317.38 L363.01 317.44 L363.32 316.93 L363.63 317.25 L363.94 317.27 L364.25 316.82 L364.56 317.41 L364.87 316.81 L365.18 317.00 L365.49 317.24 L365.79 316.81 L366.10 317.30 L366.41 316.73 L366.72 316.63 L367.03 316.95 L367.34 316.50 L367.65 315.75 L367.96 315.12 L368.27 313.79 L368.58 311.80 L368.89 309.36 L369.20 306.92 L369.51 304.17 L369.82 302.96 L370.13 301.71 L370.44 301.97 L370.75 303.75 L371.06 306.00 L371.37 308.86 L371.68 310.61 L371.98 313.37 L372.29 314.84 L372.60 315.49 L372.91 316.87 L373.22 316.44 L373.53 317.47 L373.84 317.66 L374.15 317.37 L374.46 317.38 L374.77 316.82 L375.08 316.86 L375.39 316.98 L375.70 317.32 L376.01 317.21 L376.32 317.52 L376.63 316.93 L376.94 317.38 L377.25 317.48 L377.56 317.13 L377.87 317.63 L378.17 317.46 L378.48 316.85 L378.79 317.69 L379.10 317.64 L379.41 317.59 L379.72 317.54 L380.03 317.37 L380.34 317.55 L380.65 317.46 L380.96 317.56 L381.27 317.57 L381.58 317.20 L381.89 317.48 L382.20 317.44 L382.51 317.05 L382.82 317.76 L383.13 317.68 L383.44 316.98 L383.75 317.40 L384.06 317.06 L384.36 317.75 L384.67 317.49 L384.98 317.36 L385.29 317.78 L385.60 317.64 L385.91 317.82 L386.22 317.98 L386.53 317.93 L386.84 318.13 L387.15 318.20 L387.15 318.20 Z" fill="#2b3a96" stroke="#2b3a96" stroke-width="0.4" stroke-linejoin="round"/>
<line x1="232.40" y1="187.00" x2="232.40" y2="318.85" stroke="#000" stroke-width="1.3" />
<line x1="231.75" y1="318.20" x2="387.60" y2="318.20" stroke="#000" stroke-width="1.3" />
<line x1="228.60" y1="318.20" x2="232.40" y2="318.20" stroke="#000" stroke-width="1.4" />
<text x="226.80" y="322.50" font-size="12" text-anchor="end">0</text>
<line x1="228.60" y1="292.10" x2="232.40" y2="292.10" stroke="#000" stroke-width="1.4" />
<text x="226.80" y="296.40" font-size="12" text-anchor="end">200</text>
<line x1="228.60" y1="266.00" x2="232.40" y2="266.00" stroke="#000" stroke-width="1.4" />
<text x="226.80" y="270.30" font-size="12" text-anchor="end">400</text>
<line x1="228.60" y1="239.90" x2="232.40" y2="239.90" stroke="#000" stroke-width="1.4" />
<text x="226.80" y="244.20" font-size="12" text-anchor="end">600</text>
<line x1="228.60" y1="213.80" x2="232.40" y2="213.80" stroke="#000" stroke-width="1.4" />
<text x="226.80" y="218.10" font-size="12" text-anchor="end">800</text>
<line x1="228.60" y1="187.70" x2="232.40" y2="187.70" stroke="#000" stroke-width="1.4" />
<text x="226.80" y="192.00" font-size="12" text-anchor="end">1000</text>
<line x1="232.40" y1="318.20" x2="232.40" y2="322.60" stroke="#000" stroke-width="1.4" />
<text x="232.40" y="334.40" font-size="11" text-anchor="middle">0</text>
<line x1="263.35" y1="318.20" x2="263.35" y2="322.60" stroke="#000" stroke-width="1.4" />
<text x="263.35" y="334.40" font-size="11" text-anchor="middle">2000</text>
<line x1="294.30" y1="318.20" x2="294.30" y2="322.60" stroke="#000" stroke-width="1.4" />
<text x="294.30" y="334.40" font-size="11" text-anchor="middle">4000</text>
<line x1="325.25" y1="318.20" x2="325.25" y2="322.60" stroke="#000" stroke-width="1.4" />
<text x="325.25" y="334.40" font-size="11" text-anchor="middle">6000</text>
<line x1="356.20" y1="318.20" x2="356.20" y2="322.60" stroke="#000" stroke-width="1.4" />
<text x="356.20" y="334.40" font-size="11" text-anchor="middle">8000</text>
<line x1="387.15" y1="318.20" x2="387.15" y2="322.60" stroke="#000" stroke-width="1.4" />
<text x="387.15" y="334.40" font-size="11" text-anchor="middle">10000</text>
<text x="309.60" y="347.30" font-size="13" text-anchor="middle" textLength="68.00" lengthAdjust="spacingAndGlyphs">Energy (eV)</text>
<text x="197.60" y="252.20" font-size="12" text-anchor="middle" textLength="25.50" lengthAdjust="spacingAndGlyphs" transform="rotate(-90 197.60 252.20)">kCnt</text>
<text x="238.60" y="197.00" font-size="11">C</text>
<text x="237.90" y="228.70" font-size="11">O</text>
<text x="242.50" y="287.10" font-size="11" textLength="12.60" lengthAdjust="spacingAndGlyphs">Cu</text>
<text x="256.60" y="284.60" font-size="11" textLength="8.80" lengthAdjust="spacingAndGlyphs">Si</text>
<text x="271.60" y="287.10" font-size="11">Cl</text>
<text x="284.90" y="287.10" font-size="11" textLength="13.00" lengthAdjust="spacingAndGlyphs">Ca</text>
<text x="322.10" y="269.80" font-size="11" text-anchor="middle">Ce</text>
<text x="358.70" y="215.00" font-size="11" text-anchor="middle">Cu</text>
<text x="371.20" y="299.30" font-size="11" text-anchor="middle">Cu</text>
<line x1="261.20" y1="289.40" x2="259.50" y2="305.50" stroke="#000" stroke-width="1.15" />
<line x1="274.40" y1="291.40" x2="273.00" y2="309.60" stroke="#000" stroke-width="1.15" />
<line x1="290.50" y1="291.40" x2="289.40" y2="307.60" stroke="#000" stroke-width="1.15" />
<line x1="318.00" y1="273.20" x2="307.70" y2="279.30" stroke="#000" stroke-width="1.15" />
<line x1="319.40" y1="273.90" x2="313.60" y2="295.30" stroke="#000" stroke-width="1.15" />
<line x1="321.40" y1="273.90" x2="319.70" y2="307.10" stroke="#000" stroke-width="1.15" />
<text x="185.60" y="191.80" font-size="20.5">e</text>
<rect x="418.60" y="255.10" width="177.60" height="82.80" fill="#bdbdbd" />
<g clip-path="url(#clipF0)">
<rect x="419.20" y="255.50" width="43.50" height="82.00" fill="#050505" />
<polygon points="419.20,255.50 430.20,255.50 434.20,261.00 461.20,298.50 465.20,304.10 465.20,337.50 430.20,337.50 443.20,324.00 419.70,289.50 419.20,288.80" fill="url(#bandBF)" filter="url(#blurF)"/>
<rect x="419.20" y="255.50" width="43.50" height="9.00" fill="url(#vigF)" />
<ellipse cx="446.2" cy="333.5" rx="9.5" ry="7.5" fill="#ececec" filter="url(#blurF)"/>
<ellipse cx="459.2" cy="331.5" rx="7" ry="6.5" fill="#dcdcdc" filter="url(#blurF)"/>
<path d="M450.2 325.5 Q453.2 329.5 452.2 337.5" stroke="#777" stroke-width="1" fill="none" filter="url(#blurF)"/>
</g>
<g clip-path="url(#clipF1)">
<rect x="464.00" y="255.50" width="42.30" height="82.00" fill="#3b0f45" />
<polygon points="464.0,289.5 488.0,324.0 475.0,337.5 464.0,337.5" fill="#571a63" filter="url(#blurF)"/>
<polygon points="464.00,255.50 475.00,255.50 479.00,261.00 506.00,298.50 510.00,304.10 510.00,337.50 475.00,337.50 488.00,324.00 464.50,289.50 464.00,288.80" fill="url(#bandCK)" filter="url(#blurF)"/>
<ellipse cx="494.0" cy="332.5" rx="14" ry="7" fill="#a83cac" opacity="0.8" filter="url(#blurF)"/>
<rect x="464.00" y="255.50" width="42.30" height="82.00" fill="#000" filter="url(#noiseF)" opacity="0.5"/>
</g>
<g clip-path="url(#clipF2)">
<rect x="507.80" y="255.50" width="43.20" height="82.00" fill="#040404" />
<path stroke="#7a751e" stroke-width="0.7" fill="none" d="M529.3 331.0h0.6M545.1 303.4h0.6M531.8 312.6h0.6M516.6 294.3h0.6M530.9 332.7h0.8M516.8 278.2h0.7M536.6 306.1h0.8M518.8 279.7h0.7M511.6 272.8h0.7M518.3 268.2h0.7M521.3 293.0h0.8M535.6 290.2h0.6M541.2 293.5h0.6M541.2 326.5h0.7M539.9 295.9h0.8M540.3 305.2h0.7M513.1 264.2h0.8M534.8 264.3h0.7M520.5 272.4h0.6M539.9 325.1h0.8M532.2 293.1h0.8M526.9 294.1h0.6M516.8 264.1h0.6M538.5 332.6h0.6M541.1 261.7h0.7M519.5 275.2h0.6M535.7 332.0h0.8M518.7 301.3h0.8M517.1 284.2h0.7M529.4 293.6h0.6M542.1 295.7h0.7M541.7 316.9h0.7M534.0 319.8h0.7M525.3 307.3h0.7M534.5 325.5h0.6M518.2 280.2h0.7M523.9 291.6h0.6M512.1 263.6h0.8M536.8 292.1h0.8M519.4 256.4h0.6M539.1 310.3h0.7M510.3 291.6h0.8M533.9 293.7h0.8M544.2 337.2h0.8M544.4 325.8h0.7M530.7 279.0h0.6M513.3 267.4h0.6M542.7 336.4h0.7M512.5 259.3h0.7M540.4 320.9h0.8M525.1 298.0h0.8M541.4 329.1h0.7M530.7 325.3h0.6M535.7 321.7h0.8M541.3 309.3h0.8M546.7 277.2h0.6M538.8 326.9h0.7M529.4 299.6h0.6M520.1 304.5h0.8M545.6 316.4h0.6M535.7 337.5h0.8M529.1 281.7h0.7M530.4 328.2h0.7M544.3 300.9h0.7M512.5 276.1h0.6M550.0 301.8h0.8M532.0 314.3h0.6M527.0 300.4h0.6M547.0 337.3h0.6M512.2 320.0h0.8M523.6 304.0h0.7M526.4 330.0h0.7M524.1 283.3h0.6M537.2 305.5h0.8M531.1 315.3h0.6M532.9 277.9h0.7M541.8 280.6h0.7M525.1 332.0h0.7M519.5 267.9h0.7M542.6 326.6h0.6M524.1 296.9h0.6M522.0 270.8h0.7M539.9 295.8h0.7M533.9 280.0h0.8M538.7 308.7h0.6M549.6 305.7h0.8M508.9 265.2h0.7M509.5 268.1h0.7M512.2 267.6h0.6M535.9 324.3h0.8M516.3 286.8h0.8M537.7 328.4h0.7M531.0 318.5h0.6M533.3 332.2h0.7M531.1 318.0h0.7M514.1 273.1h0.7M519.2 295.4h0.6M532.5 295.1h0.6M532.4 312.6h0.8M535.2 320.0h0.7M549.9 316.8h0.7M545.6 298.6h0.7M538.6 296.0h0.8M516.9 294.4h0.7M513.1 275.6h0.8M533.4 289.6h0.7M525.1 325.1h0.6M515.5 283.2h0.8M511.8 283.9h0.8M523.7 291.9h0.7M547.2 306.4h0.6M524.2 335.6h0.8M535.5 330.7h0.8M519.6 308.5h0.8M521.9 284.1h0.8M523.6 311.5h0.6M513.0 259.0h0.8M515.6 292.5h0.7M509.4 312.6h0.8M529.7 275.2h0.8M531.0 327.5h0.6M531.5 283.2h0.6M521.6 303.5h0.7M508.5 271.1h0.7M543.3 331.7h0.6M514.2 290.1h0.8M519.0 285.6h0.8M535.2 294.8h0.6M548.0 317.7h0.8M520.4 280.1h0.7M537.3 329.9h0.8M532.4 291.3h0.6M513.8 282.7h0.7M530.0 281.2h0.7M524.4 265.6h0.8M509.4 280.0h0.7M545.7 310.3h0.8M522.6 284.6h0.8M525.7 280.4h0.8M522.5 292.2h0.6M525.5 280.2h0.6M523.7 304.4h0.8M546.6 305.5h0.6M508.2 281.8h0.7M523.9 292.8h0.7M522.8 280.9h0.8M527.1 297.4h0.8M530.6 297.1h0.6M532.9 334.2h0.6M533.6 304.5h0.6M544.9 310.3h0.7M536.9 296.0h0.6M542.5 310.9h0.7M528.1 266.9h0.8M536.5 324.0h0.7M539.5 327.7h0.7M536.2 289.0h0.8M520.5 336.9h0.7M546.3 298.9h0.7M518.1 260.2h0.7M512.3 262.1h0.7M549.4 309.0h0.8M511.4 268.1h0.6M518.7 276.6h0.7M522.5 264.5h0.8M527.5 289.5h0.6M539.4 332.5h0.7M512.5 274.6h0.7M520.4 267.6h0.7M514.6 263.7h0.7M520.0 261.4h0.6M528.8 272.3h0.8M522.7 298.6h0.7M546.7 335.8h0.8M529.0 332.9h0.8M544.2 329.6h0.8M520.6 286.4h0.8M548.1 328.7h0.6M509.0 281.9h0.8M517.6 301.5h0.6M520.9 335.8h0.8M549.3 335.3h0.7M528.6 307.6h0.6M531.7 328.2h0.6M514.0 334.7h0.7M545.4 315.9h0.6M546.7 315.3h0.8M542.1 305.3h0.6M535.9 329.3h0.8M545.9 313.3h0.6M517.9 292.3h0.8M542.0 307.8h0.6M537.8 329.3h0.7M521.4 268.8h0.8M547.1 322.1h0.7M525.8 300.6h0.8M536.1 334.8h0.6M526.3 281.0h0.6M542.5 319.1h0.6M540.2 289.7h0.8M515.1 294.7h0.7M522.5 266.1h0.8M518.8 260.2h0.8M527.5 304.1h0.7M530.3 332.5h0.8M519.6 288.2h0.6M525.9 277.7h0.6M508.3 282.1h0.8M516.7 280.7h0.8M547.2 304.9h0.6M520.0 298.1h0.6M547.6 317.7h0.6M526.7 292.7h0.7M539.4 292.2h0.8M528.4 291.2h0.6M531.9 286.9h0.7M526.5 314.3h0.7M539.0 304.6h0.6M526.8 329.7h0.7M525.3 290.7h0.8M535.8 295.3h0.6M509.9 264.8h0.6M509.4 270.5h0.6M534.6 283.9h0.8M527.3 303.9h0.7M520.3 295.6h0.6M534.7 283.4h0.7M534.7 280.5h0.6M545.5 257.4h0.6M517.6 259.7h0.8M535.6 311.5h0.6M548.6 323.0h0.6M507.9 268.3h0.6M530.1 298.0h0.7M546.6 332.9h0.6M543.5 325.4h0.8M529.9 284.0h0.7M548.4 323.9h0.7M537.8 326.7h0.7M541.1 267.2h0.8M535.3 321.9h0.8M525.7 274.2h0.8M512.4 283.5h0.6M539.6 288.1h0.6M519.7 304.3h0.7M527.1 311.1h0.7M521.0 258.7h0.7M519.5 333.0h0.8M537.7 315.0h0.8M530.9 292.3h0.7M550.8 304.5h0.7M535.0 316.1h0.6M547.0 294.1h0.8M541.8 318.8h0.8M530.3 278.2h0.7M527.0 290.0h0.7M541.6 296.2h0.6M533.0 337.4h0.6M536.6 303.2h0.6M528.4 297.3h0.8M543.4 299.1h0.8M513.1 271.3h0.7M524.9 304.0h0.7M538.0 283.2h0.6M543.3 301.3h0.6M541.5 293.3h0.6M526.5 299.4h0.8M527.6 292.5h0.7"/>
<path stroke="#969026" stroke-width="0.7" fill="none" d="M541.4 301.9h0.6M538.2 318.2h0.8M529.2 263.6h0.6M542.3 322.8h0.6M532.6 333.8h0.8M512.4 284.1h0.6M542.3 319.2h0.6M520.1 297.9h0.6M535.1 334.6h0.8M536.6 298.4h0.7M523.8 307.9h0.8M511.9 289.0h0.6M539.0 297.8h0.8M524.8 294.3h0.7M520.5 286.4h0.6M512.9 274.3h0.8M511.9 273.2h0.8M543.6 297.6h0.6M510.2 259.4h0.6M517.4 266.8h0.8M547.7 304.0h0.8M535.4 319.1h0.8M530.7 297.5h0.7M518.0 302.6h0.8M519.4 293.4h0.6M526.0 330.8h0.8M524.6 299.4h0.8M536.9 312.6h0.7M529.5 287.8h0.8M518.8 302.7h0.6M518.5 270.0h0.8M522.7 305.8h0.6M548.6 301.1h0.6M545.1 326.4h0.8M532.0 333.9h0.7M530.9 275.8h0.6M523.5 299.9h0.8M538.5 304.4h0.8M532.5 334.4h0.7M509.4 309.6h0.8M525.7 295.2h0.8M529.8 289.7h0.7M539.4 293.5h0.8M536.9 297.9h0.8M518.8 286.9h0.7M520.7 285.0h0.8M516.4 282.5h0.7M532.7 327.4h0.6M547.0 304.2h0.6M519.8 327.3h0.7M521.0 293.4h0.6M528.9 282.2h0.7M531.6 333.8h0.6M513.5 292.9h0.7M549.4 336.6h0.7M534.5 318.5h0.7M543.6 319.6h0.8M536.4 277.8h0.7M540.9 293.2h0.6M515.4 260.7h0.6M550.6 336.3h0.6M536.2 281.1h0.7M519.5 268.9h0.8M515.8 287.6h0.8M539.8 300.9h0.6M538.2 333.0h0.7M515.6 275.1h0.8M542.1 322.2h0.7M533.9 282.0h0.8M527.4 282.1h0.7M536.7 312.1h0.6M543.6 331.6h0.6M549.5 318.1h0.8M514.1 295.7h0.8M509.4 271.2h0.7M515.2 270.0h0.8M534.1 300.7h0.7M532.7 294.4h0.7M529.9 295.7h0.8M518.0 300.0h0.7M527.9 280.2h0.6M509.1 304.7h0.7M537.5 292.1h0.7M514.9 272.4h0.6M531.4 313.1h0.6M524.3 273.2h0.7M521.6 285.7h0.7M542.9 330.0h0.6M527.7 283.6h0.6M522.5 335.6h0.6M514.3 271.1h0.6M535.0 285.7h0.6M546.0 322.9h0.7M535.9 281.6h0.8M528.1 283.9h0.7M539.0 329.0h0.8M517.4 265.4h0.6M550.8 314.4h0.8M522.8 336.1h0.8M543.2 312.8h0.7M515.6 294.1h0.7M516.7 270.9h0.6M525.0 287.9h0.6M542.8 325.8h0.7M546.9 325.2h0.6M545.8 333.0h0.7M508.7 275.3h0.7M524.2 280.7h0.7M542.5 289.7h0.6M525.7 307.0h0.8M514.5 270.9h0.6M531.0 320.5h0.8M544.8 329.4h0.6M528.1 279.4h0.7M519.3 301.8h0.7M550.8 321.7h0.7M516.2 258.3h0.8M550.2 309.9h0.8M526.6 274.8h0.8M530.7 332.4h0.7M527.6 289.5h0.6M532.9 300.4h0.6M540.9 287.4h0.7M525.0 282.8h0.6M526.9 294.1h0.7M539.9 336.7h0.6M533.6 277.4h0.6M508.4 269.6h0.7M530.9 304.4h0.7M515.3 277.5h0.6M518.5 286.3h0.7M521.8 273.6h0.7M527.1 335.4h0.6M533.0 306.1h0.6M510.6 335.3h0.7M525.6 293.1h0.6M537.2 335.4h0.6M541.0 289.7h0.7M532.4 261.5h0.6M522.0 304.8h0.7M517.0 261.3h0.7M539.8 286.4h0.6M527.7 272.6h0.7M538.9 310.9h0.7M550.2 300.0h0.6M547.4 331.2h0.7M536.8 302.6h0.8M509.5 289.4h0.7M546.3 305.3h0.6M523.9 270.9h0.6M524.5 333.2h0.7M536.8 290.0h0.8M525.9 281.7h0.6M509.9 261.1h0.8M515.5 312.3h0.7M536.4 284.1h0.8M529.0 290.0h0.7M514.1 258.6h0.8M550.5 329.1h0.8M547.6 304.4h0.8M529.1 307.8h0.8M545.3 309.2h0.7M531.7 294.1h0.6M543.1 335.8h0.6M536.0 306.7h0.6M529.8 300.6h0.7M531.6 316.7h0.6M544.7 295.2h0.6M549.1 301.7h0.7M520.2 295.9h0.8M527.7 329.5h0.6M519.7 258.7h0.6M517.0 266.6h0.8M537.5 324.7h0.6M534.1 290.5h0.6M512.2 264.7h0.7M533.6 284.2h0.6M515.2 262.2h0.6M511.6 324.6h0.8M531.7 302.2h0.6M537.5 328.4h0.6M515.2 285.5h0.7M536.0 288.2h0.8M520.3 304.5h0.8M532.3 326.2h0.7M523.4 283.0h0.8M519.0 277.0h0.6M541.8 319.1h0.7M519.9 272.4h0.8M528.5 318.5h0.8M509.8 268.5h0.8M520.2 291.6h0.8M545.8 309.3h0.7M546.8 330.8h0.6M549.0 335.2h0.8M518.8 275.6h0.7M519.6 292.2h0.6M545.2 325.9h0.7M546.4 280.8h0.6M543.4 335.8h0.8M539.7 312.9h0.8M546.5 295.0h0.7M511.2 293.2h0.8M532.3 299.3h0.8M547.8 330.6h0.8M511.9 271.3h0.8M535.1 303.6h0.8M535.8 332.1h0.6M520.4 282.1h0.7M513.2 262.3h0.7M513.9 275.0h0.7M537.4 282.0h0.7M513.4 272.3h0.8M526.2 307.4h0.6M516.0 260.8h0.7M507.8 281.7h0.6M546.3 303.5h0.8M526.8 302.5h0.7M548.7 303.3h0.8M550.7 305.2h0.6M536.8 284.6h0.7M539.3 291.6h0.8M510.8 322.1h0.8M542.2 315.4h0.7M525.1 265.0h0.6M521.2 312.4h0.6M524.3 276.4h0.6M546.1 314.7h0.7M512.4 281.9h0.6M534.6 302.4h0.8M547.7 331.4h0.8M510.8 265.6h0.6M517.0 286.1h0.7M529.1 297.5h0.8M521.7 293.8h0.7M524.7 313.9h0.8M521.6 272.4h0.7M523.6 306.2h0.7M529.5 306.9h0.6M529.5 320.5h0.8M542.8 310.7h0.7M537.2 326.8h0.6M522.5 265.9h0.8M514.6 292.2h0.8M523.7 311.9h0.8M518.8 291.9h0.6M535.1 307.1h0.6M512.9 269.2h0.8M539.1 327.1h0.7M525.8 289.8h0.6M529.4 303.3h0.8M513.7 274.3h0.7M539.3 284.3h0.7M544.3 318.9h0.7M534.1 332.2h0.7M547.6 315.4h0.8M534.6 315.3h0.8M517.6 292.6h0.6M539.5 326.8h0.7M510.8 264.0h0.8M539.9 330.6h0.8M531.3 326.6h0.8M545.8 326.5h0.8M516.5 298.2h0.8M531.0 301.2h0.8M533.8 304.1h0.6M532.9 301.1h0.8M519.1 269.6h0.8M524.1 272.3h0.6M521.4 300.5h0.7M519.6 287.7h0.6M513.3 278.2h0.8M514.6 269.0h0.8M541.7 321.7h0.6M523.2 279.2h0.6M541.2 320.5h0.7M526.4 300.0h0.7M517.9 272.7h0.7"/>
<path stroke="#b4ae2e" stroke-width="0.7" fill="none" d="M527.8 286.1h0.7M529.5 329.2h0.8M533.3 319.0h0.7M524.9 283.5h0.7M510.2 286.6h0.6M546.5 272.2h0.6M521.1 278.9h0.6M548.7 336.4h0.6M510.4 272.6h0.7M520.1 294.9h0.8M521.1 298.7h0.8M513.7 263.7h0.7M532.6 296.2h0.8M509.8 289.1h0.6M528.3 313.2h0.7M549.6 264.4h0.8M528.0 298.3h0.6M508.5 276.3h0.8M544.6 305.1h0.8M524.4 282.5h0.6M542.3 296.7h0.7M530.4 317.4h0.7M548.2 314.2h0.7M541.0 335.0h0.8M520.0 266.1h0.6M539.7 308.5h0.6M529.8 315.4h0.8M549.1 335.9h0.6M528.9 289.4h0.8M529.8 313.2h0.8M538.0 318.2h0.7M547.1 334.3h0.8M543.7 327.9h0.6M541.4 292.1h0.7M536.5 293.8h0.7M535.7 311.1h0.8M518.9 260.3h0.6M547.8 302.0h0.7M510.8 259.2h0.7M526.3 284.8h0.8M550.9 314.4h0.7M518.4 301.9h0.7M540.3 328.9h0.6M509.8 282.0h0.6M512.1 281.0h0.7M539.9 308.1h0.7M518.5 297.7h0.8M539.8 303.6h0.6M510.2 274.9h0.6M546.3 296.3h0.7M512.9 286.4h0.8M544.2 286.3h0.8M540.2 322.6h0.8M511.8 273.1h0.8M509.6 268.8h0.6M526.6 331.3h0.6M518.2 302.0h0.8M546.3 324.0h0.8M542.1 323.5h0.6M524.0 283.9h0.8M530.2 285.3h0.6M531.1 297.2h0.6M549.7 309.6h0.8M526.2 297.2h0.8M511.5 275.2h0.6M538.4 326.2h0.7M541.2 293.5h0.7M524.4 293.1h0.8M521.8 290.6h0.7M536.7 290.8h0.7M548.5 331.4h0.6M527.3 277.0h0.6M530.8 304.2h0.6M546.5 297.9h0.7M542.2 317.5h0.7M533.0 278.9h0.8M543.1 299.3h0.6M509.2 263.6h0.8M524.3 264.0h0.6M520.8 284.9h0.7M549.9 331.7h0.7M520.2 281.7h0.8M522.6 266.8h0.7M519.3 277.4h0.7M536.2 305.0h0.6M542.0 322.6h0.7M542.8 311.8h0.7M524.4 333.4h0.6M529.7 332.0h0.8M535.1 292.8h0.7M540.5 330.0h0.8M531.0 289.4h0.6M517.0 290.7h0.7M540.0 326.7h0.8M550.9 321.4h0.7M512.8 292.4h0.8M534.6 328.9h0.8M535.4 313.3h0.6M528.7 275.3h0.6M516.4 276.7h0.6M532.6 316.7h0.6M517.7 265.9h0.7M536.3 312.3h0.6M537.4 303.3h0.7M548.0 298.2h0.6M535.7 293.8h0.7M529.2 324.9h0.6M545.7 316.7h0.7M508.5 261.3h0.6M549.1 258.9h0.8M530.2 290.4h0.8M538.2 328.4h0.7M510.4 256.3h0.7M525.5 294.7h0.6M542.9 321.9h0.6M540.3 322.0h0.8M518.4 277.4h0.8M532.6 296.9h0.6M526.8 275.0h0.6M525.9 268.4h0.8M521.7 289.3h0.8M542.1 317.6h0.6M550.2 326.1h0.7M546.1 311.5h0.8M512.1 292.1h0.7M513.5 264.9h0.7M519.4 288.1h0.6M528.8 313.2h0.6M548.5 309.4h0.7M526.3 298.2h0.7M532.8 313.1h0.7M513.2 316.7h0.7M534.2 315.2h0.6M533.5 296.7h0.7M534.5 331.1h0.7M523.1 270.0h0.7M548.3 305.5h0.7M532.4 335.7h0.6M532.8 314.3h0.6M545.3 333.3h0.8M541.2 305.1h0.6M532.3 306.8h0.8M522.3 299.8h0.6M521.7 306.1h0.8M512.9 272.1h0.6M512.9 294.5h0.7M518.7 269.9h0.8M512.8 268.4h0.6M528.9 331.1h0.8M514.4 265.7h0.7M531.9 296.9h0.6M544.4 320.1h0.7M529.1 335.0h0.7M546.8 299.9h0.6M538.5 328.1h0.6M545.9 314.6h0.7M525.8 334.2h0.8M548.7 308.4h0.7M524.7 285.5h0.6M548.1 301.2h0.8M543.0 299.3h0.6M519.6 263.1h0.6M508.0 277.1h0.7M538.1 332.3h0.8M524.5 266.4h0.8M530.0 309.2h0.6M548.8 308.1h0.8M520.5 271.6h0.7M518.0 262.3h0.8M549.5 311.0h0.8M536.1 289.3h0.6M537.3 319.6h0.8M546.8 310.0h0.7M544.3 293.2h0.8M534.7 317.2h0.6M519.3 285.1h0.6M529.4 336.4h0.6M546.0 321.5h0.7M529.3 318.6h0.6M519.9 265.0h0.8M546.4 334.6h0.7M518.9 265.2h0.6M530.4 301.7h0.7M528.9 304.8h0.7M523.6 304.2h0.7M531.5 277.0h0.7M545.6 309.0h0.8M543.0 309.9h0.8M511.7 287.6h0.7M511.4 282.3h0.6M543.6 327.9h0.6M520.6 279.4h0.7M514.1 275.9h0.7M550.2 306.2h0.7M540.7 322.9h0.8M512.3 290.5h0.6M550.4 261.5h0.8M518.5 288.6h0.7M543.7 336.1h0.8M511.9 286.7h0.6M546.8 307.9h0.8M531.7 302.5h0.7M550.0 311.7h0.8M523.0 264.6h0.8M523.1 270.4h0.7M523.5 269.5h0.7M509.1 274.8h0.6M540.2 320.3h0.6M539.4 292.7h0.8M550.5 325.8h0.6M508.0 328.4h0.8M549.6 300.1h0.8M546.4 311.6h0.6M513.8 282.2h0.7M541.8 321.2h0.6M515.8 258.2h0.8M545.6 306.8h0.8M509.8 266.2h0.6M512.5 288.3h0.6M547.7 312.2h0.7M533.9 332.8h0.8M532.3 294.4h0.6M515.1 298.7h0.7M533.5 259.3h0.6M543.8 296.2h0.7M530.7 337.4h0.6M534.2 335.0h0.8M525.7 298.1h0.6M507.9 261.8h0.6M511.5 289.5h0.7M520.6 288.8h0.7M537.5 312.9h0.7M512.0 282.2h0.8M520.7 278.1h0.6M507.8 287.4h0.7M537.0 300.4h0.6M530.9 310.3h0.7M545.1 297.8h0.6M529.1 292.1h0.6M531.2 287.4h0.6M539.9 294.1h0.6M532.8 278.8h0.6M519.4 285.1h0.7M512.5 287.5h0.8M539.3 325.1h0.7M527.8 305.2h0.6M530.1 308.8h0.7M524.4 284.8h0.8M540.9 305.3h0.6M536.4 303.5h0.8M525.7 275.2h0.7M530.8 285.1h0.7M534.7 290.3h0.7M514.3 279.0h0.8M545.3 299.5h0.7M526.5 271.7h0.8M508.0 286.4h0.6M536.0 303.2h0.7M543.3 314.0h0.7M546.1 312.9h0.6M511.2 275.2h0.7M519.5 304.1h0.6M538.0 311.5h0.8M550.5 314.0h0.8M530.3 312.5h0.7M534.8 303.8h0.7M542.3 326.0h0.8M530.0 330.4h0.7M511.8 265.4h0.7M534.1 307.0h0.6M537.7 323.3h0.8M509.6 285.6h0.7M543.9 292.5h0.8M532.6 280.9h0.7M550.8 311.7h0.7M540.8 297.8h0.6M542.5 332.8h0.8M535.9 307.4h0.8M543.2 289.4h0.8M511.8 271.7h0.7M527.3 314.4h0.8M539.7 315.2h0.6M538.6 321.5h0.8M538.2 308.1h0.7M525.2 270.0h0.8M516.2 303.8h0.6M534.3 305.7h0.6M537.5 290.4h0.6M541.5 261.1h0.8M526.4 335.2h0.8M529.4 311.6h0.6M515.2 271.4h0.8M532.5 303.1h0.6M543.0 292.7h0.7M533.0 275.2h0.7M516.2 272.6h0.7M531.3 282.7h0.7M528.9 269.9h0.8M510.7 275.4h0.6M537.6 283.6h0.7M533.6 310.5h0.7M519.0 290.0h0.6M528.7 288.9h0.8"/>
<path stroke="#ccc436" stroke-width="0.7" fill="none" d="M533.3 319.0h0.6M550.4 302.6h0.6M526.5 273.0h0.6M524.3 301.5h0.8M509.1 275.5h0.8M539.2 309.5h0.7M529.9 291.7h0.7M527.4 311.7h0.6M534.9 288.5h0.8M532.6 278.0h0.8M537.2 290.8h0.6M543.3 255.9h0.6M542.7 335.6h0.6M533.2 293.1h0.8M539.3 321.1h0.8M524.2 275.5h0.8M531.4 298.3h0.7M511.9 288.0h0.7M550.2 310.6h0.7M527.2 308.0h0.8M536.2 327.8h0.6M532.5 332.4h0.8M518.7 291.2h0.8M543.7 324.0h0.8M537.0 333.1h0.6M528.2 300.9h0.8M512.0 286.1h0.8M524.5 294.5h0.8M517.4 284.4h0.8M544.9 302.5h0.8M511.5 273.6h0.8M530.4 310.2h0.7M528.8 291.4h0.6M517.0 295.7h0.6M532.2 332.6h0.7M523.1 264.9h0.7M525.9 277.7h0.8M519.7 268.3h0.6M542.2 291.4h0.7M508.7 284.4h0.6M511.7 290.0h0.7M517.9 283.3h0.8M532.7 284.6h0.7M547.2 337.1h0.8M525.2 294.9h0.8M523.1 280.6h0.7M523.5 310.8h0.6M528.0 283.7h0.8M533.5 291.4h0.7M541.7 288.3h0.8M540.8 304.7h0.7M515.1 262.7h0.8M525.4 257.7h0.6M537.6 296.2h0.6M525.4 293.6h0.8M510.9 287.2h0.6M511.2 284.7h0.8M528.8 274.9h0.6M529.6 301.3h0.8M517.1 260.5h0.6M527.5 309.3h0.8M548.4 330.4h0.8M528.6 291.2h0.8M540.5 310.3h0.7M549.5 301.2h0.7M509.8 268.4h0.8M530.6 309.3h0.7M550.7 332.8h0.8M511.0 273.8h0.6M543.3 322.6h0.6M550.0 336.4h0.6M547.3 269.5h0.6M529.4 309.3h0.7M518.3 270.3h0.7M533.4 318.8h0.8M537.1 323.8h0.6M547.8 303.7h0.6M510.5 309.4h0.6M516.8 294.5h0.7M523.1 277.8h0.7M519.7 296.9h0.8M542.6 315.9h0.7M528.4 333.4h0.8M519.3 300.3h0.6M518.6 274.4h0.8M514.9 275.8h0.7M544.7 334.1h0.7M529.6 280.5h0.8M544.0 329.0h0.6M522.7 294.0h0.7M542.7 321.2h0.6M525.2 301.5h0.8M537.5 298.9h0.6M513.0 294.0h0.8M531.3 332.3h0.8M536.5 334.2h0.8M509.4 257.4h0.6M529.0 283.3h0.7M514.4 316.1h0.7M521.7 335.4h0.6M525.5 289.9h0.8M532.6 303.9h0.7M537.1 321.3h0.7M512.3 292.2h0.7M515.5 262.9h0.7M523.2 329.2h0.6M545.4 304.2h0.7M523.1 278.2h0.6M533.5 328.8h0.7M518.2 265.4h0.7M522.2 294.8h0.8M534.8 335.5h0.8M527.4 332.0h0.8M517.9 279.1h0.7M516.2 299.8h0.6M531.5 288.7h0.6M542.7 312.8h0.7M513.4 282.8h0.6M511.9 265.5h0.8M519.2 292.5h0.8M518.8 262.2h0.7M510.9 255.6h0.7M546.7 336.7h0.8M537.4 306.0h0.6M523.8 286.5h0.7M522.5 298.4h0.8M515.1 288.9h0.7M530.7 272.2h0.7M509.3 274.2h0.6M535.8 299.4h0.7M525.8 283.8h0.6M550.4 263.1h0.8M512.3 328.3h0.8M534.1 302.1h0.8M540.2 324.5h0.6M533.2 316.7h0.6M550.7 317.4h0.8M531.5 304.0h0.7M522.3 302.7h0.7M546.0 323.2h0.7M535.7 285.7h0.8M525.4 268.5h0.7M510.0 265.8h0.8M523.9 300.4h0.6M531.2 301.3h0.6M522.9 282.5h0.6M547.8 335.0h0.6M523.0 337.2h0.7M530.4 296.5h0.6M529.8 308.1h0.6M520.7 335.7h0.7M513.3 262.3h0.6M527.4 270.5h0.6M525.2 306.0h0.8M533.2 304.2h0.7M519.5 298.3h0.6M510.4 256.4h0.6M522.1 301.8h0.6M529.5 327.6h0.6M532.2 318.6h0.7M536.8 289.5h0.8M512.4 291.7h0.6M525.1 295.3h0.6M546.4 330.4h0.6M550.9 330.1h0.6M550.5 317.8h0.7M540.9 271.2h0.7M511.4 270.8h0.8M528.0 284.7h0.6M531.1 299.7h0.8M517.0 266.4h0.7M532.5 287.6h0.7M528.0 280.8h0.7M549.3 287.0h0.6M538.3 308.4h0.6M545.3 294.2h0.6M519.1 280.9h0.7M518.3 302.7h0.6M512.1 277.4h0.7M516.3 257.1h0.7M510.7 331.0h0.8M516.3 296.3h0.6M542.3 314.4h0.7M513.4 268.7h0.7M548.5 335.1h0.6M530.5 295.8h0.7M525.3 282.2h0.8M541.4 330.6h0.7M523.2 298.6h0.6M524.5 304.4h0.8M526.2 291.0h0.7M520.1 271.0h0.7M545.5 305.2h0.6M538.6 328.4h0.6M542.2 294.0h0.7M512.6 273.4h0.8M517.2 301.8h0.8M541.6 305.5h0.7M528.6 319.2h0.6M537.6 273.8h0.7M533.3 288.3h0.8M533.3 327.6h0.6M529.1 289.9h0.8M516.0 295.6h0.8M525.3 313.4h0.8M532.9 286.3h0.8M521.7 278.9h0.6M521.1 289.7h0.8M512.0 279.8h0.8M511.5 331.5h0.8M527.4 275.3h0.6M528.6 291.4h0.8M548.3 309.1h0.6M525.9 295.4h0.8M540.3 306.8h0.7M548.2 318.4h0.6M520.4 285.7h0.8M546.2 304.0h0.8M520.3 266.9h0.7M514.2 332.5h0.8M542.4 309.3h0.8M511.0 262.8h0.6M522.9 286.3h0.6M529.7 316.3h0.6M517.6 295.3h0.7M519.3 270.9h0.6M539.6 302.8h0.8M530.6 313.2h0.6M547.4 334.7h0.6M548.0 314.2h0.7M532.5 309.1h0.6M549.6 317.7h0.6M526.9 292.1h0.7M533.3 335.0h0.6M534.4 301.5h0.7M508.5 279.0h0.6M511.2 278.0h0.6M543.8 306.8h0.6M543.2 305.4h0.7M517.8 286.7h0.7M542.5 314.9h0.8M545.1 281.6h0.8M507.9 267.2h0.6M532.3 305.3h0.7M530.6 313.3h0.6M528.5 277.4h0.7M528.0 304.6h0.8M518.6 285.6h0.8M535.7 308.3h0.8M523.2 306.7h0.7M523.2 272.8h0.6M550.2 316.2h0.8M525.6 309.6h0.6M508.5 282.0h0.8M518.5 256.8h0.7M522.9 302.7h0.7M518.3 313.2h0.6M521.8 262.8h0.8M510.5 303.0h0.7M533.0 283.0h0.6M530.1 332.8h0.7M550.8 324.1h0.7M526.3 269.9h0.6M524.8 272.6h0.8M544.4 336.5h0.8M535.6 326.7h0.7M549.9 333.4h0.7M535.2 297.2h0.7M540.9 307.2h0.8M542.9 322.0h0.7M528.5 318.6h0.7M548.1 331.0h0.8M535.2 284.3h0.7M535.2 279.4h0.6M510.3 282.9h0.8M523.6 284.6h0.8M527.3 283.9h0.8M536.8 286.2h0.7M523.3 291.3h0.8M537.6 330.0h0.6M523.9 336.0h0.6M519.7 300.3h0.7M541.3 332.4h0.7M531.9 306.1h0.7"/>
</g>
<g clip-path="url(#clipF3)">
<rect x="552.60" y="255.50" width="43.20" height="82.00" fill="#040404" />
<path stroke="#2a8040" stroke-width="0.7" fill="none" d="M558.5 270.5h0.8M592.5 315.0h0.7M577.8 325.2h0.7M574.5 305.6h0.6M561.7 295.9h0.8M572.5 287.6h0.7M592.9 325.6h0.8M585.5 311.7h0.7M582.8 333.9h0.6M564.7 323.3h0.6M561.3 265.9h0.7M570.2 299.2h0.7M563.6 276.3h0.6M573.2 302.1h0.8M588.3 301.6h0.8M580.9 328.5h0.7M577.9 311.2h0.8M575.9 335.6h0.6M593.8 337.1h0.7M582.3 323.2h0.8M553.6 256.5h0.7M576.2 282.7h0.8M575.4 276.5h0.8M593.3 303.6h0.8M577.9 290.2h0.7M589.0 294.3h0.7M590.5 312.3h0.6M577.1 300.9h0.7M568.1 301.0h0.8M568.5 282.1h0.8M552.8 257.0h0.6M558.2 294.9h0.6M578.1 276.7h0.6M579.8 304.8h0.6M570.4 304.4h0.6M565.1 269.4h0.6M582.5 325.2h0.6M560.0 291.7h0.7M552.6 306.6h0.8M555.0 259.0h0.6M586.7 328.4h0.7M562.3 294.5h0.7M591.2 299.3h0.6M573.5 275.5h0.6M591.8 334.4h0.8M560.3 287.9h0.7M588.2 333.5h0.6M589.9 308.1h0.7M582.1 299.4h0.6M570.5 290.9h0.7M563.6 263.1h0.8M574.7 309.0h0.8M570.0 266.7h0.8M590.5 257.4h0.6M581.4 325.7h0.7M587.4 310.6h0.8M553.0 299.3h0.7M560.1 294.7h0.8M576.0 319.6h0.8M570.7 295.0h0.8M577.0 312.2h0.7M586.5 311.4h0.8M555.6 273.8h0.6M555.1 278.9h0.7M552.7 263.6h0.8"/>
<path stroke="#2f9a4a" stroke-width="0.7" fill="none" d="M556.0 258.7h0.8M572.9 335.2h0.6M581.7 321.6h0.7M585.1 329.0h0.7M554.2 335.1h0.6M585.4 279.8h0.6M571.9 313.0h0.8M590.0 297.1h0.6M574.0 301.3h0.7M577.3 328.5h0.7M569.4 293.8h0.8M575.6 320.0h0.6M558.5 267.0h0.6M571.0 271.6h0.7M576.2 298.5h0.7M565.4 275.0h0.8M576.3 314.7h0.6M594.4 301.4h0.6M573.8 298.9h0.6M585.0 327.4h0.7M577.9 316.9h0.8M566.5 302.0h0.6M558.9 264.9h0.8M594.9 306.6h0.7M587.7 330.2h0.7M580.4 322.1h0.6M566.2 287.1h0.7M574.1 300.5h0.7M582.9 317.4h0.6M576.3 291.7h0.8M567.5 286.4h0.6M579.7 269.0h0.7M577.2 320.8h0.8M589.6 275.7h0.6M556.3 264.1h0.8M558.3 291.5h0.6M569.4 310.4h0.7M557.7 326.7h0.7M570.0 297.9h0.6M577.2 333.7h0.6M564.2 274.7h0.7M576.2 302.2h0.6M581.7 332.4h0.8M558.5 260.7h0.8M593.6 309.5h0.8M573.5 297.2h0.8M580.6 321.1h0.7M555.1 269.7h0.8M559.8 260.5h0.7M579.0 308.5h0.8M575.3 288.2h0.7"/>
<path stroke="#3fb85a" stroke-width="0.7" fill="none" d="M559.9 305.6h0.8M581.0 287.9h0.8M595.5 257.5h0.6M561.6 300.7h0.8M573.0 282.5h0.8M560.7 295.2h0.8M586.2 330.0h0.8M587.7 308.4h0.6M580.9 334.3h0.8M569.6 280.8h0.7M571.6 271.3h0.8M580.1 322.9h0.8M557.6 295.8h0.8M583.0 295.3h0.6M577.1 279.2h0.7M567.5 299.1h0.6M588.1 306.6h0.8M594.7 318.0h0.6M592.5 300.0h0.6M582.8 321.8h0.7M554.7 267.7h0.7M589.0 317.4h0.7M583.5 301.8h0.6M569.1 290.9h0.7M584.2 299.4h0.6M575.6 285.9h0.7M579.6 302.3h0.6M564.6 291.7h0.6M574.3 270.3h0.8M590.5 308.8h0.8M574.8 282.4h0.8M581.7 293.4h0.8M563.7 283.5h0.7M566.9 261.3h0.7M562.1 265.1h0.6M590.1 296.5h0.7M565.7 322.6h0.6M569.4 267.7h0.6M573.6 334.1h0.8M561.5 273.1h0.7M557.7 314.6h0.8M588.7 286.8h0.7M571.6 282.1h0.7M570.1 303.7h0.6M577.5 285.2h0.6M558.6 293.2h0.8M568.4 294.5h0.7M556.8 265.9h0.6M560.0 261.8h0.8M561.1 293.6h0.8M584.8 303.8h0.7M577.3 330.8h0.8M566.8 269.8h0.7M589.4 325.5h0.6"/>
<path stroke="#58d070" stroke-width="0.7" fill="none" d="M565.0 258.9h0.6M562.0 280.0h0.7M563.9 278.2h0.6M579.7 316.0h0.6M553.7 258.4h0.8M560.1 307.3h0.8M586.8 273.8h0.8M581.0 297.6h0.7M564.7 283.3h0.6M580.4 286.4h0.6M569.9 306.5h0.8M566.7 278.7h0.7M581.5 310.3h0.8M585.4 329.6h0.7M589.4 318.6h0.8M584.7 325.3h0.7M553.1 296.7h0.6M586.3 322.3h0.8M590.2 321.0h0.6M595.5 277.3h0.8M586.6 321.4h0.8M567.9 287.4h0.8M572.5 297.8h0.7M558.3 273.0h0.8M583.3 306.8h0.8M587.3 281.5h0.8M591.2 312.7h0.6M559.9 298.5h0.8M572.2 290.4h0.7M575.2 317.0h0.8M576.8 308.9h0.6M573.0 284.2h0.7M590.8 306.2h0.7M573.1 307.3h0.6M563.7 268.4h0.8M568.4 301.8h0.8M585.7 286.9h0.7M569.9 270.1h0.6M589.3 335.7h0.6M575.6 316.4h0.8M594.7 327.8h0.8M568.3 304.7h0.8M572.2 312.3h0.8"/>
<path stroke="#6fd0a0" stroke-width="0.7" fill="none" d="M558.0 327.2h0.8M591.6 333.6h0.6M554.7 272.2h0.7M585.2 319.4h0.8M579.0 311.9h0.7M567.0 273.8h0.8M583.9 324.9h0.6M567.2 262.0h0.8M556.4 293.0h0.8M556.6 279.5h0.8M568.1 289.3h0.6M585.1 302.9h0.8M554.3 274.2h0.7M593.3 336.4h0.6M564.1 265.2h0.8M572.7 275.6h0.8M573.1 283.9h0.7M595.1 335.3h0.6M557.3 263.9h0.8M574.9 336.1h0.7M554.8 270.0h0.6M588.1 294.6h0.8M585.7 335.8h0.6M589.0 313.2h0.6M585.6 266.4h0.7M579.4 289.6h0.6M573.3 260.9h0.8M563.0 331.0h0.6M572.7 304.9h0.6M576.8 330.1h0.8M560.1 332.6h0.7M570.8 266.1h0.6M584.7 337.1h0.6M557.8 274.4h0.7M554.6 262.0h0.7M566.5 274.5h0.6M560.3 283.9h0.6M589.6 325.5h0.7M585.8 330.2h0.8M561.3 258.6h0.7M569.7 274.6h0.7M581.4 305.5h0.7M560.0 281.1h0.7M566.3 288.6h0.7M593.2 296.9h0.6M559.9 296.6h0.7M580.1 309.7h0.7M584.9 310.7h0.8M564.5 273.4h0.7M573.3 306.5h0.6M587.6 335.4h0.8M581.1 332.6h0.8M580.1 323.8h0.7M589.1 331.3h0.8M559.6 279.0h0.6"/>
</g>
<g clip-path="url(#clipF0)" stroke="#fff" stroke-width="1.75" stroke-dasharray="5.2 3.2" fill="none">
<line x1="434.20" y1="261.00" x2="462.70" y2="300.60"/>
<path d="M419.70 289.50 L443.20 324.00 L429.20 338.50"/>
</g>
<g clip-path="url(#clipF1)" stroke="#fff" stroke-width="1.75" stroke-dasharray="5.2 3.2" fill="none">
<line x1="479.00" y1="261.00" x2="507.50" y2="300.60"/>
<path d="M464.50 289.50 L488.00 324.00 L474.00 338.50"/>
</g>
<g clip-path="url(#clipF2)" stroke="#fff" stroke-width="1.75" stroke-dasharray="5.2 3.2" fill="none">
<line x1="522.80" y1="261.00" x2="551.30" y2="300.60"/>
<path d="M508.30 289.50 L531.80 324.00 L517.80 338.50"/>
</g>
<g clip-path="url(#clipF3)" stroke="#fff" stroke-width="1.75" stroke-dasharray="5.2 3.2" fill="none">
<line x1="567.60" y1="261.00" x2="596.10" y2="300.60"/>
<path d="M553.10 289.50 L576.60 324.00 L562.60 338.50"/>
</g>
<text x="449.30" y="264.60" font-size="9.2" textLength="12.50" lengthAdjust="spacingAndGlyphs" fill="#fff">BF</text>
<text x="488.50" y="264.40" font-size="9.2" textLength="16.30" lengthAdjust="spacingAndGlyphs" fill="#fff">C-K</text>
<text x="532.80" y="264.40" font-size="9.2" textLength="16.30" lengthAdjust="spacingAndGlyphs" fill="#fff">P-K</text>
<text x="573.60" y="264.40" font-size="9.2" textLength="21.30" lengthAdjust="spacingAndGlyphs" fill="#fff">Ce-L</text>
<rect x="578.50" y="332.40" width="16.10" height="2.40" fill="#fff" />
<text x="403.60" y="270.00" font-size="20.5">f</text>
<rect x="69.30" y="449.60" width="32.00" height="34.50" fill="#98bee7" />
<line x1="85.30" y1="447.30" x2="85.30" y2="450.00" stroke="#98bee7" stroke-width="1.2" />
<line x1="77.80" y1="447.30" x2="92.70" y2="447.30" stroke="#98bee7" stroke-width="1.2" />
<rect x="130.00" y="397.00" width="31.40" height="87.10" fill="#2e3d99" />
<line x1="145.60" y1="386.80" x2="145.60" y2="398.00" stroke="#2e3d99" stroke-width="1.5" />
<line x1="138.10" y1="386.80" x2="153.00" y2="386.80" stroke="#2e3d99" stroke-width="1.5" />
<line x1="49.00" y1="366.30" x2="49.00" y2="522.20" stroke="#000" stroke-width="1.6" />
<line x1="45.30" y1="484.10" x2="181.80" y2="484.10" stroke="#000" stroke-width="1.35" />
<line x1="45.30" y1="386.50" x2="49.00" y2="386.50" stroke="#000" stroke-width="1.35" />
<line x1="45.30" y1="435.20" x2="49.00" y2="435.20" stroke="#000" stroke-width="1.35" />
<line x1="85.30" y1="484.10" x2="85.30" y2="488.30" stroke="#000" stroke-width="1.3" />
<line x1="145.60" y1="484.10" x2="145.60" y2="488.30" stroke="#000" stroke-width="1.3" />
<path d="M84.7 442.8 V370.8 H145.8 V381.8" fill="none" stroke="#000" stroke-width="1.5"/>
<text x="115.00" y="373.40" font-size="13.5" text-anchor="middle" textLength="11.30" lengthAdjust="spacingAndGlyphs">**</text>
<text x="42.00" y="408.30" font-size="12" textLength="35.40" lengthAdjust="spacingAndGlyphs" transform="rotate(-90 42.00 408.30)">5.0×10</text>
<text x="38.20" y="372.50" font-size="7.6" textLength="8.90" lengthAdjust="spacingAndGlyphs" transform="rotate(-90 38.20 372.50)">06</text>
<text x="42.00" y="458.10" font-size="12" textLength="35.70" lengthAdjust="spacingAndGlyphs" transform="rotate(-90 42.00 458.10)">2.5×10</text>
<text x="38.20" y="421.80" font-size="7.6" textLength="8.90" lengthAdjust="spacingAndGlyphs" transform="rotate(-90 38.20 421.80)">06</text>
<text x="42.00" y="487.40" font-size="12" transform="rotate(-90 42.00 487.40)">0</text>
<text x="25.30" y="444.00" font-size="11.5" text-anchor="middle" textLength="138.40" lengthAdjust="spacingAndGlyphs" transform="rotate(-90 25.30 444.00)">Ave. flourescence intensity</text>
<circle cx="63.30" cy="501.10" r="9.80" fill="url(#wellB)" />
<circle cx="84.20" cy="501.10" r="9.80" fill="url(#wellP)" />
<circle cx="105.20" cy="501.10" r="9.80" fill="url(#wellB)" />
<circle cx="125.90" cy="501.10" r="9.80" fill="url(#wellR)" />
<circle cx="146.90" cy="501.10" r="9.80" fill="url(#wellR)" />
<circle cx="168.10" cy="501.10" r="9.80" fill="url(#wellG)" />
<path d="M121.1 496.5 L125.9 499.5 L130.7 496.5 L127.6 501.1 L130.7 505.7 L125.9 502.7 L121.1 505.7 L124.2 501.1 Z" fill="#e0201a" stroke="#e0201a" stroke-width="1.2" stroke-linejoin="round" opacity="0.9" filter="url(#softD)"/>
<path d="M142.1 496.5 L146.9 499.5 L151.7 496.5 L148.6 501.1 L151.7 505.7 L146.9 502.7 L142.1 505.7 L145.2 501.1 Z" fill="#e0201a" stroke="#e0201a" stroke-width="1.2" stroke-linejoin="round" opacity="0.9" filter="url(#softD)"/>
<text x="57.60" y="525.00" font-size="10.5" textLength="54.60" lengthAdjust="spacingAndGlyphs">Bac+Ceria</text>
<text x="115.20" y="525.00" font-size="10.5" textLength="60.00" lengthAdjust="spacingAndGlyphs">Bac@Ceria</text>
<text x="2.80" y="370.80" font-size="20.5">g</text>
<rect x="252.90" y="391.92" width="19.90" height="95.38" fill="#a6a6a6" />
<line x1="262.85" y1="388.90" x2="262.85" y2="392.42" stroke="#a6a6a6" stroke-width="1.1" />
<line x1="258.65" y1="388.90" x2="267.05" y2="388.90" stroke="#a6a6a6" stroke-width="1.1" />
<rect x="290.50" y="455.91" width="20.00" height="31.39" fill="#333333" />
<line x1="300.50" y1="454.71" x2="300.50" y2="456.41" stroke="#333333" stroke-width="1.1" />
<line x1="296.30" y1="454.71" x2="304.70" y2="454.71" stroke="#333333" stroke-width="1.1" />
<rect x="328.10" y="473.09" width="19.90" height="14.21" fill="#98bee7" />
<rect x="365.20" y="474.10" width="20.20" height="13.20" fill="#2e3d99" />
<line x1="244.50" y1="371.70" x2="244.50" y2="487.90" stroke="#000" stroke-width="1.2" />
<line x1="243.90" y1="487.30" x2="394.50" y2="487.30" stroke="#000" stroke-width="1.25" />
<line x1="240.90" y1="487.30" x2="244.50" y2="487.30" stroke="#000" stroke-width="1.25" />
<text x="239.30" y="491.20" font-size="11" text-anchor="end">0</text>
<line x1="240.90" y1="468.10" x2="244.50" y2="468.10" stroke="#000" stroke-width="1.25" />
<text x="239.30" y="472.00" font-size="11" text-anchor="end">40</text>
<line x1="240.90" y1="448.90" x2="244.50" y2="448.90" stroke="#000" stroke-width="1.25" />
<text x="239.30" y="452.80" font-size="11" text-anchor="end">80</text>
<line x1="240.90" y1="429.70" x2="244.50" y2="429.70" stroke="#000" stroke-width="1.25" />
<text x="239.30" y="433.60" font-size="11" text-anchor="end">120</text>
<line x1="240.90" y1="410.50" x2="244.50" y2="410.50" stroke="#000" stroke-width="1.25" />
<text x="239.30" y="414.40" font-size="11" text-anchor="end">160</text>
<line x1="240.90" y1="391.30" x2="244.50" y2="391.30" stroke="#000" stroke-width="1.25" />
<text x="239.30" y="395.20" font-size="11" text-anchor="end">200</text>
<line x1="240.90" y1="372.10" x2="244.50" y2="372.10" stroke="#000" stroke-width="1.25" />
<text x="239.30" y="376.00" font-size="11" text-anchor="end">240</text>
<line x1="262.90" y1="487.30" x2="262.90" y2="491.50" stroke="#000" stroke-width="1.3" />
<line x1="300.60" y1="487.30" x2="300.60" y2="491.50" stroke="#000" stroke-width="1.3" />
<line x1="338.00" y1="487.30" x2="338.00" y2="491.50" stroke="#000" stroke-width="1.3" />
<line x1="375.50" y1="487.30" x2="375.50" y2="491.50" stroke="#000" stroke-width="1.3" />
<path d="M262.9 384.2 V377.5 H356.9 V462.1 M300.6 377.5 V441.8 M340.3 462.1 H372.1" fill="none" stroke="#000" stroke-width="1.35"/>
<text x="300.60" y="451.00" font-size="9.5" text-anchor="middle" textLength="7.60" lengthAdjust="spacingAndGlyphs" font-weight="bold">**</text>
<text x="356.90" y="469.80" font-size="9.5" text-anchor="middle" textLength="11.40" lengthAdjust="spacingAndGlyphs" font-weight="bold">***</text>
<text x="212.20" y="427.90" font-size="10.5" text-anchor="middle" textLength="135.80" lengthAdjust="spacingAndGlyphs" transform="rotate(-90 212.20 427.90)">Fluorescence intensity (a.u.)</text>
<text x="263.40" y="501.00" font-size="12" text-anchor="end" textLength="31.00" lengthAdjust="spacingAndGlyphs" transform="rotate(-27 263.40 501.00)">Saline</text>
<text x="303.60" y="499.40" font-size="12" text-anchor="end" textLength="19.80" lengthAdjust="spacingAndGlyphs" transform="rotate(-27 303.60 499.40)">Bac</text>
<text x="340.00" y="500.00" font-size="12" text-anchor="end" textLength="25.50" lengthAdjust="spacingAndGlyphs" transform="rotate(-27 340.00 500.00)">Ceria</text>
<text x="377.60" y="500.80" font-size="12" text-anchor="end" textLength="56.50" lengthAdjust="spacingAndGlyphs" transform="rotate(-27 377.60 500.80)">Bac@Ceria</text>
<text x="185.60" y="370.80" font-size="20.5">h</text>
<rect x="456.60" y="456.60" width="20.10" height="30.70" fill="#a6a6a6" />
<line x1="466.65" y1="451.84" x2="466.65" y2="457.10" stroke="#a6a6a6" stroke-width="1.1" />
<line x1="462.25" y1="451.84" x2="471.05" y2="451.84" stroke="#a6a6a6" stroke-width="1.1" />
<rect x="494.30" y="425.90" width="19.90" height="61.40" fill="#333333" />
<line x1="504.25" y1="424.98" x2="504.25" y2="426.40" stroke="#333333" stroke-width="1.1" />
<line x1="499.85" y1="424.98" x2="508.65" y2="424.98" stroke="#333333" stroke-width="1.1" />
<rect x="531.60" y="399.42" width="20.40" height="87.88" fill="#98bee7" />
<line x1="541.80" y1="397.89" x2="541.80" y2="399.92" stroke="#98bee7" stroke-width="1.1" />
<line x1="537.40" y1="397.89" x2="546.20" y2="397.89" stroke="#98bee7" stroke-width="1.1" />
<rect x="569.10" y="414.23" width="20.70" height="73.07" fill="#2e3d99" />
<line x1="579.45" y1="412.16" x2="579.45" y2="414.73" stroke="#2e3d99" stroke-width="1.1" />
<line x1="575.05" y1="412.16" x2="583.85" y2="412.16" stroke="#2e3d99" stroke-width="1.1" />
<line x1="448.40" y1="371.10" x2="448.40" y2="487.90" stroke="#000" stroke-width="1.2" />
<line x1="447.80" y1="487.30" x2="597.80" y2="487.30" stroke="#000" stroke-width="1.25" />
<line x1="444.80" y1="487.30" x2="448.40" y2="487.30" stroke="#000" stroke-width="1.25" />
<text x="443.00" y="491.20" font-size="11" text-anchor="end">0.0</text>
<line x1="444.80" y1="448.93" x2="448.40" y2="448.93" stroke="#000" stroke-width="1.25" />
<text x="443.00" y="452.82" font-size="11" text-anchor="end">0.5</text>
<line x1="444.80" y1="410.55" x2="448.40" y2="410.55" stroke="#000" stroke-width="1.25" />
<text x="443.00" y="414.45" font-size="11" text-anchor="end">1.0</text>
<line x1="444.80" y1="372.18" x2="448.40" y2="372.18" stroke="#000" stroke-width="1.25" />
<text x="443.00" y="376.07" font-size="11" text-anchor="end">1.5</text>
<line x1="467.20" y1="487.30" x2="467.20" y2="491.50" stroke="#000" stroke-width="1.3" />
<line x1="504.20" y1="487.30" x2="504.20" y2="491.50" stroke="#000" stroke-width="1.3" />
<line x1="541.40" y1="487.30" x2="541.40" y2="491.50" stroke="#000" stroke-width="1.3" />
<line x1="578.80" y1="487.30" x2="578.80" y2="491.50" stroke="#000" stroke-width="1.3" />
<path d="M467.2 443.2 V372.2 H560.2 V388.8 M544.7 388.8 H572.8" fill="none" stroke="#000" stroke-width="1.35"/>
<text x="525.80" y="372.20" font-size="9.5" text-anchor="middle" textLength="11.40" lengthAdjust="spacingAndGlyphs" font-weight="bold">***</text>
<text x="421.50" y="428.30" font-size="10.5" text-anchor="middle" textLength="136.70" lengthAdjust="spacingAndGlyphs" transform="rotate(-90 421.50 428.30)">Fluorescence intensity (a.u.)</text>
<text x="467.60" y="501.00" font-size="12" text-anchor="end" textLength="31.00" lengthAdjust="spacingAndGlyphs" transform="rotate(-27 467.60 501.00)">Saline</text>
<text x="507.40" y="499.40" font-size="12" text-anchor="end" textLength="19.80" lengthAdjust="spacingAndGlyphs" transform="rotate(-27 507.40 499.40)">Bac</text>
<text x="543.80" y="500.00" font-size="12" text-anchor="end" textLength="25.50" lengthAdjust="spacingAndGlyphs" transform="rotate(-27 543.80 500.00)">Ceria</text>
<text x="581.20" y="500.80" font-size="12" text-anchor="end" textLength="56.50" lengthAdjust="spacingAndGlyphs" transform="rotate(-27 581.20 500.80)">Bac@Ceria</text>
<text x="403.40" y="370.80" font-size="20.5">i</text>
</svg>
</body></html>
